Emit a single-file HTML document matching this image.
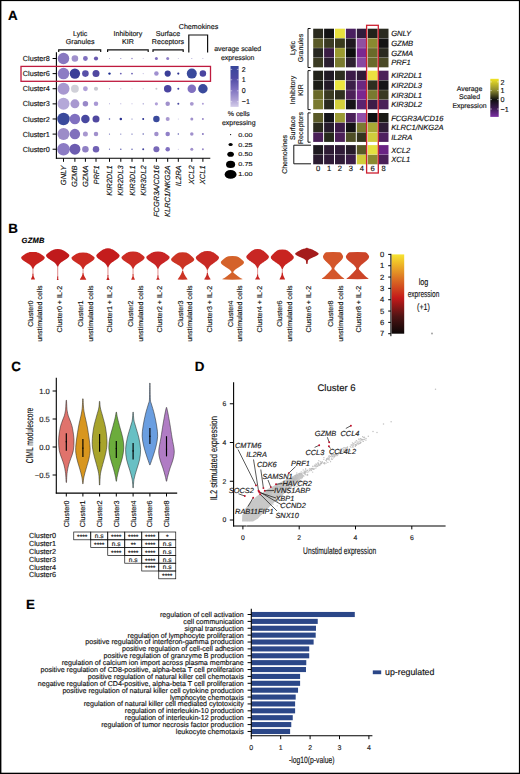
<!DOCTYPE html>
<html><head><meta charset="utf-8"><title>Figure</title>
<style>
html,body{margin:0;padding:0;background:#fff;}
body{width:520px;height:774px;overflow:hidden;}
svg{display:block;}
text{font-family:"Liberation Sans", sans-serif;text-rendering:geometricPrecision;}
</style></head>
<body>
<svg width="520" height="774" viewBox="0 0 520 774" font-family='"Liberation Sans", sans-serif'>
<rect x="0" y="0" width="520" height="774" fill="#fff"/>
<text x="8.00" y="19.80" font-size="13.4" text-anchor="start" fill="#000" stroke="#000" stroke-width="0.15" font-weight="bold">A</text>
<text x="8.30" y="233.10" font-size="13.4" text-anchor="start" fill="#000" stroke="#000" stroke-width="0.15" font-weight="bold">B</text>
<text x="11.30" y="370.80" font-size="13.4" text-anchor="start" fill="#000" stroke="#000" stroke-width="0.15" font-weight="bold">C</text>
<text x="194.80" y="370.80" font-size="13.4" text-anchor="start" fill="#000" stroke="#000" stroke-width="0.15" font-weight="bold">D</text>
<text x="26.00" y="609.20" font-size="13.4" text-anchor="start" fill="#000" stroke="#000" stroke-width="0.15" font-weight="bold">E</text>
<line x1="56.40" y1="52.30" x2="56.40" y2="158.80" stroke="#000" stroke-width="1.1"/>
<line x1="55.90" y1="158.30" x2="210.30" y2="158.30" stroke="#000" stroke-width="1.1"/>
<line x1="52.60" y1="58.50" x2="56.40" y2="58.50" stroke="#000" stroke-width="1.0"/>
<text x="49.80" y="61.05" font-size="7.25" text-anchor="end" fill="#111" stroke="#111" stroke-width="0.15">Cluster8</text>
<line x1="52.60" y1="73.62" x2="56.40" y2="73.62" stroke="#000" stroke-width="1.0"/>
<text x="49.80" y="76.17" font-size="7.25" text-anchor="end" fill="#111" stroke="#111" stroke-width="0.15">Cluster6</text>
<line x1="52.60" y1="88.74" x2="56.40" y2="88.74" stroke="#000" stroke-width="1.0"/>
<text x="49.80" y="91.29" font-size="7.25" text-anchor="end" fill="#111" stroke="#111" stroke-width="0.15">Cluster4</text>
<line x1="52.60" y1="103.86" x2="56.40" y2="103.86" stroke="#000" stroke-width="1.0"/>
<text x="49.80" y="106.41" font-size="7.25" text-anchor="end" fill="#111" stroke="#111" stroke-width="0.15">Cluster3</text>
<line x1="52.60" y1="118.98" x2="56.40" y2="118.98" stroke="#000" stroke-width="1.0"/>
<text x="49.80" y="121.53" font-size="7.25" text-anchor="end" fill="#111" stroke="#111" stroke-width="0.15">Cluster2</text>
<line x1="52.60" y1="134.10" x2="56.40" y2="134.10" stroke="#000" stroke-width="1.0"/>
<text x="49.80" y="136.65" font-size="7.25" text-anchor="end" fill="#111" stroke="#111" stroke-width="0.15">Cluster1</text>
<line x1="52.60" y1="149.22" x2="56.40" y2="149.22" stroke="#000" stroke-width="1.0"/>
<text x="49.80" y="151.77" font-size="7.25" text-anchor="end" fill="#111" stroke="#111" stroke-width="0.15">Cluster0</text>
<line x1="63.50" y1="158.30" x2="63.50" y2="161.80" stroke="#000" stroke-width="1.0"/>
<text x="66.10" y="165.40" font-size="7.5" text-anchor="end" fill="#111" stroke="#111" stroke-width="0.15" font-style="italic" transform="rotate(-90 66.10 165.40)">GNLY</text>
<line x1="74.90" y1="158.30" x2="74.90" y2="161.80" stroke="#000" stroke-width="1.0"/>
<text x="77.50" y="165.40" font-size="7.5" text-anchor="end" fill="#111" stroke="#111" stroke-width="0.15" font-style="italic" transform="rotate(-90 77.50 165.40)">GZMB</text>
<line x1="85.40" y1="158.30" x2="85.40" y2="161.80" stroke="#000" stroke-width="1.0"/>
<text x="88.00" y="165.40" font-size="7.5" text-anchor="end" fill="#111" stroke="#111" stroke-width="0.15" font-style="italic" transform="rotate(-90 88.00 165.40)">GZMA</text>
<line x1="96.00" y1="158.30" x2="96.00" y2="161.80" stroke="#000" stroke-width="1.0"/>
<text x="98.60" y="165.40" font-size="7.5" text-anchor="end" fill="#111" stroke="#111" stroke-width="0.15" font-style="italic" transform="rotate(-90 98.60 165.40)">PRF1</text>
<line x1="109.50" y1="158.30" x2="109.50" y2="161.80" stroke="#000" stroke-width="1.0"/>
<text x="112.10" y="165.40" font-size="7.5" text-anchor="end" fill="#111" stroke="#111" stroke-width="0.15" font-style="italic" transform="rotate(-90 112.10 165.40)">KIR2DL1</text>
<line x1="120.80" y1="158.30" x2="120.80" y2="161.80" stroke="#000" stroke-width="1.0"/>
<text x="123.40" y="165.40" font-size="7.5" text-anchor="end" fill="#111" stroke="#111" stroke-width="0.15" font-style="italic" transform="rotate(-90 123.40 165.40)">KIR2DL3</text>
<line x1="132.00" y1="158.30" x2="132.00" y2="161.80" stroke="#000" stroke-width="1.0"/>
<text x="134.60" y="165.40" font-size="7.5" text-anchor="end" fill="#111" stroke="#111" stroke-width="0.15" font-style="italic" transform="rotate(-90 134.60 165.40)">KIR3DL1</text>
<line x1="143.20" y1="158.30" x2="143.20" y2="161.80" stroke="#000" stroke-width="1.0"/>
<text x="145.80" y="165.40" font-size="7.5" text-anchor="end" fill="#111" stroke="#111" stroke-width="0.15" font-style="italic" transform="rotate(-90 145.80 165.40)">KIR3DL2</text>
<line x1="156.40" y1="158.30" x2="156.40" y2="161.80" stroke="#000" stroke-width="1.0"/>
<text x="159.00" y="165.40" font-size="7.5" text-anchor="end" fill="#111" stroke="#111" stroke-width="0.15" font-style="italic" transform="rotate(-90 159.00 165.40)">FCGR3A/CD16</text>
<line x1="167.70" y1="158.30" x2="167.70" y2="161.80" stroke="#000" stroke-width="1.0"/>
<text x="170.30" y="165.40" font-size="7.5" text-anchor="end" fill="#111" stroke="#111" stroke-width="0.15" font-style="italic" transform="rotate(-90 170.30 165.40)">KLRC1/NKG2A</text>
<line x1="178.30" y1="158.30" x2="178.30" y2="161.80" stroke="#000" stroke-width="1.0"/>
<text x="180.90" y="165.40" font-size="7.5" text-anchor="end" fill="#111" stroke="#111" stroke-width="0.15" font-style="italic" transform="rotate(-90 180.90 165.40)">IL2RA</text>
<line x1="191.80" y1="158.30" x2="191.80" y2="161.80" stroke="#000" stroke-width="1.0"/>
<text x="194.40" y="165.40" font-size="7.5" text-anchor="end" fill="#111" stroke="#111" stroke-width="0.15" font-style="italic" transform="rotate(-90 194.40 165.40)">XCL2</text>
<line x1="202.90" y1="158.30" x2="202.90" y2="161.80" stroke="#000" stroke-width="1.0"/>
<text x="205.50" y="165.40" font-size="7.5" text-anchor="end" fill="#111" stroke="#111" stroke-width="0.15" font-style="italic" transform="rotate(-90 205.50 165.40)">XCL1</text>
<circle cx="63.50" cy="58.50" r="5.75" fill="#8878c0"/>
<circle cx="74.90" cy="58.50" r="3.30" fill="#a090cc"/>
<circle cx="85.40" cy="58.50" r="2.40" fill="#8070c0"/>
<circle cx="96.00" cy="58.50" r="2.10" fill="#6a5ab0"/>
<circle cx="109.50" cy="58.50" r="0.50" fill="#b0a8d8"/>
<circle cx="120.80" cy="58.50" r="0.60" fill="#9088c8"/>
<circle cx="132.00" cy="58.50" r="0.65" fill="#8070c0"/>
<circle cx="143.20" cy="58.50" r="0.50" fill="#c0b8e0"/>
<circle cx="156.40" cy="58.50" r="1.50" fill="#8070c0"/>
<circle cx="167.70" cy="58.50" r="1.50" fill="#9080c8"/>
<circle cx="178.30" cy="58.50" r="0.50" fill="#c0b8e0"/>
<circle cx="191.80" cy="58.50" r="0.60" fill="#b0a8d8"/>
<circle cx="202.90" cy="58.50" r="0.50" fill="#b0a8d8"/>
<circle cx="63.50" cy="73.62" r="5.75" fill="#8c7cc4"/>
<circle cx="74.90" cy="73.62" r="5.20" fill="#3a3e98"/>
<circle cx="85.40" cy="73.62" r="3.30" fill="#5850a8"/>
<circle cx="96.00" cy="73.62" r="3.50" fill="#5048a0"/>
<circle cx="109.50" cy="73.62" r="1.20" fill="#1a2a90"/>
<circle cx="120.80" cy="73.62" r="0.90" fill="#6a60b4"/>
<circle cx="132.00" cy="73.62" r="0.90" fill="#6a60b4"/>
<circle cx="143.20" cy="73.62" r="0.60" fill="#c0b8e0"/>
<circle cx="156.40" cy="73.62" r="2.25" fill="#a090d0"/>
<circle cx="167.70" cy="73.62" r="3.10" fill="#3a3e98"/>
<circle cx="178.30" cy="73.62" r="1.10" fill="#2a3090"/>
<circle cx="191.80" cy="73.62" r="5.00" fill="#3a4a9c"/>
<circle cx="202.90" cy="73.62" r="3.25" fill="#4a44a0"/>
<circle cx="63.50" cy="88.74" r="6.00" fill="#a898d0"/>
<circle cx="74.90" cy="88.74" r="3.90" fill="#d0d0d8"/>
<circle cx="85.40" cy="88.74" r="2.40" fill="#b0a0d8"/>
<circle cx="96.00" cy="88.74" r="2.10" fill="#c8c8d0"/>
<circle cx="109.50" cy="88.74" r="0.60" fill="#9890c8"/>
<circle cx="120.80" cy="88.74" r="0.60" fill="#b0a8d8"/>
<circle cx="132.00" cy="88.74" r="0.50" fill="#d0d0d8"/>
<circle cx="143.20" cy="88.74" r="0.60" fill="#b0a8d8"/>
<circle cx="156.40" cy="88.74" r="1.00" fill="#c8c8d0"/>
<circle cx="167.70" cy="88.74" r="3.75" fill="#4a44a0"/>
<circle cx="178.30" cy="88.74" r="1.00" fill="#4040a0"/>
<circle cx="191.80" cy="88.74" r="4.25" fill="#8070c0"/>
<circle cx="202.90" cy="88.74" r="4.75" fill="#3a4a9c"/>
<circle cx="63.50" cy="103.86" r="6.00" fill="#b4a8d8"/>
<circle cx="74.90" cy="103.86" r="4.50" fill="#a898d0"/>
<circle cx="85.40" cy="103.86" r="2.75" fill="#9888c8"/>
<circle cx="96.00" cy="103.86" r="2.25" fill="#a898d4"/>
<circle cx="109.50" cy="103.86" r="0.50" fill="#a098d0"/>
<circle cx="120.80" cy="103.86" r="0.50" fill="#a098d0"/>
<circle cx="132.00" cy="103.86" r="0.50" fill="#b0a8d8"/>
<circle cx="143.20" cy="103.86" r="0.60" fill="#8078c0"/>
<circle cx="156.40" cy="103.86" r="1.60" fill="#b0a0d8"/>
<circle cx="167.70" cy="103.86" r="2.25" fill="#a090cc"/>
<circle cx="178.30" cy="103.86" r="1.00" fill="#4848a0"/>
<circle cx="191.80" cy="103.86" r="1.90" fill="#a898d0"/>
<circle cx="202.90" cy="103.86" r="1.00" fill="#b0a0d8"/>
<circle cx="63.50" cy="118.98" r="6.25" fill="#3a4a9c"/>
<circle cx="74.90" cy="118.98" r="5.25" fill="#8070c0"/>
<circle cx="85.40" cy="118.98" r="4.25" fill="#4848a0"/>
<circle cx="96.00" cy="118.98" r="3.50" fill="#5048a0"/>
<circle cx="109.50" cy="118.98" r="0.75" fill="#5050a8"/>
<circle cx="120.80" cy="118.98" r="1.25" fill="#2a3090"/>
<circle cx="132.00" cy="118.98" r="0.60" fill="#7070b8"/>
<circle cx="143.20" cy="118.98" r="1.00" fill="#2a3090"/>
<circle cx="156.40" cy="118.98" r="3.25" fill="#3a4a9c"/>
<circle cx="167.70" cy="118.98" r="2.00" fill="#a898d0"/>
<circle cx="178.30" cy="118.98" r="0.50" fill="#c0b8e0"/>
<circle cx="191.80" cy="118.98" r="1.50" fill="#a090cc"/>
<circle cx="202.90" cy="118.98" r="1.00" fill="#9888c8"/>
<circle cx="63.50" cy="134.10" r="6.00" fill="#9c8cc8"/>
<circle cx="74.90" cy="134.10" r="5.25" fill="#8070bc"/>
<circle cx="85.40" cy="134.10" r="2.50" fill="#a898d0"/>
<circle cx="96.00" cy="134.10" r="2.25" fill="#a090cc"/>
<circle cx="109.50" cy="134.10" r="0.60" fill="#7070b8"/>
<circle cx="120.80" cy="134.10" r="0.60" fill="#7070b8"/>
<circle cx="132.00" cy="134.10" r="0.65" fill="#6060b0"/>
<circle cx="143.20" cy="134.10" r="0.75" fill="#6060b0"/>
<circle cx="156.40" cy="134.10" r="2.25" fill="#a090cc"/>
<circle cx="167.70" cy="134.10" r="2.25" fill="#9080c8"/>
<circle cx="178.30" cy="134.10" r="0.75" fill="#6060b0"/>
<circle cx="191.80" cy="134.10" r="1.75" fill="#a090cc"/>
<circle cx="202.90" cy="134.10" r="1.00" fill="#8878c0"/>
<circle cx="63.50" cy="149.22" r="6.25" fill="#8c7cc4"/>
<circle cx="74.90" cy="149.22" r="5.50" fill="#6c5cb0"/>
<circle cx="85.40" cy="149.22" r="3.25" fill="#9080c4"/>
<circle cx="96.00" cy="149.22" r="3.25" fill="#7060b4"/>
<circle cx="109.50" cy="149.22" r="0.60" fill="#7070b8"/>
<circle cx="120.80" cy="149.22" r="0.75" fill="#6060b0"/>
<circle cx="132.00" cy="149.22" r="0.75" fill="#6060b0"/>
<circle cx="143.20" cy="149.22" r="1.00" fill="#4848a0"/>
<circle cx="156.40" cy="149.22" r="3.00" fill="#7868b8"/>
<circle cx="167.70" cy="149.22" r="2.25" fill="#8070c0"/>
<circle cx="178.30" cy="149.22" r="0.50" fill="#c0b8e0"/>
<circle cx="191.80" cy="149.22" r="1.50" fill="#a090cc"/>
<circle cx="202.90" cy="149.22" r="1.00" fill="#9888c8"/>
<rect x="21.00" y="66.40" width="189.50" height="14.90" fill="none" stroke="#be1a3e" stroke-width="1.3"/>
<path d="M58.70 52.10 V49.80 H100.70 V52.10" fill="none" stroke="#111" stroke-width="1.2"/>
<path d="M107.60 52.10 V49.80 H148.20 V52.10" fill="none" stroke="#111" stroke-width="1.2"/>
<path d="M153.00 52.10 V49.80 H183.20 V52.10" fill="none" stroke="#111" stroke-width="1.2"/>
<path d="M188.80 52.50 V35.00 H207.60 V52.50" fill="none" stroke="#111" stroke-width="1.2"/>
<text x="80.20" y="35.70" font-size="7.1" text-anchor="middle" fill="#111" stroke="#111" stroke-width="0.15">Lytic</text>
<text x="80.20" y="44.30" font-size="7.1" text-anchor="middle" fill="#111" stroke="#111" stroke-width="0.15">Granules</text>
<text x="127.90" y="35.70" font-size="7.1" text-anchor="middle" fill="#111" stroke="#111" stroke-width="0.15">Inhibitory</text>
<text x="127.90" y="44.30" font-size="7.1" text-anchor="middle" fill="#111" stroke="#111" stroke-width="0.15">KIR</text>
<text x="168.00" y="35.70" font-size="7.1" text-anchor="middle" fill="#111" stroke="#111" stroke-width="0.15">Surface</text>
<text x="168.00" y="44.30" font-size="7.1" text-anchor="middle" fill="#111" stroke="#111" stroke-width="0.15">Receptors</text>
<text x="198.50" y="29.30" font-size="7.1" text-anchor="middle" fill="#111" stroke="#111" stroke-width="0.15">Chemokines</text>
<text x="237.70" y="50.80" font-size="6.95" text-anchor="middle" fill="#111" stroke="#111" stroke-width="0.15">average scaled</text>
<text x="237.70" y="59.80" font-size="6.95" text-anchor="middle" fill="#111" stroke="#111" stroke-width="0.15">expression</text>
<defs><linearGradient id="gA" x1="0" y1="0" x2="0" y2="1"><stop offset="0" stop-color="#37469a"/><stop offset="0.28" stop-color="#4c48a2"/><stop offset="0.55" stop-color="#7a6ebe"/><stop offset="0.82" stop-color="#ab9fd4"/><stop offset="1" stop-color="#d4cdea"/></linearGradient></defs>
<rect x="230.50" y="66.00" width="8.10" height="40.90" fill="url(#gA)"/>
<line x1="230.50" y1="69.40" x2="232.20" y2="69.40" stroke="#fff" stroke-width="0.5"/>
<line x1="236.90" y1="69.40" x2="238.60" y2="69.40" stroke="#fff" stroke-width="0.5"/>
<text x="241.80" y="71.90" font-size="7.0" text-anchor="start" fill="#111" stroke="#111" stroke-width="0.15">2</text>
<line x1="230.50" y1="79.80" x2="232.20" y2="79.80" stroke="#fff" stroke-width="0.5"/>
<line x1="236.90" y1="79.80" x2="238.60" y2="79.80" stroke="#fff" stroke-width="0.5"/>
<text x="241.80" y="82.30" font-size="7.0" text-anchor="start" fill="#111" stroke="#111" stroke-width="0.15">1</text>
<line x1="230.50" y1="90.80" x2="232.20" y2="90.80" stroke="#fff" stroke-width="0.5"/>
<line x1="236.90" y1="90.80" x2="238.60" y2="90.80" stroke="#fff" stroke-width="0.5"/>
<text x="241.80" y="93.30" font-size="7.0" text-anchor="start" fill="#111" stroke="#111" stroke-width="0.15">0</text>
<line x1="230.50" y1="101.70" x2="232.20" y2="101.70" stroke="#fff" stroke-width="0.5"/>
<line x1="236.90" y1="101.70" x2="238.60" y2="101.70" stroke="#fff" stroke-width="0.5"/>
<text x="241.80" y="104.20" font-size="7.0" text-anchor="start" fill="#111" stroke="#111" stroke-width="0.15">−1</text>
<text x="238.80" y="115.80" font-size="6.95" text-anchor="middle" fill="#111" stroke="#111" stroke-width="0.15">% cells</text>
<text x="238.80" y="124.70" font-size="6.95" text-anchor="middle" fill="#111" stroke="#111" stroke-width="0.15">expressing</text>
<ellipse cx="230.6" cy="134.60" rx="0.65" ry="0.55" fill="#000"/>
<text x="0" y="0" font-size="7.3" fill="#111" stroke="#111" stroke-width="0.15" transform="translate(238.3 136.65) scale(1 0.78)">0.00</text>
<ellipse cx="230.6" cy="144.50" rx="2.10" ry="1.50" fill="#000"/>
<text x="0" y="0" font-size="7.3" fill="#111" stroke="#111" stroke-width="0.15" transform="translate(238.3 146.55) scale(1 0.78)">0.25</text>
<ellipse cx="230.6" cy="154.20" rx="3.30" ry="2.55" fill="#000"/>
<text x="0" y="0" font-size="7.3" fill="#111" stroke="#111" stroke-width="0.15" transform="translate(238.3 156.25) scale(1 0.78)">0.50</text>
<ellipse cx="230.6" cy="164.40" rx="4.55" ry="3.55" fill="#000"/>
<text x="0" y="0" font-size="7.3" fill="#111" stroke="#111" stroke-width="0.15" transform="translate(238.3 166.45) scale(1 0.78)">0.75</text>
<ellipse cx="230.6" cy="174.40" rx="5.95" ry="4.45" fill="#000"/>
<text x="0" y="0" font-size="7.3" fill="#111" stroke="#111" stroke-width="0.15" transform="translate(238.3 176.45) scale(1 0.78)">1.00</text>
<rect x="313.20" y="28.70" width="9.90" height="9.47" fill="#2a2a1e"/>
<rect x="324.10" y="28.70" width="9.90" height="9.47" fill="#141414"/>
<rect x="335.00" y="28.70" width="9.90" height="9.47" fill="#e8e040"/>
<rect x="345.90" y="28.70" width="9.90" height="9.47" fill="#4a2060"/>
<rect x="356.80" y="28.70" width="9.90" height="9.47" fill="#301c3c"/>
<rect x="367.70" y="28.70" width="9.90" height="9.47" fill="#22221a"/>
<rect x="378.60" y="28.70" width="9.90" height="9.47" fill="#2a2a20"/>
<text x="391.20" y="36.26" font-size="7.6" text-anchor="start" fill="#111" stroke="#111" stroke-width="0.15" font-style="italic">GNLY</text>
<rect x="313.20" y="38.42" width="9.90" height="9.47" fill="#5a5a28"/>
<rect x="324.10" y="38.42" width="9.90" height="9.47" fill="#3a3a22"/>
<rect x="335.00" y="38.42" width="9.90" height="9.47" fill="#3a3a1e"/>
<rect x="345.90" y="38.42" width="9.90" height="9.47" fill="#201820"/>
<rect x="356.80" y="38.42" width="9.90" height="9.47" fill="#9050a0"/>
<rect x="367.70" y="38.42" width="9.90" height="9.47" fill="#8a8a30"/>
<rect x="378.60" y="38.42" width="9.90" height="9.47" fill="#141414"/>
<text x="391.20" y="45.98" font-size="7.6" text-anchor="start" fill="#111" stroke="#111" stroke-width="0.15" font-style="italic">GZMB</text>
<rect x="313.20" y="48.14" width="9.90" height="9.47" fill="#262620"/>
<rect x="324.10" y="48.14" width="9.90" height="9.47" fill="#3a1c44"/>
<rect x="335.00" y="48.14" width="9.90" height="9.47" fill="#9a9a30"/>
<rect x="345.90" y="48.14" width="9.90" height="9.47" fill="#0e0e0e"/>
<rect x="356.80" y="48.14" width="9.90" height="9.47" fill="#7a2890"/>
<rect x="367.70" y="48.14" width="9.90" height="9.47" fill="#6a6a2a"/>
<rect x="378.60" y="48.14" width="9.90" height="9.47" fill="#2a2a20"/>
<text x="391.20" y="55.70" font-size="7.6" text-anchor="start" fill="#111" stroke="#111" stroke-width="0.15" font-style="italic">GZMA</text>
<rect x="313.20" y="57.86" width="9.90" height="9.47" fill="#3a3a22"/>
<rect x="324.10" y="57.86" width="9.90" height="9.47" fill="#2a1e30"/>
<rect x="335.00" y="57.86" width="9.90" height="9.47" fill="#7a7a30"/>
<rect x="345.90" y="57.86" width="9.90" height="9.47" fill="#2e2030"/>
<rect x="356.80" y="57.86" width="9.90" height="9.47" fill="#8848a0"/>
<rect x="367.70" y="57.86" width="9.90" height="9.47" fill="#6a6a2c"/>
<rect x="378.60" y="57.86" width="9.90" height="9.47" fill="#4a4a26"/>
<text x="391.20" y="65.42" font-size="7.6" text-anchor="start" fill="#111" stroke="#111" stroke-width="0.15" font-style="italic">PRF1</text>
<rect x="313.20" y="70.70" width="9.90" height="9.47" fill="#22221a"/>
<rect x="324.10" y="70.70" width="9.90" height="9.47" fill="#201a24"/>
<rect x="335.00" y="70.70" width="9.90" height="9.47" fill="#2e2e20"/>
<rect x="345.90" y="70.70" width="9.90" height="9.47" fill="#3c1c48"/>
<rect x="356.80" y="70.70" width="9.90" height="9.47" fill="#301c38"/>
<rect x="367.70" y="70.70" width="9.90" height="9.47" fill="#ece040"/>
<rect x="378.60" y="70.70" width="9.90" height="9.47" fill="#4a2058"/>
<text x="391.20" y="78.26" font-size="7.6" text-anchor="start" fill="#111" stroke="#111" stroke-width="0.15" font-style="italic">KIR2DL1</text>
<rect x="313.20" y="80.42" width="9.90" height="9.47" fill="#1e1e18"/>
<rect x="324.10" y="80.42" width="9.90" height="9.47" fill="#241a28"/>
<rect x="335.00" y="80.42" width="9.90" height="9.47" fill="#ece440"/>
<rect x="345.90" y="80.42" width="9.90" height="9.47" fill="#3c1e48"/>
<rect x="356.80" y="80.42" width="9.90" height="9.47" fill="#6a2880"/>
<rect x="367.70" y="80.42" width="9.90" height="9.47" fill="#2e2e20"/>
<rect x="378.60" y="80.42" width="9.90" height="9.47" fill="#141418"/>
<text x="391.20" y="87.98" font-size="7.6" text-anchor="start" fill="#111" stroke="#111" stroke-width="0.15" font-style="italic">KIR2DL3</text>
<rect x="313.20" y="90.14" width="9.90" height="9.47" fill="#6a6a2a"/>
<rect x="324.10" y="90.14" width="9.90" height="9.47" fill="#3a3a22"/>
<rect x="335.00" y="90.14" width="9.90" height="9.47" fill="#303020"/>
<rect x="345.90" y="90.14" width="9.90" height="9.47" fill="#4c2058"/>
<rect x="356.80" y="90.14" width="9.90" height="9.47" fill="#7a2890"/>
<rect x="367.70" y="90.14" width="9.90" height="9.47" fill="#7a7a30"/>
<rect x="378.60" y="90.14" width="9.90" height="9.47" fill="#3a3a22"/>
<text x="391.20" y="97.70" font-size="7.6" text-anchor="start" fill="#111" stroke="#111" stroke-width="0.15" font-style="italic">KIR3DL1</text>
<rect x="313.20" y="99.86" width="9.90" height="9.47" fill="#7a7a30"/>
<rect x="324.10" y="99.86" width="9.90" height="9.47" fill="#2a2a1e"/>
<rect x="335.00" y="99.86" width="9.90" height="9.47" fill="#d4d03c"/>
<rect x="345.90" y="99.86" width="9.90" height="9.47" fill="#161418"/>
<rect x="356.80" y="99.86" width="9.90" height="9.47" fill="#5a2470"/>
<rect x="367.70" y="99.86" width="9.90" height="9.47" fill="#3e1c48"/>
<rect x="378.60" y="99.86" width="9.90" height="9.47" fill="#4a2058"/>
<text x="391.20" y="107.42" font-size="7.6" text-anchor="start" fill="#111" stroke="#111" stroke-width="0.15" font-style="italic">KIR3DL2</text>
<rect x="313.20" y="113.00" width="9.90" height="9.47" fill="#5a5a28"/>
<rect x="324.10" y="113.00" width="9.90" height="9.47" fill="#141418"/>
<rect x="335.00" y="113.00" width="9.90" height="9.47" fill="#9a9a34"/>
<rect x="345.90" y="113.00" width="9.90" height="9.47" fill="#4a2058"/>
<rect x="356.80" y="113.00" width="9.90" height="9.47" fill="#9050a8"/>
<rect x="367.70" y="113.00" width="9.90" height="9.47" fill="#0e0e10"/>
<rect x="378.60" y="113.00" width="9.90" height="9.47" fill="#1a1a16"/>
<text x="391.20" y="120.56" font-size="7.6" text-anchor="start" fill="#111" stroke="#111" stroke-width="0.15" font-style="italic">FCGR3A/CD16</text>
<rect x="313.20" y="122.72" width="9.90" height="9.47" fill="#2a2a1e"/>
<rect x="324.10" y="122.72" width="9.90" height="9.47" fill="#261c2c"/>
<rect x="335.00" y="122.72" width="9.90" height="9.47" fill="#3c1c48"/>
<rect x="345.90" y="122.72" width="9.90" height="9.47" fill="#141214"/>
<rect x="356.80" y="122.72" width="9.90" height="9.47" fill="#7a7a30"/>
<rect x="367.70" y="122.72" width="9.90" height="9.47" fill="#a8a834"/>
<rect x="378.60" y="122.72" width="9.90" height="9.47" fill="#2e1c36"/>
<text x="391.20" y="130.28" font-size="7.6" text-anchor="start" fill="#111" stroke="#111" stroke-width="0.15" font-style="italic">KLRC1/NKG2A</text>
<rect x="313.20" y="132.44" width="9.90" height="9.47" fill="#4a2058"/>
<rect x="324.10" y="132.44" width="9.90" height="9.47" fill="#262a1c"/>
<rect x="335.00" y="132.44" width="9.90" height="9.47" fill="#4c2058"/>
<rect x="345.90" y="132.44" width="9.90" height="9.47" fill="#4e4e26"/>
<rect x="356.80" y="132.44" width="9.90" height="9.47" fill="#34341e"/>
<rect x="367.70" y="132.44" width="9.90" height="9.47" fill="#d0cc3c"/>
<rect x="378.60" y="132.44" width="9.90" height="9.47" fill="#4e2060"/>
<text x="391.20" y="140.00" font-size="7.6" text-anchor="start" fill="#111" stroke="#111" stroke-width="0.15" font-style="italic">IL2RA</text>
<rect x="313.20" y="145.10" width="9.90" height="9.47" fill="#1e1a20"/>
<rect x="324.10" y="145.10" width="9.90" height="9.47" fill="#2e1c34"/>
<rect x="335.00" y="145.10" width="9.90" height="9.47" fill="#301c38"/>
<rect x="345.90" y="145.10" width="9.90" height="9.47" fill="#261c2a"/>
<rect x="356.80" y="145.10" width="9.90" height="9.47" fill="#5a5a28"/>
<rect x="367.70" y="145.10" width="9.90" height="9.47" fill="#e4e040"/>
<rect x="378.60" y="145.10" width="9.90" height="9.47" fill="#6a2484"/>
<text x="391.20" y="152.66" font-size="7.6" text-anchor="start" fill="#111" stroke="#111" stroke-width="0.15" font-style="italic">XCL2</text>
<rect x="313.20" y="154.82" width="9.90" height="9.47" fill="#2a1c30"/>
<rect x="324.10" y="154.82" width="9.90" height="9.47" fill="#301c38"/>
<rect x="335.00" y="154.82" width="9.90" height="9.47" fill="#301c38"/>
<rect x="345.90" y="154.82" width="9.90" height="9.47" fill="#3c1e48"/>
<rect x="356.80" y="154.82" width="9.90" height="9.47" fill="#d0cc3c"/>
<rect x="367.70" y="154.82" width="9.90" height="9.47" fill="#8a8a30"/>
<rect x="378.60" y="154.82" width="9.90" height="9.47" fill="#4a2058"/>
<text x="391.20" y="162.38" font-size="7.6" text-anchor="start" fill="#111" stroke="#111" stroke-width="0.15" font-style="italic">XCL1</text>
<text x="318.15" y="171.40" font-size="7.6" text-anchor="middle" fill="#111" stroke="#111" stroke-width="0.15">0</text>
<text x="329.05" y="171.40" font-size="7.6" text-anchor="middle" fill="#111" stroke="#111" stroke-width="0.15">1</text>
<text x="339.95" y="171.40" font-size="7.6" text-anchor="middle" fill="#111" stroke="#111" stroke-width="0.15">2</text>
<text x="350.85" y="171.40" font-size="7.6" text-anchor="middle" fill="#111" stroke="#111" stroke-width="0.15">3</text>
<text x="361.75" y="171.40" font-size="7.6" text-anchor="middle" fill="#111" stroke="#111" stroke-width="0.15">4</text>
<text x="372.65" y="171.40" font-size="7.6" text-anchor="middle" fill="#111" stroke="#111" stroke-width="0.15">6</text>
<text x="383.55" y="171.40" font-size="7.6" text-anchor="middle" fill="#111" stroke="#111" stroke-width="0.15">8</text>
<rect x="366.60" y="25.30" width="11.70" height="147.70" fill="none" stroke="#cc2030" stroke-width="1.3"/>
<path d="M310.60 28.50 H308.00 V67.50 H310.60" fill="none" stroke="#151515" stroke-width="1.0"/>
<path d="M310.60 70.60 H308.00 V109.60 H310.60" fill="none" stroke="#151515" stroke-width="1.0"/>
<path d="M310.60 112.90 H308.00 V142.20 H310.60" fill="none" stroke="#151515" stroke-width="1.0"/>
<path d="M311.0 145.2 H293.8 V163.8 H311.0" fill="none" stroke="#151515" stroke-width="1.0"/>
<text x="294.60" y="48.00" font-size="7.0" text-anchor="middle" fill="#111" stroke="#111" stroke-width="0.15" transform="rotate(-90 294.60 48.00)">Lytic</text>
<text x="302.80" y="48.00" font-size="7.0" text-anchor="middle" fill="#111" stroke="#111" stroke-width="0.15" transform="rotate(-90 302.80 48.00)">Granules</text>
<text x="294.60" y="90.00" font-size="7.0" text-anchor="middle" fill="#111" stroke="#111" stroke-width="0.15" transform="rotate(-90 294.60 90.00)">Inhibitory</text>
<text x="302.80" y="90.00" font-size="7.0" text-anchor="middle" fill="#111" stroke="#111" stroke-width="0.15" transform="rotate(-90 302.80 90.00)">KIR</text>
<text x="294.60" y="128.00" font-size="7.0" text-anchor="middle" fill="#111" stroke="#111" stroke-width="0.15" transform="rotate(-90 294.60 128.00)">Surface</text>
<text x="302.80" y="128.00" font-size="7.0" text-anchor="middle" fill="#111" stroke="#111" stroke-width="0.15" transform="rotate(-90 302.80 128.00)">Receptors</text>
<text x="287.00" y="154.40" font-size="7.0" text-anchor="middle" fill="#111" stroke="#111" stroke-width="0.15" transform="rotate(-90 287.00 154.40)">Chemokines</text>
<text x="469.50" y="90.60" font-size="6.9" text-anchor="middle" fill="#111" stroke="#111" stroke-width="0.15">Average</text>
<text x="469.50" y="99.40" font-size="6.9" text-anchor="middle" fill="#111" stroke="#111" stroke-width="0.15">Scaled</text>
<text x="469.50" y="108.10" font-size="6.9" text-anchor="middle" fill="#111" stroke="#111" stroke-width="0.15">Expression</text>
<defs><linearGradient id="gH" x1="0" y1="0" x2="0" y2="1"><stop offset="0" stop-color="#f2e424"/><stop offset="0.3" stop-color="#8c8a30"/><stop offset="0.55" stop-color="#0e0e0e"/><stop offset="0.78" stop-color="#3c1a52"/><stop offset="1" stop-color="#7c30a4"/></linearGradient></defs>
<rect x="490.30" y="78.80" width="8.40" height="38.10" fill="url(#gH)"/>
<line x1="490.30" y1="81.90" x2="491.90" y2="81.90" stroke="#fff" stroke-width="0.5"/>
<line x1="497.10" y1="81.90" x2="498.70" y2="81.90" stroke="#fff" stroke-width="0.5"/>
<text x="500.60" y="84.50" font-size="7.2" text-anchor="start" fill="#111" stroke="#111" stroke-width="0.15">2</text>
<line x1="490.30" y1="90.60" x2="491.90" y2="90.60" stroke="#fff" stroke-width="0.5"/>
<line x1="497.10" y1="90.60" x2="498.70" y2="90.60" stroke="#fff" stroke-width="0.5"/>
<text x="500.60" y="93.20" font-size="7.2" text-anchor="start" fill="#111" stroke="#111" stroke-width="0.15">1</text>
<line x1="490.30" y1="99.60" x2="491.90" y2="99.60" stroke="#fff" stroke-width="0.5"/>
<line x1="497.10" y1="99.60" x2="498.70" y2="99.60" stroke="#fff" stroke-width="0.5"/>
<text x="500.60" y="102.20" font-size="7.2" text-anchor="start" fill="#111" stroke="#111" stroke-width="0.15">0</text>
<line x1="490.30" y1="109.00" x2="491.90" y2="109.00" stroke="#fff" stroke-width="0.5"/>
<line x1="497.10" y1="109.00" x2="498.70" y2="109.00" stroke="#fff" stroke-width="0.5"/>
<text x="500.60" y="111.60" font-size="7.2" text-anchor="start" fill="#111" stroke="#111" stroke-width="0.15">−1</text>
<text x="21.60" y="242.60" font-size="7.5" text-anchor="start" fill="#000" stroke="#000" stroke-width="0.15" font-style="italic" font-weight="bold" letter-spacing="0.25">GZMB</text>
<path d="M32.95 251.90 L36.29 252.09 L36.79 252.28 L37.36 252.47 L37.92 252.66 L38.45 252.84 L38.94 253.03 L39.37 253.22 L39.74 253.41 L40.07 253.60 L40.38 253.79 L40.66 253.98 L40.92 254.17 L41.19 254.35 L41.45 254.54 L41.72 254.73 L42.00 254.92 L42.28 255.11 L42.55 255.30 L42.81 255.49 L43.06 255.68 L43.30 255.86 L43.51 256.05 L43.72 256.24 L43.95 256.43 L44.17 256.62 L44.37 256.81 L44.54 257.00 L44.65 257.19 L44.70 257.37 L44.69 257.56 L44.67 257.75 L44.63 257.94 L44.59 258.13 L44.53 258.32 L44.47 258.51 L44.40 258.70 L44.29 258.88 L44.15 259.07 L43.98 259.26 L43.80 259.45 L43.60 259.64 L43.41 259.83 L43.20 260.02 L42.98 260.21 L42.74 260.39 L42.48 260.58 L42.22 260.77 L41.94 260.96 L41.65 261.15 L41.36 261.34 L41.07 261.53 L40.77 261.72 L40.47 261.90 L40.17 262.09 L39.88 262.28 L39.59 262.47 L39.31 262.66 L39.03 262.85 L38.74 263.04 L38.44 263.23 L38.14 263.41 L37.83 263.60 L37.53 263.79 L37.23 263.98 L36.94 264.17 L36.66 264.36 L36.40 264.55 L36.16 264.74 L35.94 264.92 L35.74 265.11 L35.56 265.30 L35.38 265.49 L35.21 265.68 L35.05 265.87 L34.89 266.06 L34.74 266.25 L34.60 266.43 L34.47 266.62 L34.34 266.81 L34.22 267.00 L34.11 267.19 L34.01 267.38 L33.92 267.57 L33.83 267.76 L33.75 267.94 L33.68 268.13 L33.61 268.32 L33.55 268.51 L33.50 268.70 L32.40 268.70 L32.35 268.51 L32.29 268.32 L32.22 268.13 L32.15 267.94 L32.07 267.76 L31.98 267.57 L31.89 267.38 L31.79 267.19 L31.68 267.00 L31.56 266.81 L31.43 266.62 L31.30 266.43 L31.16 266.25 L31.01 266.06 L30.85 265.87 L30.69 265.68 L30.52 265.49 L30.34 265.30 L30.16 265.11 L29.96 264.92 L29.74 264.74 L29.50 264.55 L29.24 264.36 L28.96 264.17 L28.67 263.98 L28.37 263.79 L28.07 263.60 L27.76 263.41 L27.46 263.23 L27.16 263.04 L26.87 262.85 L26.59 262.66 L26.31 262.47 L26.02 262.28 L25.73 262.09 L25.43 261.90 L25.13 261.72 L24.83 261.53 L24.54 261.34 L24.25 261.15 L23.96 260.96 L23.68 260.77 L23.42 260.58 L23.16 260.39 L22.92 260.21 L22.70 260.02 L22.49 259.83 L22.30 259.64 L22.10 259.45 L21.92 259.26 L21.75 259.07 L21.61 258.88 L21.50 258.70 L21.43 258.51 L21.37 258.32 L21.31 258.13 L21.27 257.94 L21.23 257.75 L21.21 257.56 L21.20 257.37 L21.25 257.19 L21.36 257.00 L21.53 256.81 L21.73 256.62 L21.95 256.43 L22.18 256.24 L22.39 256.05 L22.60 255.86 L22.84 255.68 L23.09 255.49 L23.35 255.30 L23.62 255.11 L23.90 254.92 L24.18 254.73 L24.45 254.54 L24.71 254.35 L24.98 254.17 L25.24 253.98 L25.52 253.79 L25.83 253.60 L26.16 253.41 L26.53 253.22 L26.96 253.03 L27.45 252.84 L27.98 252.66 L28.54 252.47 L29.11 252.28 L29.61 252.09 L32.95 251.90 Z" fill="#c8221e"/>
<rect x="32.45" y="268.50" width="1.00" height="6.00" fill="#c8221e" opacity="0.5"/>
<path d="M33.45 273.70 L33.45 273.85 L33.45 274.00 L33.46 274.15 L33.46 274.31 L33.47 274.46 L33.48 274.61 L33.49 274.76 L33.51 274.91 L33.52 275.06 L33.53 275.21 L33.55 275.36 L33.56 275.52 L33.58 275.67 L33.60 275.82 L33.63 275.97 L33.66 276.12 L33.71 276.27 L33.76 276.42 L33.82 276.57 L33.88 276.73 L33.94 276.88 L34.01 277.03 L34.07 277.18 L34.14 277.33 L34.20 277.48 L34.25 277.63 L34.31 277.78 L34.38 277.94 L34.44 278.09 L34.52 278.24 L34.59 278.39 L34.66 278.54 L34.73 278.69 L34.79 278.84 L34.85 278.99 L34.89 279.15 L34.93 279.30 L34.95 279.45 L32.95 279.60 L32.95 279.60 L30.95 279.45 L30.97 279.30 L31.01 279.15 L31.05 278.99 L31.11 278.84 L31.17 278.69 L31.24 278.54 L31.31 278.39 L31.38 278.24 L31.46 278.09 L31.52 277.94 L31.59 277.78 L31.65 277.63 L31.70 277.48 L31.76 277.33 L31.83 277.18 L31.89 277.03 L31.96 276.88 L32.02 276.73 L32.08 276.57 L32.14 276.42 L32.19 276.27 L32.24 276.12 L32.27 275.97 L32.30 275.82 L32.32 275.67 L32.34 275.52 L32.35 275.36 L32.37 275.21 L32.38 275.06 L32.39 274.91 L32.41 274.76 L32.42 274.61 L32.43 274.46 L32.44 274.31 L32.44 274.15 L32.45 274.00 L32.45 273.85 L32.45 273.70 Z" fill="#c8221e"/>
<path d="M57.70 249.00 L60.41 249.20 L60.85 249.40 L61.39 249.59 L61.93 249.79 L62.46 249.99 L62.96 250.19 L63.41 250.38 L63.81 250.58 L64.16 250.78 L64.48 250.98 L64.77 251.18 L65.05 251.37 L65.32 251.57 L65.58 251.77 L65.84 251.97 L66.11 252.16 L66.39 252.36 L66.67 252.56 L66.94 252.76 L67.21 252.96 L67.46 253.15 L67.71 253.35 L67.93 253.55 L68.14 253.75 L68.36 253.94 L68.58 254.14 L68.80 254.34 L69.00 254.54 L69.17 254.73 L69.29 254.93 L69.35 255.13 L69.35 255.33 L69.33 255.53 L69.29 255.72 L69.24 255.92 L69.18 256.12 L69.12 256.32 L69.05 256.51 L68.94 256.71 L68.79 256.91 L68.61 257.11 L68.42 257.31 L68.22 257.50 L68.02 257.70 L67.80 257.90 L67.57 258.10 L67.32 258.29 L67.05 258.49 L66.77 258.69 L66.48 258.89 L66.18 259.09 L65.88 259.28 L65.57 259.48 L65.27 259.68 L64.96 259.88 L64.66 260.07 L64.36 260.27 L64.07 260.47 L63.79 260.67 L63.49 260.87 L63.18 261.06 L62.87 261.26 L62.55 261.46 L62.24 261.66 L61.94 261.85 L61.64 262.05 L61.36 262.25 L61.09 262.45 L60.84 262.64 L60.62 262.84 L60.42 263.04 L60.24 263.24 L60.06 263.44 L59.89 263.63 L59.72 263.83 L59.56 264.03 L59.42 264.23 L59.27 264.42 L59.14 264.62 L59.02 264.82 L58.90 265.02 L58.79 265.22 L58.69 265.41 L58.60 265.61 L58.52 265.81 L58.44 266.01 L58.37 266.20 L58.30 266.40 L58.25 266.60 L57.15 266.60 L57.10 266.40 L57.03 266.20 L56.96 266.01 L56.88 265.81 L56.80 265.61 L56.71 265.41 L56.61 265.22 L56.50 265.02 L56.38 264.82 L56.26 264.62 L56.13 264.42 L55.98 264.23 L55.84 264.03 L55.68 263.83 L55.51 263.63 L55.34 263.44 L55.16 263.24 L54.98 263.04 L54.78 262.84 L54.56 262.64 L54.31 262.45 L54.04 262.25 L53.76 262.05 L53.46 261.85 L53.16 261.66 L52.85 261.46 L52.53 261.26 L52.22 261.06 L51.91 260.87 L51.61 260.67 L51.33 260.47 L51.04 260.27 L50.74 260.07 L50.44 259.88 L50.13 259.68 L49.83 259.48 L49.52 259.28 L49.22 259.09 L48.92 258.89 L48.63 258.69 L48.35 258.49 L48.08 258.29 L47.83 258.10 L47.60 257.90 L47.38 257.70 L47.18 257.50 L46.98 257.31 L46.79 257.11 L46.61 256.91 L46.46 256.71 L46.35 256.51 L46.28 256.32 L46.22 256.12 L46.16 255.92 L46.11 255.72 L46.07 255.53 L46.05 255.33 L46.05 255.13 L46.11 254.93 L46.23 254.73 L46.40 254.54 L46.60 254.34 L46.82 254.14 L47.04 253.94 L47.26 253.75 L47.47 253.55 L47.69 253.35 L47.94 253.15 L48.19 252.96 L48.46 252.76 L48.73 252.56 L49.01 252.36 L49.29 252.16 L49.56 251.97 L49.82 251.77 L50.08 251.57 L50.35 251.37 L50.63 251.18 L50.92 250.98 L51.24 250.78 L51.59 250.58 L51.99 250.38 L52.44 250.19 L52.94 249.99 L53.47 249.79 L54.01 249.59 L54.55 249.40 L54.99 249.20 L57.70 249.00 Z" fill="#c01a1c"/>
<rect x="57.20" y="266.40" width="1.00" height="11.00" fill="#c01a1c" opacity="0.5"/>
<path d="M58.20 276.60 L58.20 276.69 L58.20 276.77 L58.20 276.86 L58.20 276.95 L58.20 277.04 L58.20 277.12 L58.20 277.21 L58.20 277.30 L58.20 277.38 L58.20 277.47 L58.20 277.56 L58.20 277.65 L58.20 277.73 L58.20 277.82 L58.20 277.91 L58.20 277.99 L58.20 278.08 L58.21 278.17 L58.21 278.26 L58.22 278.34 L58.23 278.43 L58.24 278.52 L58.25 278.61 L58.26 278.69 L58.27 278.78 L58.28 278.87 L58.29 278.95 L58.31 279.04 L58.34 279.13 L58.37 279.22 L58.40 279.30 L58.44 279.39 L58.48 279.48 L58.51 279.56 L58.54 279.65 L58.57 279.74 L58.59 279.83 L58.60 279.91 L57.70 280.00 L57.70 280.00 L56.80 279.91 L56.81 279.83 L56.83 279.74 L56.86 279.65 L56.89 279.56 L56.92 279.48 L56.96 279.39 L57.00 279.30 L57.03 279.22 L57.06 279.13 L57.09 279.04 L57.11 278.95 L57.12 278.87 L57.13 278.78 L57.14 278.69 L57.15 278.61 L57.16 278.52 L57.17 278.43 L57.18 278.34 L57.19 278.26 L57.19 278.17 L57.20 278.08 L57.20 277.99 L57.20 277.91 L57.20 277.82 L57.20 277.73 L57.20 277.65 L57.20 277.56 L57.20 277.47 L57.20 277.38 L57.20 277.30 L57.20 277.21 L57.20 277.12 L57.20 277.04 L57.20 276.95 L57.20 276.86 L57.20 276.77 L57.20 276.69 L57.20 276.60 Z" fill="#c01a1c"/>
<path d="M83.05 252.50 L86.39 252.69 L86.88 252.87 L87.47 253.06 L88.05 253.25 L88.60 253.43 L89.10 253.62 L89.52 253.81 L89.89 253.99 L90.21 254.18 L90.51 254.37 L90.79 254.55 L91.06 254.74 L91.32 254.92 L91.60 255.11 L91.88 255.30 L92.16 255.48 L92.44 255.67 L92.71 255.86 L92.97 256.04 L93.21 256.23 L93.43 256.42 L93.65 256.60 L93.88 256.79 L94.10 256.98 L94.30 257.16 L94.46 257.35 L94.57 257.54 L94.60 257.72 L94.59 257.91 L94.56 258.10 L94.53 258.28 L94.48 258.47 L94.42 258.66 L94.36 258.84 L94.29 259.03 L94.19 259.21 L94.05 259.40 L93.89 259.59 L93.71 259.77 L93.52 259.96 L93.33 260.15 L93.14 260.33 L92.93 260.52 L92.70 260.71 L92.45 260.89 L92.20 261.08 L91.93 261.27 L91.66 261.45 L91.38 261.64 L91.10 261.83 L90.81 262.01 L90.52 262.20 L90.24 262.39 L89.96 262.57 L89.68 262.76 L89.41 262.94 L89.14 263.13 L88.86 263.32 L88.58 263.50 L88.29 263.69 L87.99 263.88 L87.70 264.06 L87.41 264.25 L87.13 264.44 L86.86 264.62 L86.60 264.81 L86.35 265.00 L86.13 265.18 L85.93 265.37 L85.74 265.56 L85.57 265.74 L85.40 265.93 L85.24 266.12 L85.09 266.30 L84.94 266.49 L84.80 266.68 L84.66 266.86 L84.54 267.05 L84.42 267.23 L84.30 267.42 L84.20 267.61 L84.10 267.79 L84.01 267.98 L83.93 268.17 L83.85 268.35 L83.78 268.54 L83.71 268.73 L83.65 268.91 L83.60 269.10 L82.50 269.10 L82.45 268.91 L82.39 268.73 L82.32 268.54 L82.25 268.35 L82.17 268.17 L82.09 267.98 L82.00 267.79 L81.90 267.61 L81.80 267.42 L81.68 267.23 L81.56 267.05 L81.44 266.86 L81.30 266.68 L81.16 266.49 L81.01 266.30 L80.86 266.12 L80.70 265.93 L80.53 265.74 L80.36 265.56 L80.17 265.37 L79.97 265.18 L79.75 265.00 L79.50 264.81 L79.24 264.62 L78.97 264.44 L78.69 264.25 L78.40 264.06 L78.11 263.88 L77.81 263.69 L77.52 263.50 L77.24 263.32 L76.96 263.13 L76.69 262.94 L76.42 262.76 L76.14 262.57 L75.86 262.39 L75.58 262.20 L75.29 262.01 L75.00 261.83 L74.72 261.64 L74.44 261.45 L74.17 261.27 L73.90 261.08 L73.65 260.89 L73.40 260.71 L73.17 260.52 L72.96 260.33 L72.77 260.15 L72.58 259.96 L72.39 259.77 L72.21 259.59 L72.05 259.40 L71.91 259.21 L71.81 259.03 L71.74 258.84 L71.68 258.66 L71.62 258.47 L71.57 258.28 L71.54 258.10 L71.51 257.91 L71.50 257.72 L71.53 257.54 L71.64 257.35 L71.80 257.16 L72.00 256.98 L72.22 256.79 L72.45 256.60 L72.67 256.42 L72.89 256.23 L73.13 256.04 L73.39 255.86 L73.66 255.67 L73.94 255.48 L74.22 255.30 L74.50 255.11 L74.78 254.92 L75.04 254.74 L75.31 254.55 L75.59 254.37 L75.89 254.18 L76.21 253.99 L76.58 253.81 L77.00 253.62 L77.50 253.43 L78.05 253.25 L78.63 253.06 L79.22 252.87 L79.71 252.69 L83.05 252.50 Z" fill="#cc2a22"/>
<rect x="82.55" y="268.90" width="1.00" height="5.10" fill="#cc2a22" opacity="0.5"/>
<path d="M83.55 273.20 L83.57 273.37 L83.59 273.54 L83.61 273.71 L83.64 273.88 L83.68 274.05 L83.71 274.22 L83.75 274.38 L83.80 274.55 L83.84 274.72 L83.89 274.89 L83.94 275.06 L83.99 275.23 L84.04 275.40 L84.09 275.57 L84.16 275.74 L84.23 275.91 L84.30 276.08 L84.39 276.25 L84.47 276.42 L84.56 276.58 L84.66 276.75 L84.75 276.92 L84.84 277.09 L84.94 277.26 L85.03 277.43 L85.11 277.60 L85.20 277.77 L85.30 277.94 L85.41 278.11 L85.52 278.28 L85.64 278.45 L85.75 278.62 L85.86 278.78 L85.95 278.95 L86.04 279.12 L86.11 279.29 L86.16 279.46 L86.19 279.63 L83.05 279.80 L83.05 279.80 L79.91 279.63 L79.94 279.46 L79.99 279.29 L80.06 279.12 L80.15 278.95 L80.24 278.78 L80.35 278.62 L80.46 278.45 L80.58 278.28 L80.69 278.11 L80.80 277.94 L80.90 277.77 L80.99 277.60 L81.07 277.43 L81.16 277.26 L81.26 277.09 L81.35 276.92 L81.44 276.75 L81.54 276.58 L81.63 276.42 L81.71 276.25 L81.80 276.08 L81.87 275.91 L81.94 275.74 L82.01 275.57 L82.06 275.40 L82.11 275.23 L82.16 275.06 L82.21 274.89 L82.26 274.72 L82.30 274.55 L82.35 274.38 L82.39 274.22 L82.42 274.05 L82.46 273.88 L82.49 273.71 L82.51 273.54 L82.53 273.37 L82.55 273.20 Z" fill="#cc2a22"/>
<path d="M107.95 248.30 L110.30 248.51 L110.74 248.72 L111.24 248.94 L111.75 249.15 L112.26 249.36 L112.75 249.57 L113.20 249.79 L113.61 250.00 L113.97 250.21 L114.29 250.42 L114.60 250.64 L114.88 250.85 L115.15 251.06 L115.42 251.27 L115.67 251.49 L115.93 251.70 L116.20 251.91 L116.47 252.12 L116.74 252.33 L117.01 252.55 L117.27 252.76 L117.53 252.97 L117.77 253.18 L118.00 253.40 L118.21 253.61 L118.42 253.82 L118.64 254.03 L118.86 254.25 L119.07 254.46 L119.26 254.67 L119.42 254.88 L119.53 255.10 L119.59 255.31 L119.60 255.52 L119.58 255.73 L119.54 255.94 L119.49 256.16 L119.43 256.37 L119.36 256.58 L119.28 256.79 L119.16 257.01 L119.00 257.22 L118.82 257.43 L118.62 257.64 L118.41 257.86 L118.20 258.07 L117.97 258.28 L117.72 258.49 L117.45 258.71 L117.17 258.92 L116.87 259.13 L116.57 259.34 L116.26 259.56 L115.95 259.77 L115.63 259.98 L115.31 260.19 L115.00 260.40 L114.69 260.62 L114.39 260.83 L114.09 261.04 L113.79 261.25 L113.47 261.47 L113.15 261.68 L112.82 261.89 L112.50 262.10 L112.18 262.32 L111.88 262.53 L111.59 262.74 L111.31 262.95 L111.06 263.17 L110.84 263.38 L110.64 263.59 L110.45 263.80 L110.26 264.01 L110.09 264.23 L109.92 264.44 L109.76 264.65 L109.61 264.86 L109.47 265.08 L109.34 265.29 L109.21 265.50 L109.09 265.71 L108.99 265.93 L108.89 266.14 L108.79 266.35 L108.71 266.56 L108.63 266.78 L108.56 266.99 L108.50 267.20 L107.40 267.20 L107.34 266.99 L107.27 266.78 L107.19 266.56 L107.11 266.35 L107.01 266.14 L106.91 265.93 L106.81 265.71 L106.69 265.50 L106.56 265.29 L106.43 265.08 L106.29 264.86 L106.14 264.65 L105.98 264.44 L105.81 264.23 L105.64 264.01 L105.45 263.80 L105.26 263.59 L105.06 263.38 L104.84 263.17 L104.59 262.95 L104.31 262.74 L104.02 262.53 L103.72 262.32 L103.40 262.10 L103.08 261.89 L102.75 261.68 L102.43 261.47 L102.11 261.25 L101.81 261.04 L101.51 260.83 L101.21 260.62 L100.90 260.40 L100.59 260.19 L100.27 259.98 L99.95 259.77 L99.64 259.56 L99.33 259.34 L99.03 259.13 L98.73 258.92 L98.45 258.71 L98.18 258.49 L97.93 258.28 L97.70 258.07 L97.49 257.86 L97.28 257.64 L97.08 257.43 L96.90 257.22 L96.74 257.01 L96.62 256.79 L96.54 256.58 L96.47 256.37 L96.41 256.16 L96.36 255.94 L96.32 255.73 L96.30 255.52 L96.31 255.31 L96.37 255.10 L96.48 254.88 L96.64 254.67 L96.83 254.46 L97.04 254.25 L97.26 254.03 L97.48 253.82 L97.69 253.61 L97.90 253.40 L98.13 253.18 L98.37 252.97 L98.63 252.76 L98.89 252.55 L99.16 252.33 L99.43 252.12 L99.70 251.91 L99.97 251.70 L100.23 251.49 L100.48 251.27 L100.75 251.06 L101.02 250.85 L101.30 250.64 L101.61 250.42 L101.93 250.21 L102.29 250.00 L102.70 249.79 L103.15 249.57 L103.64 249.36 L104.15 249.15 L104.66 248.94 L105.16 248.72 L105.60 248.51 L107.95 248.30 Z" fill="#c41c1c"/>
<rect x="107.45" y="267.00" width="1.00" height="9.00" fill="#c41c1c" opacity="0.5"/>
<path d="M108.45 275.20 L108.45 275.32 L108.45 275.45 L108.45 275.57 L108.45 275.69 L108.45 275.82 L108.45 275.94 L108.45 276.06 L108.45 276.18 L108.45 276.31 L108.45 276.43 L108.45 276.55 L108.45 276.68 L108.45 276.80 L108.45 276.92 L108.46 277.05 L108.47 277.17 L108.50 277.29 L108.53 277.42 L108.57 277.54 L108.62 277.66 L108.67 277.78 L108.72 277.91 L108.77 278.03 L108.82 278.15 L108.87 278.28 L108.92 278.40 L108.96 278.52 L109.01 278.65 L109.06 278.77 L109.12 278.89 L109.17 279.02 L109.23 279.14 L109.28 279.26 L109.33 279.38 L109.37 279.51 L109.41 279.63 L109.43 279.75 L109.45 279.88 L107.95 280.00 L107.95 280.00 L106.45 279.88 L106.47 279.75 L106.49 279.63 L106.53 279.51 L106.57 279.38 L106.62 279.26 L106.67 279.14 L106.73 279.02 L106.78 278.89 L106.84 278.77 L106.89 278.65 L106.94 278.52 L106.98 278.40 L107.03 278.28 L107.08 278.15 L107.13 278.03 L107.18 277.91 L107.23 277.78 L107.28 277.66 L107.33 277.54 L107.37 277.42 L107.40 277.29 L107.43 277.17 L107.44 277.05 L107.45 276.92 L107.45 276.80 L107.45 276.68 L107.45 276.55 L107.45 276.43 L107.45 276.31 L107.45 276.18 L107.45 276.06 L107.45 275.94 L107.45 275.82 L107.45 275.69 L107.45 275.57 L107.45 275.45 L107.45 275.32 L107.45 275.20 Z" fill="#c41c1c"/>
<path d="M133.05 251.50 L136.41 251.69 L136.90 251.89 L137.45 252.08 L137.97 252.27 L138.47 252.47 L138.92 252.66 L139.33 252.85 L139.68 253.05 L140.00 253.24 L140.30 253.43 L140.57 253.63 L140.83 253.82 L141.08 254.01 L141.32 254.21 L141.58 254.40 L141.84 254.59 L142.10 254.79 L142.36 254.98 L142.62 255.17 L142.86 255.37 L143.09 255.56 L143.31 255.75 L143.50 255.94 L143.71 256.14 L143.93 256.33 L144.13 256.52 L144.32 256.72 L144.46 256.91 L144.56 257.10 L144.60 257.30 L144.59 257.49 L144.57 257.68 L144.53 257.88 L144.48 258.07 L144.42 258.26 L144.36 258.46 L144.28 258.65 L144.17 258.84 L144.02 259.04 L143.85 259.23 L143.66 259.42 L143.47 259.62 L143.27 259.81 L143.06 260.00 L142.83 260.20 L142.59 260.39 L142.33 260.58 L142.06 260.78 L141.78 260.97 L141.50 261.16 L141.20 261.36 L140.91 261.55 L140.61 261.74 L140.31 261.94 L140.02 262.13 L139.73 262.32 L139.45 262.52 L139.17 262.71 L138.89 262.90 L138.59 263.10 L138.29 263.29 L137.99 263.48 L137.68 263.68 L137.39 263.87 L137.09 264.06 L136.81 264.26 L136.55 264.45 L136.30 264.64 L136.07 264.83 L135.87 265.03 L135.68 265.22 L135.50 265.41 L135.33 265.61 L135.17 265.80 L135.01 265.99 L134.86 266.19 L134.72 266.38 L134.59 266.57 L134.46 266.77 L134.34 266.96 L134.23 267.15 L134.13 267.35 L134.03 267.54 L133.94 267.73 L133.86 267.93 L133.78 268.12 L133.72 268.31 L133.65 268.51 L133.60 268.70 L132.50 268.70 L132.45 268.51 L132.38 268.31 L132.32 268.12 L132.24 267.93 L132.16 267.73 L132.07 267.54 L131.97 267.35 L131.87 267.15 L131.76 266.96 L131.64 266.77 L131.51 266.57 L131.38 266.38 L131.24 266.19 L131.09 265.99 L130.93 265.80 L130.77 265.61 L130.60 265.41 L130.42 265.22 L130.23 265.03 L130.03 264.83 L129.80 264.64 L129.55 264.45 L129.29 264.26 L129.01 264.06 L128.71 263.87 L128.42 263.68 L128.11 263.48 L127.81 263.29 L127.51 263.10 L127.21 262.90 L126.93 262.71 L126.65 262.52 L126.37 262.32 L126.08 262.13 L125.79 261.94 L125.49 261.74 L125.19 261.55 L124.90 261.36 L124.60 261.16 L124.32 260.97 L124.04 260.78 L123.77 260.58 L123.51 260.39 L123.27 260.20 L123.04 260.00 L122.83 259.81 L122.63 259.62 L122.44 259.42 L122.25 259.23 L122.08 259.04 L121.93 258.84 L121.82 258.65 L121.74 258.46 L121.68 258.26 L121.62 258.07 L121.57 257.88 L121.53 257.68 L121.51 257.49 L121.50 257.30 L121.54 257.10 L121.64 256.91 L121.78 256.72 L121.97 256.52 L122.17 256.33 L122.39 256.14 L122.60 255.94 L122.79 255.75 L123.01 255.56 L123.24 255.37 L123.48 255.17 L123.74 254.98 L124.00 254.79 L124.26 254.59 L124.52 254.40 L124.78 254.21 L125.02 254.01 L125.27 253.82 L125.53 253.63 L125.80 253.43 L126.10 253.24 L126.42 253.05 L126.77 252.85 L127.18 252.66 L127.63 252.47 L128.13 252.27 L128.65 252.08 L129.20 251.89 L129.69 251.69 L133.05 251.50 Z" fill="#cc2c24"/>
<rect x="132.55" y="268.50" width="1.00" height="6.50" fill="#cc2c24" opacity="0.5"/>
<path d="M133.55 274.20 L133.55 274.34 L133.55 274.49 L133.55 274.63 L133.56 274.77 L133.56 274.92 L133.57 275.06 L133.57 275.21 L133.58 275.35 L133.59 275.49 L133.59 275.64 L133.60 275.78 L133.61 275.92 L133.62 276.07 L133.63 276.21 L133.65 276.35 L133.68 276.50 L133.72 276.64 L133.76 276.78 L133.82 276.93 L133.87 277.07 L133.93 277.22 L133.99 277.36 L134.05 277.50 L134.11 277.65 L134.17 277.79 L134.22 277.93 L134.27 278.08 L134.33 278.22 L134.39 278.36 L134.46 278.51 L134.52 278.65 L134.59 278.79 L134.65 278.94 L134.71 279.08 L134.76 279.23 L134.80 279.37 L134.83 279.51 L134.85 279.66 L133.05 279.80 L133.05 279.80 L131.25 279.66 L131.27 279.51 L131.30 279.37 L131.34 279.23 L131.39 279.08 L131.45 278.94 L131.51 278.79 L131.58 278.65 L131.64 278.51 L131.71 278.36 L131.77 278.22 L131.83 278.08 L131.88 277.93 L131.93 277.79 L131.99 277.65 L132.05 277.50 L132.11 277.36 L132.17 277.22 L132.23 277.07 L132.28 276.93 L132.34 276.78 L132.38 276.64 L132.42 276.50 L132.45 276.35 L132.47 276.21 L132.48 276.07 L132.49 275.92 L132.50 275.78 L132.51 275.64 L132.51 275.49 L132.52 275.35 L132.53 275.21 L132.53 275.06 L132.54 274.92 L132.54 274.77 L132.55 274.63 L132.55 274.49 L132.55 274.34 L132.55 274.20 Z" fill="#cc2c24"/>
<path d="M157.95 251.50 L161.21 251.69 L161.71 251.89 L162.29 252.08 L162.87 252.27 L163.41 252.47 L163.91 252.66 L164.34 252.85 L164.71 253.05 L165.04 253.24 L165.34 253.43 L165.63 253.63 L165.90 253.82 L166.17 254.01 L166.44 254.21 L166.72 254.40 L167.00 254.59 L167.29 254.79 L167.56 254.98 L167.83 255.17 L168.08 255.37 L168.30 255.56 L168.52 255.75 L168.75 255.94 L168.98 256.14 L169.19 256.33 L169.38 256.52 L169.52 256.72 L169.59 256.91 L169.60 257.10 L169.58 257.30 L169.55 257.49 L169.51 257.68 L169.45 257.88 L169.40 258.07 L169.33 258.26 L169.25 258.46 L169.12 258.65 L168.97 258.84 L168.80 259.04 L168.61 259.23 L168.42 259.42 L168.22 259.62 L168.02 259.81 L167.79 260.00 L167.55 260.20 L167.30 260.39 L167.03 260.58 L166.76 260.78 L166.48 260.97 L166.19 261.16 L165.90 261.36 L165.61 261.55 L165.32 261.74 L165.03 261.94 L164.75 262.13 L164.47 262.32 L164.20 262.52 L163.92 262.71 L163.63 262.90 L163.34 263.10 L163.04 263.29 L162.74 263.48 L162.45 263.68 L162.16 263.87 L161.88 264.06 L161.61 264.26 L161.36 264.45 L161.12 264.64 L160.91 264.83 L160.72 265.03 L160.54 265.22 L160.36 265.41 L160.20 265.61 L160.04 265.80 L159.89 265.99 L159.74 266.19 L159.61 266.38 L159.48 266.57 L159.35 266.77 L159.24 266.96 L159.13 267.15 L159.02 267.35 L158.93 267.54 L158.84 267.73 L158.76 267.93 L158.69 268.12 L158.62 268.31 L158.55 268.51 L158.50 268.70 L157.40 268.70 L157.35 268.51 L157.28 268.31 L157.21 268.12 L157.14 267.93 L157.06 267.73 L156.97 267.54 L156.88 267.35 L156.77 267.15 L156.66 266.96 L156.55 266.77 L156.42 266.57 L156.29 266.38 L156.16 266.19 L156.01 265.99 L155.86 265.80 L155.70 265.61 L155.54 265.41 L155.36 265.22 L155.18 265.03 L154.99 264.83 L154.78 264.64 L154.54 264.45 L154.29 264.26 L154.02 264.06 L153.74 263.87 L153.45 263.68 L153.16 263.48 L152.86 263.29 L152.56 263.10 L152.27 262.90 L151.98 262.71 L151.70 262.52 L151.43 262.32 L151.15 262.13 L150.87 261.94 L150.58 261.74 L150.29 261.55 L150.00 261.36 L149.71 261.16 L149.42 260.97 L149.14 260.78 L148.87 260.58 L148.60 260.39 L148.35 260.20 L148.11 260.00 L147.88 259.81 L147.68 259.62 L147.48 259.42 L147.29 259.23 L147.10 259.04 L146.93 258.84 L146.78 258.65 L146.65 258.46 L146.57 258.26 L146.50 258.07 L146.45 257.88 L146.39 257.68 L146.35 257.49 L146.32 257.30 L146.30 257.10 L146.31 256.91 L146.38 256.72 L146.52 256.52 L146.71 256.33 L146.92 256.14 L147.15 255.94 L147.38 255.75 L147.60 255.56 L147.82 255.37 L148.07 255.17 L148.34 254.98 L148.61 254.79 L148.90 254.59 L149.18 254.40 L149.46 254.21 L149.73 254.01 L150.00 253.82 L150.27 253.63 L150.56 253.43 L150.86 253.24 L151.19 253.05 L151.56 252.85 L151.99 252.66 L152.49 252.47 L153.03 252.27 L153.61 252.08 L154.19 251.89 L154.69 251.69 L157.95 251.50 Z" fill="#c82424"/>
<rect x="157.45" y="268.50" width="1.00" height="7.90" fill="#c82424" opacity="0.5"/>
<path d="M158.45 275.60 L158.45 275.71 L158.45 275.82 L158.45 275.92 L158.45 276.03 L158.46 276.14 L158.46 276.25 L158.46 276.35 L158.46 276.46 L158.47 276.57 L158.47 276.68 L158.48 276.78 L158.48 276.89 L158.49 277.00 L158.49 277.11 L158.50 277.22 L158.52 277.32 L158.55 277.43 L158.59 277.54 L158.64 277.65 L158.69 277.75 L158.75 277.86 L158.81 277.97 L158.87 278.08 L158.93 278.18 L158.99 278.29 L159.04 278.40 L159.09 278.51 L159.14 278.62 L159.20 278.72 L159.27 278.83 L159.33 278.94 L159.40 279.05 L159.46 279.15 L159.51 279.26 L159.56 279.37 L159.60 279.48 L159.63 279.58 L159.65 279.69 L157.95 279.80 L157.95 279.80 L156.25 279.69 L156.27 279.58 L156.30 279.48 L156.34 279.37 L156.39 279.26 L156.44 279.15 L156.50 279.05 L156.57 278.94 L156.63 278.83 L156.70 278.72 L156.76 278.62 L156.81 278.51 L156.86 278.40 L156.91 278.29 L156.97 278.18 L157.03 278.08 L157.09 277.97 L157.15 277.86 L157.21 277.75 L157.26 277.65 L157.31 277.54 L157.35 277.43 L157.38 277.32 L157.40 277.22 L157.41 277.11 L157.41 277.00 L157.42 276.89 L157.42 276.78 L157.43 276.68 L157.43 276.57 L157.44 276.46 L157.44 276.35 L157.44 276.25 L157.44 276.14 L157.45 276.03 L157.45 275.92 L157.45 275.82 L157.45 275.71 L157.45 275.60 Z" fill="#c82424"/>
<path d="M182.65 252.20 L185.83 252.39 L186.27 252.59 L186.74 252.78 L187.17 252.98 L187.58 253.17 L187.96 253.37 L188.31 253.56 L188.64 253.76 L188.95 253.95 L189.23 254.14 L189.49 254.34 L189.74 254.53 L189.97 254.73 L190.19 254.92 L190.41 255.12 L190.62 255.31 L190.83 255.50 L191.05 255.70 L191.26 255.89 L191.49 256.09 L191.71 256.28 L191.93 256.48 L192.14 256.67 L192.35 256.87 L192.55 257.06 L192.74 257.25 L192.91 257.45 L193.08 257.64 L193.25 257.84 L193.43 258.03 L193.61 258.23 L193.78 258.42 L193.93 258.61 L194.05 258.81 L194.14 259.00 L194.19 259.20 L194.20 259.39 L194.18 259.59 L194.14 259.78 L194.08 259.98 L194.02 260.17 L193.94 260.36 L193.84 260.56 L193.69 260.75 L193.51 260.95 L193.30 261.14 L193.08 261.34 L192.85 261.53 L192.61 261.72 L192.35 261.92 L192.06 262.11 L191.76 262.31 L191.44 262.50 L191.12 262.70 L190.78 262.89 L190.45 263.09 L190.11 263.28 L189.77 263.47 L189.44 263.67 L189.11 263.86 L188.80 264.06 L188.47 264.25 L188.14 264.45 L187.79 264.64 L187.44 264.83 L187.10 265.03 L186.77 265.22 L186.44 265.42 L186.14 265.61 L185.86 265.81 L185.60 266.00 L185.38 266.20 L185.18 266.39 L184.98 266.58 L184.78 266.78 L184.60 266.97 L184.43 267.17 L184.27 267.36 L184.12 267.56 L183.98 267.75 L183.85 267.94 L183.73 268.14 L183.63 268.33 L183.54 268.53 L183.45 268.72 L183.38 268.92 L183.31 269.11 L183.25 269.31 L183.20 269.50 L182.10 269.50 L182.05 269.31 L181.99 269.11 L181.92 268.92 L181.85 268.72 L181.76 268.53 L181.67 268.33 L181.57 268.14 L181.45 267.94 L181.32 267.75 L181.18 267.56 L181.03 267.36 L180.87 267.17 L180.70 266.97 L180.52 266.78 L180.32 266.58 L180.12 266.39 L179.92 266.20 L179.70 266.00 L179.44 265.81 L179.16 265.61 L178.86 265.42 L178.53 265.22 L178.20 265.03 L177.86 264.83 L177.51 264.64 L177.16 264.45 L176.83 264.25 L176.50 264.06 L176.19 263.86 L175.86 263.67 L175.53 263.47 L175.19 263.28 L174.85 263.09 L174.52 262.89 L174.18 262.70 L173.86 262.50 L173.54 262.31 L173.24 262.11 L172.95 261.92 L172.69 261.72 L172.45 261.53 L172.22 261.34 L172.00 261.14 L171.79 260.95 L171.61 260.75 L171.46 260.56 L171.36 260.36 L171.28 260.17 L171.22 259.98 L171.16 259.78 L171.12 259.59 L171.10 259.39 L171.11 259.20 L171.16 259.00 L171.25 258.81 L171.37 258.61 L171.52 258.42 L171.69 258.23 L171.87 258.03 L172.05 257.84 L172.22 257.64 L172.39 257.45 L172.56 257.25 L172.75 257.06 L172.95 256.87 L173.16 256.67 L173.37 256.48 L173.59 256.28 L173.81 256.09 L174.04 255.89 L174.25 255.70 L174.47 255.50 L174.68 255.31 L174.89 255.12 L175.11 254.92 L175.33 254.73 L175.56 254.53 L175.81 254.34 L176.07 254.14 L176.35 253.95 L176.66 253.76 L176.99 253.56 L177.34 253.37 L177.72 253.17 L178.13 252.98 L178.56 252.78 L179.03 252.59 L179.47 252.39 L182.65 252.20 Z" fill="#cc3424"/>
<rect x="182.15" y="269.30" width="1.00" height="2.60" fill="#cc3424" opacity="0.5"/>
<path d="M183.15 271.10 L183.21 271.32 L183.28 271.54 L183.35 271.77 L183.42 271.99 L183.50 272.21 L183.58 272.43 L183.66 272.65 L183.75 272.87 L183.84 273.10 L183.93 273.32 L184.03 273.54 L184.12 273.76 L184.22 273.98 L184.33 274.21 L184.44 274.43 L184.56 274.65 L184.68 274.87 L184.81 275.09 L184.94 275.31 L185.08 275.54 L185.21 275.76 L185.35 275.98 L185.49 276.20 L185.62 276.42 L185.76 276.64 L185.89 276.87 L186.03 277.09 L186.18 277.31 L186.35 277.53 L186.52 277.75 L186.69 277.98 L186.86 278.20 L187.02 278.42 L187.17 278.64 L187.30 278.86 L187.41 279.08 L187.49 279.31 L187.54 279.53 L182.65 279.75 L182.65 279.75 L177.76 279.53 L177.81 279.31 L177.89 279.08 L178.00 278.86 L178.13 278.64 L178.28 278.42 L178.44 278.20 L178.61 277.98 L178.78 277.75 L178.95 277.53 L179.12 277.31 L179.27 277.09 L179.41 276.87 L179.54 276.64 L179.68 276.42 L179.81 276.20 L179.95 275.98 L180.09 275.76 L180.22 275.54 L180.36 275.31 L180.49 275.09 L180.62 274.87 L180.74 274.65 L180.86 274.43 L180.97 274.21 L181.08 273.98 L181.18 273.76 L181.27 273.54 L181.37 273.32 L181.46 273.10 L181.55 272.87 L181.64 272.65 L181.72 272.43 L181.80 272.21 L181.88 271.99 L181.95 271.77 L182.02 271.54 L182.09 271.32 L182.15 271.10 Z" fill="#cc3424"/>
<path d="M207.40 251.10 L210.56 251.31 L211.08 251.52 L211.64 251.73 L212.18 251.94 L212.69 252.15 L213.16 252.36 L213.58 252.57 L213.94 252.78 L214.28 252.99 L214.58 253.20 L214.86 253.41 L215.14 253.62 L215.40 253.83 L215.66 254.04 L215.93 254.25 L216.21 254.46 L216.49 254.67 L216.76 254.88 L217.03 255.09 L217.28 255.30 L217.52 255.51 L217.74 255.72 L217.95 255.93 L218.17 256.14 L218.40 256.35 L218.60 256.56 L218.78 256.77 L218.92 256.98 L218.99 257.19 L219.00 257.40 L218.98 257.61 L218.95 257.82 L218.91 258.03 L218.86 258.24 L218.80 258.45 L218.73 258.66 L218.64 258.87 L218.52 259.08 L218.36 259.29 L218.19 259.50 L218.00 259.71 L217.81 259.92 L217.61 260.13 L217.40 260.34 L217.17 260.56 L216.93 260.77 L216.67 260.98 L216.41 261.19 L216.13 261.40 L215.85 261.61 L215.56 261.82 L215.27 262.03 L214.97 262.24 L214.68 262.45 L214.39 262.66 L214.11 262.87 L213.83 263.08 L213.56 263.29 L213.27 263.50 L212.98 263.71 L212.69 263.92 L212.39 264.13 L212.09 264.34 L211.79 264.55 L211.50 264.76 L211.23 264.97 L210.96 265.18 L210.71 265.39 L210.48 265.60 L210.27 265.81 L210.09 266.02 L209.91 266.23 L209.74 266.44 L209.58 266.65 L209.43 266.86 L209.28 267.07 L209.14 267.28 L209.00 267.49 L208.88 267.70 L208.75 267.91 L208.64 268.12 L208.53 268.33 L208.43 268.54 L208.33 268.75 L208.24 268.96 L208.16 269.17 L208.08 269.38 L208.01 269.59 L207.95 269.80 L206.85 269.80 L206.79 269.59 L206.72 269.38 L206.64 269.17 L206.56 268.96 L206.47 268.75 L206.37 268.54 L206.27 268.33 L206.16 268.12 L206.05 267.91 L205.92 267.70 L205.80 267.49 L205.66 267.28 L205.52 267.07 L205.37 266.86 L205.22 266.65 L205.06 266.44 L204.89 266.23 L204.71 266.02 L204.53 265.81 L204.32 265.60 L204.09 265.39 L203.84 265.18 L203.57 264.97 L203.30 264.76 L203.01 264.55 L202.71 264.34 L202.41 264.13 L202.11 263.92 L201.82 263.71 L201.53 263.50 L201.24 263.29 L200.97 263.08 L200.69 262.87 L200.41 262.66 L200.12 262.45 L199.83 262.24 L199.53 262.03 L199.24 261.82 L198.95 261.61 L198.67 261.40 L198.39 261.19 L198.13 260.98 L197.87 260.77 L197.63 260.56 L197.40 260.34 L197.19 260.13 L196.99 259.92 L196.80 259.71 L196.61 259.50 L196.44 259.29 L196.28 259.08 L196.16 258.87 L196.07 258.66 L196.00 258.45 L195.94 258.24 L195.89 258.03 L195.85 257.82 L195.82 257.61 L195.80 257.40 L195.81 257.19 L195.88 256.98 L196.02 256.77 L196.20 256.56 L196.40 256.35 L196.63 256.14 L196.85 255.93 L197.06 255.72 L197.28 255.51 L197.52 255.30 L197.77 255.09 L198.04 254.88 L198.31 254.67 L198.59 254.46 L198.87 254.25 L199.14 254.04 L199.40 253.83 L199.66 253.62 L199.94 253.41 L200.22 253.20 L200.52 252.99 L200.86 252.78 L201.22 252.57 L201.64 252.36 L202.11 252.15 L202.62 251.94 L203.16 251.73 L203.72 251.52 L204.24 251.31 L207.40 251.10 Z" fill="#c82a24"/>
<rect x="206.90" y="269.60" width="1.00" height="4.30" fill="#c82a24" opacity="0.5"/>
<path d="M207.90 273.10 L207.92 273.27 L207.94 273.44 L207.97 273.60 L208.00 273.77 L208.03 273.94 L208.07 274.11 L208.11 274.28 L208.16 274.44 L208.20 274.61 L208.25 274.78 L208.30 274.95 L208.35 275.12 L208.40 275.28 L208.46 275.45 L208.52 275.62 L208.60 275.79 L208.67 275.96 L208.76 276.12 L208.85 276.29 L208.94 276.46 L209.03 276.63 L209.13 276.79 L209.22 276.96 L209.32 277.13 L209.41 277.30 L209.50 277.47 L209.59 277.63 L209.69 277.80 L209.80 277.97 L209.91 278.14 L210.03 278.31 L210.14 278.47 L210.25 278.64 L210.35 278.81 L210.44 278.98 L210.51 279.15 L210.56 279.31 L210.59 279.48 L207.40 279.65 L207.40 279.65 L204.21 279.48 L204.24 279.31 L204.29 279.15 L204.36 278.98 L204.45 278.81 L204.55 278.64 L204.66 278.47 L204.77 278.31 L204.89 278.14 L205.00 277.97 L205.11 277.80 L205.21 277.63 L205.30 277.47 L205.39 277.30 L205.48 277.13 L205.58 276.96 L205.67 276.79 L205.77 276.63 L205.86 276.46 L205.95 276.29 L206.04 276.12 L206.13 275.96 L206.20 275.79 L206.28 275.62 L206.34 275.45 L206.40 275.28 L206.45 275.12 L206.50 274.95 L206.55 274.78 L206.60 274.61 L206.64 274.44 L206.69 274.28 L206.73 274.11 L206.77 273.94 L206.80 273.77 L206.83 273.60 L206.86 273.44 L206.88 273.27 L206.90 273.10 Z" fill="#c82a24"/>
<path d="M232.40 256.10 L236.35 256.27 L236.82 256.44 L237.29 256.61 L237.72 256.78 L238.10 256.95 L238.46 257.12 L238.78 257.29 L239.08 257.46 L239.35 257.63 L239.61 257.80 L239.85 257.97 L240.07 258.14 L240.28 258.31 L240.48 258.48 L240.68 258.65 L240.87 258.82 L241.06 258.99 L241.26 259.16 L241.46 259.33 L241.67 259.50 L241.87 259.67 L242.07 259.84 L242.26 260.01 L242.45 260.17 L242.62 260.34 L242.79 260.51 L242.94 260.68 L243.10 260.85 L243.27 261.02 L243.43 261.19 L243.58 261.36 L243.72 261.53 L243.83 261.70 L243.91 261.87 L243.95 262.04 L243.95 262.21 L243.93 262.38 L243.90 262.55 L243.87 262.72 L243.82 262.89 L243.77 263.06 L243.71 263.23 L243.65 263.40 L243.55 263.57 L243.43 263.74 L243.29 263.91 L243.13 264.08 L242.95 264.25 L242.78 264.42 L242.60 264.59 L242.42 264.76 L242.22 264.93 L242.00 265.10 L241.77 265.27 L241.54 265.44 L241.29 265.61 L241.04 265.78 L240.78 265.95 L240.52 266.12 L240.26 266.29 L239.99 266.46 L239.72 266.63 L239.46 266.80 L239.20 266.97 L238.94 267.14 L238.69 267.31 L238.44 267.48 L238.19 267.65 L237.92 267.82 L237.65 267.98 L237.38 268.15 L237.11 268.32 L236.84 268.49 L236.57 268.66 L236.32 268.83 L236.07 269.00 L235.83 269.17 L235.60 269.34 L235.40 269.51 L235.21 269.68 L235.03 269.85 L234.86 270.02 L234.69 270.19 L234.51 270.36 L234.34 270.53 L234.17 270.70 L234.01 270.87 L233.86 271.04 L233.72 271.21 L233.60 271.38 L233.49 271.55 L233.41 271.72 L233.35 271.89 L233.31 272.06 L233.30 272.23 L233.34 272.40 L233.42 272.57 L233.55 272.74 L233.71 272.91 L233.90 273.08 L234.11 273.25 L234.33 273.42 L234.56 273.59 L234.78 273.76 L235.00 273.93 L235.20 274.10 L235.39 274.27 L235.60 274.44 L235.81 274.61 L236.03 274.78 L236.25 274.95 L236.48 275.12 L236.71 275.29 L236.94 275.46 L237.17 275.63 L237.39 275.79 L237.62 275.96 L237.84 276.13 L238.07 276.30 L238.29 276.47 L238.51 276.64 L238.73 276.81 L238.96 276.98 L239.18 277.15 L239.41 277.32 L239.65 277.49 L239.89 277.66 L240.14 277.83 L240.42 278.00 L240.75 278.17 L241.10 278.34 L241.47 278.51 L241.81 278.68 L242.13 278.85 L242.38 279.02 L242.56 279.19 L242.65 279.36 L239.81 279.53 L232.40 279.70 L232.40 279.70 L224.99 279.53 L222.15 279.36 L222.24 279.19 L222.42 279.02 L222.67 278.85 L222.99 278.68 L223.33 278.51 L223.70 278.34 L224.05 278.17 L224.38 278.00 L224.66 277.83 L224.91 277.66 L225.15 277.49 L225.39 277.32 L225.62 277.15 L225.84 276.98 L226.07 276.81 L226.29 276.64 L226.51 276.47 L226.73 276.30 L226.96 276.13 L227.18 275.96 L227.41 275.79 L227.63 275.63 L227.86 275.46 L228.09 275.29 L228.32 275.12 L228.55 274.95 L228.77 274.78 L228.99 274.61 L229.20 274.44 L229.41 274.27 L229.60 274.10 L229.80 273.93 L230.02 273.76 L230.24 273.59 L230.47 273.42 L230.69 273.25 L230.90 273.08 L231.09 272.91 L231.25 272.74 L231.38 272.57 L231.46 272.40 L231.50 272.23 L231.49 272.06 L231.45 271.89 L231.39 271.72 L231.31 271.55 L231.20 271.38 L231.08 271.21 L230.94 271.04 L230.79 270.87 L230.63 270.70 L230.46 270.53 L230.29 270.36 L230.11 270.19 L229.94 270.02 L229.77 269.85 L229.59 269.68 L229.40 269.51 L229.20 269.34 L228.97 269.17 L228.73 269.00 L228.48 268.83 L228.23 268.66 L227.96 268.49 L227.69 268.32 L227.42 268.15 L227.15 267.98 L226.88 267.82 L226.61 267.65 L226.36 267.48 L226.11 267.31 L225.86 267.14 L225.60 266.97 L225.34 266.80 L225.08 266.63 L224.81 266.46 L224.54 266.29 L224.28 266.12 L224.02 265.95 L223.76 265.78 L223.51 265.61 L223.26 265.44 L223.03 265.27 L222.80 265.10 L222.58 264.93 L222.38 264.76 L222.20 264.59 L222.02 264.42 L221.85 264.25 L221.67 264.08 L221.51 263.91 L221.37 263.74 L221.25 263.57 L221.15 263.40 L221.09 263.23 L221.03 263.06 L220.98 262.89 L220.93 262.72 L220.90 262.55 L220.87 262.38 L220.85 262.21 L220.85 262.04 L220.89 261.87 L220.97 261.70 L221.08 261.53 L221.22 261.36 L221.37 261.19 L221.53 261.02 L221.70 260.85 L221.86 260.68 L222.01 260.51 L222.18 260.34 L222.35 260.17 L222.54 260.01 L222.73 259.84 L222.93 259.67 L223.13 259.50 L223.34 259.33 L223.54 259.16 L223.74 258.99 L223.93 258.82 L224.12 258.65 L224.32 258.48 L224.52 258.31 L224.73 258.14 L224.95 257.97 L225.19 257.80 L225.45 257.63 L225.72 257.46 L226.02 257.29 L226.34 257.12 L226.70 256.95 L227.08 256.78 L227.51 256.61 L227.98 256.44 L228.45 256.27 L232.40 256.10 Z" fill="#d4622a"/>
<path d="M257.60 249.10 L260.44 249.31 L260.90 249.53 L261.37 249.74 L261.82 249.96 L262.24 250.17 L262.64 250.39 L263.01 250.60 L263.35 250.82 L263.67 251.03 L263.96 251.25 L264.23 251.46 L264.49 251.68 L264.73 251.89 L264.96 252.10 L265.19 252.32 L265.41 252.53 L265.64 252.75 L265.87 252.96 L266.10 253.18 L266.34 253.39 L266.57 253.61 L266.80 253.82 L267.02 254.04 L267.23 254.25 L267.43 254.47 L267.62 254.68 L267.80 254.89 L267.99 255.11 L268.18 255.32 L268.36 255.54 L268.54 255.75 L268.68 255.97 L268.80 256.18 L268.88 256.40 L268.90 256.61 L268.89 256.83 L268.86 257.04 L268.82 257.26 L268.76 257.47 L268.70 257.68 L268.62 257.90 L268.52 258.11 L268.37 258.33 L268.19 258.54 L267.99 258.76 L267.78 258.97 L267.58 259.19 L267.35 259.40 L267.10 259.62 L266.84 259.83 L266.56 260.04 L266.27 260.26 L265.96 260.47 L265.65 260.69 L265.34 260.90 L265.02 261.12 L264.71 261.33 L264.40 261.55 L264.09 261.76 L263.79 261.98 L263.50 262.19 L263.19 262.41 L262.87 262.62 L262.55 262.83 L262.22 263.05 L261.91 263.26 L261.59 263.48 L261.30 263.69 L261.01 263.91 L260.75 264.12 L260.52 264.34 L260.31 264.55 L260.11 264.77 L259.93 264.98 L259.75 265.20 L259.58 265.41 L259.42 265.62 L259.27 265.84 L259.13 266.05 L259.00 266.27 L258.87 266.48 L258.75 266.70 L258.64 266.91 L258.54 267.13 L258.45 267.34 L258.36 267.56 L258.28 267.77 L258.21 267.99 L258.15 268.20 L257.05 268.20 L256.99 267.99 L256.92 267.77 L256.84 267.56 L256.75 267.34 L256.66 267.13 L256.56 266.91 L256.45 266.70 L256.33 266.48 L256.20 266.27 L256.07 266.05 L255.93 265.84 L255.78 265.62 L255.62 265.41 L255.45 265.20 L255.27 264.98 L255.09 264.77 L254.89 264.55 L254.68 264.34 L254.45 264.12 L254.19 263.91 L253.90 263.69 L253.61 263.48 L253.29 263.26 L252.98 263.05 L252.65 262.83 L252.33 262.62 L252.01 262.41 L251.70 262.19 L251.41 261.98 L251.11 261.76 L250.80 261.55 L250.49 261.33 L250.18 261.12 L249.86 260.90 L249.55 260.69 L249.24 260.47 L248.93 260.26 L248.64 260.04 L248.36 259.83 L248.10 259.62 L247.85 259.40 L247.62 259.19 L247.42 258.97 L247.21 258.76 L247.01 258.54 L246.83 258.33 L246.68 258.11 L246.58 257.90 L246.50 257.68 L246.44 257.47 L246.38 257.26 L246.34 257.04 L246.31 256.83 L246.30 256.61 L246.32 256.40 L246.40 256.18 L246.52 255.97 L246.66 255.75 L246.84 255.54 L247.02 255.32 L247.21 255.11 L247.40 254.89 L247.58 254.68 L247.77 254.47 L247.97 254.25 L248.18 254.04 L248.40 253.82 L248.63 253.61 L248.86 253.39 L249.10 253.18 L249.33 252.96 L249.56 252.75 L249.79 252.53 L250.01 252.32 L250.24 252.10 L250.47 251.89 L250.71 251.68 L250.97 251.46 L251.24 251.25 L251.53 251.03 L251.85 250.82 L252.19 250.60 L252.56 250.39 L252.96 250.17 L253.38 249.96 L253.83 249.74 L254.30 249.53 L254.76 249.31 L257.60 249.10 Z" fill="#c82624"/>
<rect x="257.10" y="268.00" width="1.00" height="7.40" fill="#c82624" opacity="0.5"/>
<path d="M258.10 274.60 L258.10 274.73 L258.11 274.86 L258.12 274.98 L258.13 275.11 L258.15 275.24 L258.17 275.37 L258.19 275.50 L258.22 275.63 L258.25 275.75 L258.28 275.88 L258.31 276.01 L258.34 276.14 L258.37 276.27 L258.40 276.39 L258.44 276.52 L258.49 276.65 L258.55 276.78 L258.61 276.91 L258.68 277.04 L258.76 277.16 L258.83 277.29 L258.91 277.42 L258.99 277.55 L259.07 277.68 L259.15 277.81 L259.22 277.93 L259.29 278.06 L259.37 278.19 L259.46 278.32 L259.55 278.45 L259.64 278.57 L259.73 278.70 L259.82 278.83 L259.90 278.96 L259.97 279.09 L260.03 279.22 L260.07 279.34 L260.10 279.47 L257.60 279.60 L257.60 279.60 L255.10 279.47 L255.13 279.34 L255.17 279.22 L255.23 279.09 L255.30 278.96 L255.38 278.83 L255.47 278.70 L255.56 278.57 L255.65 278.45 L255.74 278.32 L255.83 278.19 L255.91 278.06 L255.98 277.93 L256.05 277.81 L256.13 277.68 L256.21 277.55 L256.29 277.42 L256.37 277.29 L256.44 277.16 L256.52 277.04 L256.59 276.91 L256.65 276.78 L256.71 276.65 L256.76 276.52 L256.80 276.39 L256.83 276.27 L256.86 276.14 L256.89 276.01 L256.92 275.88 L256.95 275.75 L256.98 275.63 L257.01 275.50 L257.03 275.37 L257.05 275.24 L257.07 275.11 L257.08 274.98 L257.09 274.86 L257.10 274.73 L257.10 274.60 Z" fill="#c82624"/>
<path d="M282.30 249.50 L285.63 249.72 L286.13 249.94 L286.61 250.16 L287.05 250.37 L287.45 250.59 L287.81 250.81 L288.15 251.03 L288.47 251.25 L288.77 251.47 L289.05 251.69 L289.31 251.90 L289.56 252.12 L289.79 252.34 L290.02 252.56 L290.24 252.78 L290.45 253.00 L290.67 253.22 L290.90 253.43 L291.13 253.65 L291.35 253.87 L291.58 254.09 L291.80 254.31 L292.01 254.53 L292.22 254.74 L292.41 254.96 L292.59 255.18 L292.76 255.40 L292.94 255.62 L293.13 255.84 L293.31 256.06 L293.47 256.27 L293.61 256.49 L293.72 256.71 L293.78 256.93 L293.80 257.15 L293.78 257.37 L293.75 257.59 L293.71 257.80 L293.65 258.02 L293.58 258.24 L293.51 258.46 L293.39 258.68 L293.24 258.90 L293.05 259.12 L292.85 259.33 L292.64 259.55 L292.43 259.77 L292.20 259.99 L291.94 260.21 L291.67 260.43 L291.39 260.65 L291.09 260.86 L290.78 261.08 L290.47 261.30 L290.15 261.52 L289.83 261.74 L289.51 261.96 L289.20 262.18 L288.89 262.39 L288.58 262.61 L288.28 262.83 L287.97 263.05 L287.65 263.27 L287.32 263.49 L286.99 263.71 L286.67 263.92 L286.36 264.14 L286.05 264.36 L285.77 264.58 L285.50 264.80 L285.26 265.02 L285.05 265.23 L284.85 265.45 L284.66 265.67 L284.48 265.89 L284.31 266.11 L284.15 266.33 L284.00 266.55 L283.85 266.76 L283.71 266.98 L283.59 267.20 L283.47 267.42 L283.35 267.64 L283.25 267.86 L283.15 268.08 L283.07 268.29 L282.99 268.51 L282.91 268.73 L282.85 268.95 L281.75 268.95 L281.69 268.73 L281.61 268.51 L281.53 268.29 L281.45 268.08 L281.35 267.86 L281.25 267.64 L281.13 267.42 L281.01 267.20 L280.89 266.98 L280.75 266.76 L280.60 266.55 L280.45 266.33 L280.29 266.11 L280.12 265.89 L279.94 265.67 L279.75 265.45 L279.55 265.23 L279.34 265.02 L279.10 264.80 L278.83 264.58 L278.55 264.36 L278.24 264.14 L277.93 263.92 L277.61 263.71 L277.28 263.49 L276.95 263.27 L276.63 263.05 L276.32 262.83 L276.02 262.61 L275.71 262.39 L275.40 262.18 L275.09 261.96 L274.77 261.74 L274.45 261.52 L274.13 261.30 L273.82 261.08 L273.51 260.86 L273.21 260.65 L272.93 260.43 L272.66 260.21 L272.40 259.99 L272.17 259.77 L271.96 259.55 L271.75 259.33 L271.55 259.12 L271.36 258.90 L271.21 258.68 L271.09 258.46 L271.02 258.24 L270.95 258.02 L270.89 257.80 L270.85 257.59 L270.82 257.37 L270.80 257.15 L270.82 256.93 L270.88 256.71 L270.99 256.49 L271.13 256.27 L271.29 256.06 L271.47 255.84 L271.66 255.62 L271.84 255.40 L272.01 255.18 L272.19 254.96 L272.38 254.74 L272.59 254.53 L272.80 254.31 L273.02 254.09 L273.25 253.87 L273.47 253.65 L273.70 253.43 L273.93 253.22 L274.15 253.00 L274.36 252.78 L274.58 252.56 L274.81 252.34 L275.04 252.12 L275.29 251.90 L275.55 251.69 L275.83 251.47 L276.13 251.25 L276.45 251.03 L276.79 250.81 L277.15 250.59 L277.55 250.37 L277.99 250.16 L278.47 249.94 L278.97 249.72 L282.30 249.50 Z" fill="#c82420"/>
<rect x="281.80" y="268.75" width="1.00" height="4.85" fill="#c82420" opacity="0.5"/>
<path d="M282.80 272.80 L282.81 272.97 L282.82 273.15 L282.84 273.32 L282.86 273.50 L282.88 273.67 L282.91 273.85 L282.94 274.02 L282.98 274.19 L283.01 274.37 L283.05 274.54 L283.09 274.72 L283.13 274.89 L283.17 275.07 L283.21 275.24 L283.26 275.42 L283.32 275.59 L283.39 275.76 L283.46 275.94 L283.54 276.11 L283.62 276.29 L283.70 276.46 L283.78 276.64 L283.87 276.81 L283.95 276.98 L284.03 277.16 L284.10 277.33 L284.18 277.51 L284.27 277.68 L284.36 277.86 L284.46 278.03 L284.56 278.21 L284.66 278.38 L284.75 278.55 L284.84 278.73 L284.91 278.90 L284.97 279.08 L285.02 279.25 L285.04 279.43 L282.30 279.60 L282.30 279.60 L279.56 279.43 L279.58 279.25 L279.63 279.08 L279.69 278.90 L279.76 278.73 L279.85 278.55 L279.94 278.38 L280.04 278.21 L280.14 278.03 L280.24 277.86 L280.33 277.68 L280.42 277.51 L280.50 277.33 L280.57 277.16 L280.65 276.98 L280.73 276.81 L280.82 276.64 L280.90 276.46 L280.98 276.29 L281.06 276.11 L281.14 275.94 L281.21 275.76 L281.28 275.59 L281.34 275.42 L281.39 275.24 L281.43 275.07 L281.47 274.89 L281.51 274.72 L281.55 274.54 L281.59 274.37 L281.62 274.19 L281.66 274.02 L281.69 273.85 L281.72 273.67 L281.74 273.50 L281.76 273.32 L281.78 273.15 L281.79 272.97 L281.80 272.80 Z" fill="#c82420"/>
<path d="M306.90 247.70 L307.44 247.86 L307.52 248.02 L307.79 248.18 L308.27 248.34 L308.87 248.50 L309.55 248.66 L310.24 248.82 L310.87 248.98 L311.39 249.14 L311.79 249.30 L312.15 249.46 L312.49 249.61 L312.80 249.77 L313.10 249.93 L313.39 250.09 L313.67 250.25 L313.95 250.41 L314.24 250.57 L314.53 250.73 L314.83 250.89 L315.13 251.05 L315.42 251.21 L315.71 251.37 L316.00 251.53 L316.27 251.69 L316.53 251.85 L316.77 252.01 L316.99 252.17 L317.23 252.33 L317.47 252.49 L317.71 252.65 L317.94 252.81 L318.15 252.97 L318.33 253.12 L318.48 253.28 L318.57 253.44 L318.60 253.60 L318.59 253.76 L318.55 253.92 L318.50 254.08 L318.43 254.24 L318.36 254.40 L318.26 254.56 L318.12 254.72 L317.92 254.88 L317.70 255.04 L317.47 255.20 L317.24 255.36 L316.98 255.52 L316.70 255.68 L316.40 255.84 L316.07 256.00 L315.74 256.16 L315.39 256.32 L315.04 256.48 L314.68 256.63 L314.33 256.79 L313.97 256.95 L313.63 257.11 L313.29 257.27 L312.95 257.43 L312.60 257.59 L312.24 257.75 L311.88 257.91 L311.51 258.07 L311.15 258.23 L310.81 258.39 L310.48 258.55 L310.18 258.71 L309.91 258.87 L309.67 259.03 L309.45 259.19 L309.22 259.35 L309.00 259.51 L308.78 259.67 L308.58 259.83 L308.40 259.99 L308.24 260.14 L308.10 260.30 L307.99 260.46 L307.92 260.62 L307.88 260.78 L307.85 260.94 L307.82 261.10 L307.80 261.26 L307.78 261.42 L307.76 261.58 L307.75 261.74 L307.75 261.90 L306.05 261.90 L306.05 261.74 L306.04 261.58 L306.02 261.42 L306.00 261.26 L305.98 261.10 L305.95 260.94 L305.92 260.78 L305.88 260.62 L305.81 260.46 L305.70 260.30 L305.56 260.14 L305.40 259.99 L305.22 259.83 L305.02 259.67 L304.80 259.51 L304.58 259.35 L304.35 259.19 L304.13 259.03 L303.89 258.87 L303.62 258.71 L303.32 258.55 L302.99 258.39 L302.65 258.23 L302.29 258.07 L301.92 257.91 L301.56 257.75 L301.20 257.59 L300.85 257.43 L300.51 257.27 L300.17 257.11 L299.83 256.95 L299.47 256.79 L299.12 256.63 L298.76 256.48 L298.41 256.32 L298.06 256.16 L297.73 256.00 L297.40 255.84 L297.10 255.68 L296.82 255.52 L296.56 255.36 L296.33 255.20 L296.10 255.04 L295.88 254.88 L295.68 254.72 L295.54 254.56 L295.44 254.40 L295.37 254.24 L295.30 254.08 L295.25 253.92 L295.21 253.76 L295.20 253.60 L295.23 253.44 L295.32 253.28 L295.47 253.12 L295.65 252.97 L295.86 252.81 L296.09 252.65 L296.33 252.49 L296.57 252.33 L296.81 252.17 L297.03 252.01 L297.27 251.85 L297.53 251.69 L297.80 251.53 L298.09 251.37 L298.38 251.21 L298.67 251.05 L298.97 250.89 L299.27 250.73 L299.56 250.57 L299.85 250.41 L300.13 250.25 L300.41 250.09 L300.70 249.93 L301.00 249.77 L301.31 249.61 L301.65 249.46 L302.01 249.30 L302.41 249.14 L302.93 248.98 L303.56 248.82 L304.25 248.66 L304.93 248.50 L305.53 248.34 L306.01 248.18 L306.28 248.02 L306.36 247.86 L306.90 247.70 Z" fill="#a41c1c"/>
<rect x="306.10" y="261.70" width="1.60" height="2.10" fill="#a41c1c"/>
<path d="M333.05 252.10 L339.92 252.30 L340.51 252.49 L340.83 252.69 L341.05 252.88 L341.22 253.08 L341.39 253.27 L341.55 253.47 L341.68 253.67 L341.80 253.86 L341.92 254.06 L342.04 254.25 L342.16 254.45 L342.29 254.64 L342.41 254.84 L342.53 255.04 L342.63 255.23 L342.73 255.43 L342.83 255.62 L342.93 255.82 L343.02 256.01 L343.08 256.21 L343.10 256.41 L343.09 256.60 L343.08 256.80 L343.06 256.99 L343.03 257.19 L342.99 257.38 L342.95 257.58 L342.90 257.77 L342.86 257.97 L342.79 258.17 L342.69 258.36 L342.58 258.56 L342.46 258.75 L342.33 258.95 L342.19 259.14 L342.06 259.34 L341.92 259.54 L341.77 259.73 L341.61 259.93 L341.44 260.12 L341.26 260.32 L341.07 260.51 L340.88 260.71 L340.68 260.91 L340.48 261.10 L340.28 261.30 L340.07 261.49 L339.86 261.69 L339.66 261.88 L339.45 262.08 L339.25 262.28 L339.05 262.47 L338.85 262.67 L338.66 262.86 L338.46 263.06 L338.26 263.25 L338.05 263.45 L337.84 263.65 L337.63 263.84 L337.42 264.04 L337.21 264.23 L337.00 264.43 L336.80 264.62 L336.61 264.82 L336.43 265.02 L336.25 265.21 L336.09 265.41 L335.94 265.60 L335.80 265.80 L335.67 265.99 L335.54 266.19 L335.40 266.38 L335.26 266.58 L335.13 266.78 L335.00 266.97 L334.88 267.17 L334.77 267.36 L334.66 267.56 L334.57 267.75 L334.49 267.95 L334.43 268.15 L334.39 268.34 L334.36 268.54 L334.35 268.73 L334.38 268.93 L334.44 269.12 L334.53 269.32 L334.65 269.52 L334.80 269.71 L334.96 269.91 L335.14 270.10 L335.32 270.30 L335.52 270.49 L335.72 270.69 L335.91 270.89 L336.10 271.08 L336.28 271.28 L336.45 271.47 L336.62 271.67 L336.80 271.86 L336.98 272.06 L337.17 272.26 L337.36 272.45 L337.56 272.65 L337.75 272.84 L337.95 273.04 L338.15 273.23 L338.35 273.43 L338.55 273.63 L338.75 273.82 L338.94 274.02 L339.14 274.21 L339.33 274.41 L339.53 274.60 L339.72 274.80 L339.91 274.99 L340.11 275.19 L340.30 275.39 L340.50 275.58 L340.70 275.78 L340.90 275.97 L341.10 276.17 L341.31 276.36 L341.52 276.56 L341.73 276.76 L341.98 276.95 L342.26 277.15 L342.55 277.34 L342.85 277.54 L343.14 277.73 L343.42 277.93 L343.68 278.13 L343.91 278.32 L344.09 278.52 L344.22 278.71 L344.29 278.91 L342.16 279.10 L333.05 279.30 L333.05 279.30 L323.94 279.10 L321.81 278.91 L321.88 278.71 L322.01 278.52 L322.19 278.32 L322.42 278.13 L322.68 277.93 L322.96 277.73 L323.25 277.54 L323.55 277.34 L323.84 277.15 L324.12 276.95 L324.37 276.76 L324.58 276.56 L324.79 276.36 L325.00 276.17 L325.20 275.97 L325.40 275.78 L325.60 275.58 L325.80 275.39 L325.99 275.19 L326.19 274.99 L326.38 274.80 L326.57 274.60 L326.77 274.41 L326.96 274.21 L327.16 274.02 L327.35 273.82 L327.55 273.63 L327.75 273.43 L327.95 273.23 L328.15 273.04 L328.35 272.84 L328.54 272.65 L328.74 272.45 L328.93 272.26 L329.12 272.06 L329.30 271.86 L329.48 271.67 L329.65 271.47 L329.82 271.28 L330.00 271.08 L330.19 270.89 L330.38 270.69 L330.58 270.49 L330.78 270.30 L330.96 270.10 L331.14 269.91 L331.30 269.71 L331.45 269.52 L331.57 269.32 L331.66 269.12 L331.72 268.93 L331.75 268.73 L331.74 268.54 L331.71 268.34 L331.67 268.15 L331.61 267.95 L331.53 267.75 L331.44 267.56 L331.33 267.36 L331.22 267.17 L331.10 266.97 L330.97 266.78 L330.84 266.58 L330.70 266.38 L330.56 266.19 L330.43 265.99 L330.30 265.80 L330.16 265.60 L330.01 265.41 L329.85 265.21 L329.67 265.02 L329.49 264.82 L329.30 264.62 L329.10 264.43 L328.89 264.23 L328.68 264.04 L328.47 263.84 L328.26 263.65 L328.05 263.45 L327.84 263.25 L327.64 263.06 L327.44 262.86 L327.25 262.67 L327.05 262.47 L326.85 262.28 L326.65 262.08 L326.44 261.88 L326.24 261.69 L326.03 261.49 L325.82 261.30 L325.62 261.10 L325.42 260.91 L325.22 260.71 L325.03 260.51 L324.84 260.32 L324.66 260.12 L324.49 259.93 L324.33 259.73 L324.18 259.54 L324.04 259.34 L323.91 259.14 L323.77 258.95 L323.64 258.75 L323.52 258.56 L323.41 258.36 L323.31 258.17 L323.24 257.97 L323.20 257.77 L323.15 257.58 L323.11 257.38 L323.07 257.19 L323.04 256.99 L323.02 256.80 L323.01 256.60 L323.00 256.41 L323.02 256.21 L323.08 256.01 L323.17 255.82 L323.27 255.62 L323.37 255.43 L323.47 255.23 L323.57 255.04 L323.69 254.84 L323.81 254.64 L323.94 254.45 L324.06 254.25 L324.18 254.06 L324.30 253.86 L324.42 253.67 L324.55 253.47 L324.71 253.27 L324.88 253.08 L325.05 252.88 L325.27 252.69 L325.59 252.49 L326.18 252.30 L333.05 252.10 Z" fill="#d4562a"/>
<path d="M357.50 252.10 L365.36 252.30 L366.04 252.49 L366.43 252.69 L366.69 252.88 L366.89 253.08 L367.09 253.27 L367.27 253.47 L367.42 253.67 L367.57 253.86 L367.71 254.06 L367.85 254.25 L368.00 254.45 L368.14 254.64 L368.29 254.84 L368.43 255.04 L368.55 255.23 L368.66 255.43 L368.78 255.62 L368.90 255.82 L369.00 256.01 L369.07 256.21 L369.10 256.41 L369.09 256.60 L369.08 256.80 L369.05 256.99 L369.01 257.19 L368.97 257.38 L368.92 257.58 L368.87 257.77 L368.81 257.97 L368.73 258.17 L368.62 258.36 L368.49 258.56 L368.35 258.75 L368.19 258.95 L368.03 259.14 L367.87 259.34 L367.71 259.54 L367.53 259.73 L367.34 259.93 L367.14 260.12 L366.93 260.32 L366.71 260.51 L366.49 260.71 L366.25 260.91 L366.02 261.10 L365.78 261.30 L365.54 261.49 L365.29 261.69 L365.05 261.88 L364.81 262.08 L364.57 262.28 L364.33 262.47 L364.10 262.67 L363.87 262.86 L363.64 263.06 L363.40 263.25 L363.16 263.45 L362.91 263.65 L362.66 263.84 L362.41 264.04 L362.17 264.23 L361.92 264.43 L361.69 264.62 L361.46 264.82 L361.24 265.02 L361.04 265.21 L360.85 265.41 L360.67 265.60 L360.51 265.80 L360.36 265.99 L360.20 266.19 L360.03 266.38 L359.88 266.58 L359.72 266.78 L359.57 266.97 L359.43 267.17 L359.29 267.36 L359.17 267.56 L359.06 267.75 L358.97 267.95 L358.90 268.15 L358.84 268.34 L358.81 268.54 L358.80 268.73 L358.83 268.93 L358.89 269.12 L358.98 269.32 L359.09 269.52 L359.23 269.71 L359.39 269.91 L359.57 270.10 L359.75 270.30 L359.94 270.49 L360.13 270.69 L360.32 270.89 L360.50 271.08 L360.68 271.28 L360.84 271.47 L361.01 271.67 L361.19 271.86 L361.37 272.06 L361.55 272.26 L361.74 272.45 L361.93 272.65 L362.12 272.84 L362.31 273.04 L362.51 273.23 L362.70 273.43 L362.89 273.63 L363.09 273.82 L363.28 274.02 L363.47 274.21 L363.66 274.41 L363.85 274.60 L364.03 274.80 L364.22 274.99 L364.41 275.19 L364.61 275.39 L364.80 275.58 L364.99 275.78 L365.19 275.97 L365.38 276.17 L365.58 276.36 L365.79 276.56 L366.00 276.76 L366.24 276.95 L366.51 277.15 L366.79 277.34 L367.08 277.54 L367.37 277.73 L367.64 277.93 L367.90 278.13 L368.12 278.32 L368.30 278.52 L368.42 278.71 L368.49 278.91 L366.40 279.10 L357.50 279.30 L357.50 279.30 L348.60 279.10 L346.51 278.91 L346.58 278.71 L346.70 278.52 L346.88 278.32 L347.10 278.13 L347.36 277.93 L347.63 277.73 L347.92 277.54 L348.21 277.34 L348.49 277.15 L348.76 276.95 L349.00 276.76 L349.21 276.56 L349.42 276.36 L349.62 276.17 L349.81 275.97 L350.01 275.78 L350.20 275.58 L350.39 275.39 L350.59 275.19 L350.78 274.99 L350.97 274.80 L351.15 274.60 L351.34 274.41 L351.53 274.21 L351.72 274.02 L351.91 273.82 L352.11 273.63 L352.30 273.43 L352.49 273.23 L352.69 273.04 L352.88 272.84 L353.07 272.65 L353.26 272.45 L353.45 272.26 L353.63 272.06 L353.81 271.86 L353.99 271.67 L354.16 271.47 L354.32 271.28 L354.50 271.08 L354.68 270.89 L354.87 270.69 L355.06 270.49 L355.25 270.30 L355.43 270.10 L355.61 269.91 L355.77 269.71 L355.91 269.52 L356.02 269.32 L356.11 269.12 L356.17 268.93 L356.20 268.73 L356.19 268.54 L356.16 268.34 L356.10 268.15 L356.03 267.95 L355.94 267.75 L355.83 267.56 L355.71 267.36 L355.57 267.17 L355.43 266.97 L355.28 266.78 L355.12 266.58 L354.97 266.38 L354.80 266.19 L354.64 265.99 L354.49 265.80 L354.33 265.60 L354.15 265.41 L353.96 265.21 L353.76 265.02 L353.54 264.82 L353.31 264.62 L353.08 264.43 L352.83 264.23 L352.59 264.04 L352.34 263.84 L352.09 263.65 L351.84 263.45 L351.60 263.25 L351.36 263.06 L351.13 262.86 L350.90 262.67 L350.67 262.47 L350.43 262.28 L350.19 262.08 L349.95 261.88 L349.71 261.69 L349.46 261.49 L349.22 261.30 L348.98 261.10 L348.75 260.91 L348.51 260.71 L348.29 260.51 L348.07 260.32 L347.86 260.12 L347.66 259.93 L347.47 259.73 L347.29 259.54 L347.13 259.34 L346.97 259.14 L346.81 258.95 L346.65 258.75 L346.51 258.56 L346.38 258.36 L346.27 258.17 L346.19 257.97 L346.13 257.77 L346.08 257.58 L346.03 257.38 L345.99 257.19 L345.95 256.99 L345.92 256.80 L345.91 256.60 L345.90 256.41 L345.93 256.21 L346.00 256.01 L346.10 255.82 L346.22 255.62 L346.34 255.43 L346.45 255.23 L346.57 255.04 L346.71 254.84 L346.86 254.64 L347.00 254.45 L347.15 254.25 L347.29 254.06 L347.43 253.86 L347.58 253.67 L347.73 253.47 L347.91 253.27 L348.11 253.08 L348.31 252.88 L348.57 252.69 L348.96 252.49 L349.64 252.30 L357.50 252.10 Z" fill="#cc4428"/>
<text x="33.15" y="313.65" font-size="7.1" text-anchor="middle" fill="#111" stroke="#111" stroke-width="0.15" transform="rotate(-90 33.15 313.65)">Cluster0</text>
<text x="42.45" y="313.65" font-size="7.1" text-anchor="middle" fill="#111" stroke="#111" stroke-width="0.15" transform="rotate(-90 42.45 313.65)">unstimulated cells</text>
<text x="61.70" y="285.80" font-size="7.1" text-anchor="end" fill="#111" stroke="#111" stroke-width="0.15" transform="rotate(-90 61.70 285.80)">Cluster0 + IL-2</text>
<text x="83.25" y="313.65" font-size="7.1" text-anchor="middle" fill="#111" stroke="#111" stroke-width="0.15" transform="rotate(-90 83.25 313.65)">Cluster1</text>
<text x="92.55" y="313.65" font-size="7.1" text-anchor="middle" fill="#111" stroke="#111" stroke-width="0.15" transform="rotate(-90 92.55 313.65)">unstimulated cells</text>
<text x="111.95" y="285.80" font-size="7.1" text-anchor="end" fill="#111" stroke="#111" stroke-width="0.15" transform="rotate(-90 111.95 285.80)">Cluster1 + IL-2</text>
<text x="133.25" y="313.65" font-size="7.1" text-anchor="middle" fill="#111" stroke="#111" stroke-width="0.15" transform="rotate(-90 133.25 313.65)">Cluster2</text>
<text x="142.55" y="313.65" font-size="7.1" text-anchor="middle" fill="#111" stroke="#111" stroke-width="0.15" transform="rotate(-90 142.55 313.65)">unstimulated cells</text>
<text x="161.95" y="285.80" font-size="7.1" text-anchor="end" fill="#111" stroke="#111" stroke-width="0.15" transform="rotate(-90 161.95 285.80)">Cluster2 + IL-2</text>
<text x="182.85" y="313.65" font-size="7.1" text-anchor="middle" fill="#111" stroke="#111" stroke-width="0.15" transform="rotate(-90 182.85 313.65)">Cluster3</text>
<text x="192.15" y="313.65" font-size="7.1" text-anchor="middle" fill="#111" stroke="#111" stroke-width="0.15" transform="rotate(-90 192.15 313.65)">unstimulated cells</text>
<text x="211.55" y="285.80" font-size="7.1" text-anchor="end" fill="#111" stroke="#111" stroke-width="0.15" transform="rotate(-90 211.55 285.80)">Cluster3 + IL-2</text>
<text x="232.60" y="313.65" font-size="7.1" text-anchor="middle" fill="#111" stroke="#111" stroke-width="0.15" transform="rotate(-90 232.60 313.65)">Cluster4</text>
<text x="241.90" y="313.65" font-size="7.1" text-anchor="middle" fill="#111" stroke="#111" stroke-width="0.15" transform="rotate(-90 241.90 313.65)">unstimulated cells</text>
<text x="261.60" y="285.80" font-size="7.1" text-anchor="end" fill="#111" stroke="#111" stroke-width="0.15" transform="rotate(-90 261.60 285.80)">Cluster4 + IL-2</text>
<text x="282.50" y="313.65" font-size="7.1" text-anchor="middle" fill="#111" stroke="#111" stroke-width="0.15" transform="rotate(-90 282.50 313.65)">Cluster6</text>
<text x="291.80" y="313.65" font-size="7.1" text-anchor="middle" fill="#111" stroke="#111" stroke-width="0.15" transform="rotate(-90 291.80 313.65)">unstimulated cells</text>
<text x="310.90" y="285.80" font-size="7.1" text-anchor="end" fill="#111" stroke="#111" stroke-width="0.15" transform="rotate(-90 310.90 285.80)">Cluster6 + IL-2</text>
<text x="333.25" y="313.65" font-size="7.1" text-anchor="middle" fill="#111" stroke="#111" stroke-width="0.15" transform="rotate(-90 333.25 313.65)">Cluster8</text>
<text x="342.55" y="313.65" font-size="7.1" text-anchor="middle" fill="#111" stroke="#111" stroke-width="0.15" transform="rotate(-90 342.55 313.65)">unstimulated cells</text>
<text x="361.50" y="285.80" font-size="7.1" text-anchor="end" fill="#111" stroke="#111" stroke-width="0.15" transform="rotate(-90 361.50 285.80)">Cluster8 + IL-2</text>
<defs><linearGradient id="gB" x1="0" y1="0" x2="0" y2="1"><stop offset="0" stop-color="#f6e432"/><stop offset="0.1" stop-color="#f0c028"/><stop offset="0.3" stop-color="#dc7424"/><stop offset="0.55" stop-color="#c41a1a"/><stop offset="0.78" stop-color="#501414"/><stop offset="1" stop-color="#0c0606"/></linearGradient></defs>
<rect x="391.50" y="254.40" width="12.70" height="79.30" fill="url(#gB)"/>
<line x1="390.90" y1="253.80" x2="390.90" y2="336.20" stroke="#000" stroke-width="1.0"/>
<line x1="388.20" y1="254.40" x2="390.90" y2="254.40" stroke="#000" stroke-width="1.0"/>
<text x="382.20" y="257.10" font-size="7.6" text-anchor="middle" fill="#111" stroke="#111" stroke-width="0.15">0</text>
<line x1="388.20" y1="265.73" x2="390.90" y2="265.73" stroke="#000" stroke-width="1.0"/>
<text x="382.20" y="268.43" font-size="7.6" text-anchor="middle" fill="#111" stroke="#111" stroke-width="0.15">1</text>
<line x1="388.20" y1="277.06" x2="390.90" y2="277.06" stroke="#000" stroke-width="1.0"/>
<text x="382.20" y="279.76" font-size="7.6" text-anchor="middle" fill="#111" stroke="#111" stroke-width="0.15">2</text>
<line x1="388.20" y1="288.39" x2="390.90" y2="288.39" stroke="#000" stroke-width="1.0"/>
<text x="382.20" y="291.09" font-size="7.6" text-anchor="middle" fill="#111" stroke="#111" stroke-width="0.15">3</text>
<line x1="388.20" y1="299.72" x2="390.90" y2="299.72" stroke="#000" stroke-width="1.0"/>
<text x="382.20" y="302.42" font-size="7.6" text-anchor="middle" fill="#111" stroke="#111" stroke-width="0.15">4</text>
<line x1="388.20" y1="311.05" x2="390.90" y2="311.05" stroke="#000" stroke-width="1.0"/>
<text x="382.20" y="313.75" font-size="7.6" text-anchor="middle" fill="#111" stroke="#111" stroke-width="0.15">5</text>
<line x1="388.20" y1="322.38" x2="390.90" y2="322.38" stroke="#000" stroke-width="1.0"/>
<text x="382.20" y="325.08" font-size="7.6" text-anchor="middle" fill="#111" stroke="#111" stroke-width="0.15">6</text>
<line x1="388.20" y1="333.71" x2="390.90" y2="333.71" stroke="#000" stroke-width="1.0"/>
<text x="382.20" y="336.41" font-size="7.6" text-anchor="middle" fill="#111" stroke="#111" stroke-width="0.15">7</text>
<text x="0" y="0" font-size="9.2" text-anchor="middle" fill="#111" stroke="#111" stroke-width="0.15" transform="translate(423.50 284.90) scale(0.7820 1)">log</text>
<text x="0" y="0" font-size="9.2" text-anchor="middle" fill="#111" stroke="#111" stroke-width="0.15" transform="translate(423.50 297.40) scale(0.7126 1)">expression</text>
<text x="0" y="0" font-size="9.2" text-anchor="middle" fill="#111" stroke="#111" stroke-width="0.15" transform="translate(423.50 309.80) scale(0.7703 1)">(+1)</text>
<circle cx="432" cy="333.5" r="0.9" fill="#9a9a9a"/>
<line x1="56.30" y1="377.70" x2="56.30" y2="493.60" stroke="#000" stroke-width="1.1"/>
<line x1="55.80" y1="493.10" x2="177.20" y2="493.10" stroke="#000" stroke-width="1.1"/>
<line x1="52.60" y1="391.00" x2="56.30" y2="391.00" stroke="#000" stroke-width="1.0"/>
<text x="49.80" y="393.70" font-size="7.6" text-anchor="end" fill="#222" stroke="#222" stroke-width="0.15">1.0</text>
<line x1="52.60" y1="419.00" x2="56.30" y2="419.00" stroke="#000" stroke-width="1.0"/>
<text x="49.80" y="421.70" font-size="7.6" text-anchor="end" fill="#222" stroke="#222" stroke-width="0.15">0.5</text>
<line x1="52.60" y1="447.00" x2="56.30" y2="447.00" stroke="#000" stroke-width="1.0"/>
<text x="49.80" y="449.70" font-size="7.6" text-anchor="end" fill="#222" stroke="#222" stroke-width="0.15">0.0</text>
<line x1="52.60" y1="475.00" x2="56.30" y2="475.00" stroke="#000" stroke-width="1.0"/>
<text x="49.80" y="477.70" font-size="7.6" text-anchor="end" fill="#222" stroke="#222" stroke-width="0.15">−0.5</text>
<text x="0" y="0" font-size="10.0" text-anchor="middle" fill="#111" stroke="#111" stroke-width="0.15" transform="translate(33.10 435.50) rotate(-90) scale(0.6655 1)">CIML modulescore</text>
<path d="M66.50 400.30 C66.57 401.58 66.77 406.17 66.90 408.00 C67.03 409.83 67.07 410.00 67.30 411.30 C67.53 412.60 67.72 413.97 68.30 415.80 C68.88 417.63 70.08 420.13 70.80 422.30 C71.52 424.47 72.07 425.85 72.60 428.80 C73.13 431.75 73.88 436.35 74.00 440.00 C74.12 443.65 73.83 447.62 73.30 450.70 C72.77 453.78 71.58 456.13 70.80 458.50 C70.02 460.87 69.18 462.75 68.60 464.90 C68.02 467.05 67.60 469.55 67.30 471.40 C67.00 473.25 66.93 474.17 66.80 476.00 C66.67 477.83 66.55 481.33 66.50 482.40 L66.10 482.40 C66.05 481.33 65.93 477.83 65.80 476.00 C65.67 474.17 65.60 473.25 65.30 471.40 C65.00 469.55 64.58 467.05 64.00 464.90 C63.42 462.75 62.58 460.87 61.80 458.50 C61.02 456.13 59.83 453.78 59.30 450.70 C58.77 447.62 58.48 443.65 58.60 440.00 C58.72 436.35 59.47 431.75 60.00 428.80 C60.53 425.85 61.08 424.47 61.80 422.30 C62.52 420.13 63.72 417.63 64.30 415.80 C64.88 413.97 65.07 412.60 65.30 411.30 C65.53 410.00 65.57 409.83 65.70 408.00 C65.83 406.17 66.03 401.58 66.10 400.30 Z" fill="#e0736c" stroke="#2a2a2a" stroke-width="0.55"/>
<line x1="66.30" y1="433.30" x2="66.30" y2="450.70" stroke="#000" stroke-width="1.15"/>
<circle cx="66.30" cy="441.70" r="0.70" fill="#000"/>
<line x1="66.30" y1="493.10" x2="66.30" y2="496.50" stroke="#000" stroke-width="1.0"/>
<text x="68.80" y="500.40" font-size="7.2" text-anchor="end" fill="#111" stroke="#111" stroke-width="0.15" transform="rotate(-90 68.80 500.40)">Cluster0</text>
<path d="M83.10 398.80 C83.17 400.17 83.27 404.47 83.50 407.00 C83.73 409.53 83.83 410.50 84.50 414.00 C85.17 417.50 86.57 422.42 87.50 428.00 C88.43 433.58 89.83 442.50 90.10 447.50 C90.37 452.50 89.73 454.58 89.10 458.00 C88.47 461.42 87.17 464.83 86.30 468.00 C85.43 471.17 84.43 474.38 83.90 477.00 C83.37 479.62 83.23 482.58 83.10 483.70 L82.70 483.70 C82.57 482.58 82.43 479.62 81.90 477.00 C81.37 474.38 80.37 471.17 79.50 468.00 C78.63 464.83 77.33 461.42 76.70 458.00 C76.07 454.58 75.43 452.50 75.70 447.50 C75.97 442.50 77.37 433.58 78.30 428.00 C79.23 422.42 80.63 417.50 81.30 414.00 C81.97 410.50 82.07 409.53 82.30 407.00 C82.53 404.47 82.63 400.17 82.70 398.80 Z" fill="#d8961e" stroke="#2a2a2a" stroke-width="0.55"/>
<line x1="82.90" y1="439.10" x2="82.90" y2="456.90" stroke="#000" stroke-width="1.15"/>
<circle cx="82.90" cy="448.10" r="0.70" fill="#000"/>
<line x1="82.90" y1="493.10" x2="82.90" y2="496.50" stroke="#000" stroke-width="1.0"/>
<text x="85.40" y="500.40" font-size="7.2" text-anchor="end" fill="#111" stroke="#111" stroke-width="0.15" transform="rotate(-90 85.40 500.40)">Cluster1</text>
<path d="M99.80 401.40 C99.90 402.50 99.93 405.57 100.40 408.00 C100.87 410.43 101.73 412.67 102.60 416.00 C103.47 419.33 104.87 423.72 105.60 428.00 C106.33 432.28 106.93 437.70 107.00 441.70 C107.07 445.70 106.60 448.62 106.00 452.00 C105.40 455.38 104.27 458.67 103.40 462.00 C102.53 465.33 101.35 469.33 100.80 472.00 C100.25 474.67 100.27 475.83 100.10 478.00 C99.93 480.17 99.85 483.83 99.80 485.00 L99.40 485.00 C99.35 483.83 99.27 480.17 99.10 478.00 C98.93 475.83 98.95 474.67 98.40 472.00 C97.85 469.33 96.67 465.33 95.80 462.00 C94.93 458.67 93.80 455.38 93.20 452.00 C92.60 448.62 92.13 445.70 92.20 441.70 C92.27 437.70 92.87 432.28 93.60 428.00 C94.33 423.72 95.73 419.33 96.60 416.00 C97.47 412.67 98.33 410.43 98.80 408.00 C99.27 405.57 99.30 402.50 99.40 401.40 Z" fill="#a8a42c" stroke="#2a2a2a" stroke-width="0.55"/>
<line x1="99.60" y1="433.90" x2="99.60" y2="451.80" stroke="#000" stroke-width="1.15"/>
<circle cx="99.60" cy="442.70" r="0.70" fill="#000"/>
<line x1="99.60" y1="493.10" x2="99.60" y2="496.50" stroke="#000" stroke-width="1.0"/>
<text x="102.10" y="500.40" font-size="7.2" text-anchor="end" fill="#111" stroke="#111" stroke-width="0.15" transform="rotate(-90 102.10 500.40)">Cluster2</text>
<path d="M116.50 412.20 C116.67 413.17 116.90 415.37 117.50 418.00 C118.10 420.63 119.22 424.67 120.10 428.00 C120.98 431.33 122.18 434.70 122.80 438.00 C123.42 441.30 123.88 444.47 123.80 447.80 C123.72 451.13 123.05 454.63 122.30 458.00 C121.55 461.37 120.13 465.00 119.30 468.00 C118.47 471.00 117.77 473.80 117.30 476.00 C116.83 478.20 116.63 480.33 116.50 481.20 L116.10 481.20 C115.97 480.33 115.77 478.20 115.30 476.00 C114.83 473.80 114.13 471.00 113.30 468.00 C112.47 465.00 111.05 461.37 110.30 458.00 C109.55 454.63 108.88 451.13 108.80 447.80 C108.72 444.47 109.18 441.30 109.80 438.00 C110.42 434.70 111.62 431.33 112.50 428.00 C113.38 424.67 114.50 420.63 115.10 418.00 C115.70 415.37 115.93 413.17 116.10 412.20 Z" fill="#6cac3c" stroke="#2a2a2a" stroke-width="0.55"/>
<line x1="116.30" y1="440.90" x2="116.30" y2="457.90" stroke="#000" stroke-width="1.15"/>
<circle cx="116.30" cy="448.60" r="0.70" fill="#000"/>
<line x1="116.30" y1="493.10" x2="116.30" y2="496.50" stroke="#000" stroke-width="1.0"/>
<text x="118.80" y="500.40" font-size="7.2" text-anchor="end" fill="#111" stroke="#111" stroke-width="0.15" transform="rotate(-90 118.80 500.40)">Cluster3</text>
<path d="M133.30 412.20 C133.40 413.50 133.53 417.70 133.90 420.00 C134.27 422.30 134.67 423.00 135.50 426.00 C136.33 429.00 138.05 434.10 138.90 438.00 C139.75 441.90 140.50 445.73 140.60 449.40 C140.70 453.07 140.18 456.57 139.50 460.00 C138.82 463.43 137.37 467.00 136.50 470.00 C135.63 473.00 134.78 475.83 134.30 478.00 C133.82 480.17 133.77 481.37 133.60 483.00 C133.43 484.63 133.35 487.00 133.30 487.80 L132.90 487.80 C132.85 487.00 132.77 484.63 132.60 483.00 C132.43 481.37 132.38 480.17 131.90 478.00 C131.42 475.83 130.57 473.00 129.70 470.00 C128.83 467.00 127.38 463.43 126.70 460.00 C126.02 456.57 125.50 453.07 125.60 449.40 C125.70 445.73 126.45 441.90 127.30 438.00 C128.15 434.10 129.87 429.00 130.70 426.00 C131.53 423.00 131.93 422.30 132.30 420.00 C132.67 417.70 132.80 413.50 132.90 412.20 Z" fill="#68c0c4" stroke="#2a2a2a" stroke-width="0.55"/>
<line x1="133.10" y1="442.90" x2="133.10" y2="459.50" stroke="#000" stroke-width="1.15"/>
<circle cx="133.10" cy="450.90" r="0.70" fill="#000"/>
<line x1="133.10" y1="493.10" x2="133.10" y2="496.50" stroke="#000" stroke-width="1.0"/>
<text x="135.60" y="500.40" font-size="7.2" text-anchor="end" fill="#111" stroke="#111" stroke-width="0.15" transform="rotate(-90 135.60 500.40)">Cluster4</text>
<path d="M150.05 383.10 C150.08 385.25 150.18 393.02 150.25 396.00 C150.32 398.98 150.31 399.67 150.50 401.00 C150.69 402.33 150.77 401.83 151.40 404.00 C152.03 406.17 153.42 410.33 154.30 414.00 C155.18 417.67 156.14 422.30 156.70 426.00 C157.26 429.70 157.75 432.87 157.65 436.20 C157.55 439.53 156.79 442.87 156.10 446.00 C155.41 449.13 154.33 452.33 153.50 455.00 C152.67 457.67 151.67 460.35 151.10 462.00 C150.53 463.65 150.27 464.42 150.10 464.90 L149.70 464.90 C149.53 464.42 149.27 463.65 148.70 462.00 C148.13 460.35 147.13 457.67 146.30 455.00 C145.47 452.33 144.39 449.13 143.70 446.00 C143.01 442.87 142.25 439.53 142.15 436.20 C142.05 432.87 142.54 429.70 143.10 426.00 C143.66 422.30 144.62 417.67 145.50 414.00 C146.38 410.33 147.77 406.17 148.40 404.00 C149.03 401.83 149.11 402.33 149.30 401.00 C149.49 399.67 149.48 398.98 149.55 396.00 C149.62 393.02 149.72 385.25 149.75 383.10 Z" fill="#6a9ee0" stroke="#2a2a2a" stroke-width="0.55"/>
<line x1="149.90" y1="428.00" x2="149.90" y2="444.00" stroke="#000" stroke-width="1.15"/>
<circle cx="149.90" cy="436.20" r="0.70" fill="#000"/>
<line x1="149.90" y1="493.10" x2="149.90" y2="496.50" stroke="#000" stroke-width="1.0"/>
<text x="152.40" y="500.40" font-size="7.2" text-anchor="end" fill="#111" stroke="#111" stroke-width="0.15" transform="rotate(-90 152.40 500.40)">Cluster6</text>
<path d="M166.70 407.50 C166.93 408.58 167.57 411.25 168.10 414.00 C168.63 416.75 169.23 420.00 169.90 424.00 C170.57 428.00 171.38 433.52 172.10 438.00 C172.82 442.48 174.12 447.23 174.25 450.90 C174.38 454.57 173.59 457.15 172.90 460.00 C172.21 462.85 170.95 465.33 170.10 468.00 C169.25 470.67 168.37 473.80 167.80 476.00 C167.23 478.20 166.88 480.33 166.70 481.20 L166.30 481.20 C166.12 480.33 165.77 478.20 165.20 476.00 C164.63 473.80 163.75 470.67 162.90 468.00 C162.05 465.33 160.79 462.85 160.10 460.00 C159.41 457.15 158.62 454.57 158.75 450.90 C158.88 447.23 160.18 442.48 160.90 438.00 C161.62 433.52 162.43 428.00 163.10 424.00 C163.77 420.00 164.37 416.75 164.90 414.00 C165.43 411.25 166.07 408.58 166.30 407.50 Z" fill="#b07cc4" stroke="#2a2a2a" stroke-width="0.55"/>
<line x1="166.50" y1="436.20" x2="166.50" y2="456.40" stroke="#000" stroke-width="1.15"/>
<circle cx="166.50" cy="449.10" r="0.70" fill="#000"/>
<line x1="166.50" y1="493.10" x2="166.50" y2="496.50" stroke="#000" stroke-width="1.0"/>
<text x="169.00" y="500.40" font-size="7.2" text-anchor="end" fill="#111" stroke="#111" stroke-width="0.15" transform="rotate(-90 169.00 500.40)">Cluster8</text>
<text x="29.00" y="538.40" font-size="7.25" text-anchor="start" fill="#111" stroke="#111" stroke-width="0.15">Cluster0</text>
<rect x="73.75" y="532.00" width="17.00" height="7.80" fill="none" stroke="#111" stroke-width="0.7"/>
<text x="82.25" y="539.20" font-size="6.6" text-anchor="middle" fill="#111" stroke="#111" stroke-width="0.15">****</text>
<rect x="90.75" y="532.00" width="17.00" height="7.80" fill="none" stroke="#111" stroke-width="0.7"/>
<text x="99.25" y="538.20" font-size="6.6" text-anchor="middle" fill="#111" stroke="#111" stroke-width="0.15">n.s</text>
<rect x="107.75" y="532.00" width="17.00" height="7.80" fill="none" stroke="#111" stroke-width="0.7"/>
<text x="116.25" y="539.20" font-size="6.6" text-anchor="middle" fill="#111" stroke="#111" stroke-width="0.15">****</text>
<rect x="124.75" y="532.00" width="17.00" height="7.80" fill="none" stroke="#111" stroke-width="0.7"/>
<text x="133.25" y="539.20" font-size="6.6" text-anchor="middle" fill="#111" stroke="#111" stroke-width="0.15">****</text>
<rect x="141.75" y="532.00" width="17.00" height="7.80" fill="none" stroke="#111" stroke-width="0.7"/>
<text x="150.25" y="539.20" font-size="6.6" text-anchor="middle" fill="#111" stroke="#111" stroke-width="0.15">****</text>
<rect x="158.75" y="532.00" width="17.00" height="7.80" fill="none" stroke="#111" stroke-width="0.7"/>
<text x="167.25" y="539.20" font-size="6.6" text-anchor="middle" fill="#111" stroke="#111" stroke-width="0.15">*</text>
<text x="29.00" y="546.20" font-size="7.25" text-anchor="start" fill="#111" stroke="#111" stroke-width="0.15">Cluster1</text>
<rect x="90.75" y="539.80" width="17.00" height="7.80" fill="none" stroke="#111" stroke-width="0.7"/>
<text x="99.25" y="547.00" font-size="6.6" text-anchor="middle" fill="#111" stroke="#111" stroke-width="0.15">****</text>
<rect x="107.75" y="539.80" width="17.00" height="7.80" fill="none" stroke="#111" stroke-width="0.7"/>
<text x="116.25" y="546.00" font-size="6.6" text-anchor="middle" fill="#111" stroke="#111" stroke-width="0.15">n.s</text>
<rect x="124.75" y="539.80" width="17.00" height="7.80" fill="none" stroke="#111" stroke-width="0.7"/>
<text x="133.25" y="547.00" font-size="6.6" text-anchor="middle" fill="#111" stroke="#111" stroke-width="0.15">**</text>
<rect x="141.75" y="539.80" width="17.00" height="7.80" fill="none" stroke="#111" stroke-width="0.7"/>
<text x="150.25" y="547.00" font-size="6.6" text-anchor="middle" fill="#111" stroke="#111" stroke-width="0.15">****</text>
<rect x="158.75" y="539.80" width="17.00" height="7.80" fill="none" stroke="#111" stroke-width="0.7"/>
<text x="167.25" y="546.00" font-size="6.6" text-anchor="middle" fill="#111" stroke="#111" stroke-width="0.15">n.s</text>
<text x="29.00" y="554.00" font-size="7.25" text-anchor="start" fill="#111" stroke="#111" stroke-width="0.15">Cluster2</text>
<rect x="107.75" y="547.60" width="17.00" height="7.80" fill="none" stroke="#111" stroke-width="0.7"/>
<text x="116.25" y="554.80" font-size="6.6" text-anchor="middle" fill="#111" stroke="#111" stroke-width="0.15">****</text>
<rect x="124.75" y="547.60" width="17.00" height="7.80" fill="none" stroke="#111" stroke-width="0.7"/>
<text x="133.25" y="554.80" font-size="6.6" text-anchor="middle" fill="#111" stroke="#111" stroke-width="0.15">****</text>
<rect x="141.75" y="547.60" width="17.00" height="7.80" fill="none" stroke="#111" stroke-width="0.7"/>
<text x="150.25" y="554.80" font-size="6.6" text-anchor="middle" fill="#111" stroke="#111" stroke-width="0.15">****</text>
<rect x="158.75" y="547.60" width="17.00" height="7.80" fill="none" stroke="#111" stroke-width="0.7"/>
<text x="167.25" y="553.80" font-size="6.6" text-anchor="middle" fill="#111" stroke="#111" stroke-width="0.15">n.s</text>
<text x="29.00" y="561.80" font-size="7.25" text-anchor="start" fill="#111" stroke="#111" stroke-width="0.15">Cluster3</text>
<rect x="124.75" y="555.40" width="17.00" height="7.80" fill="none" stroke="#111" stroke-width="0.7"/>
<text x="133.25" y="561.60" font-size="6.6" text-anchor="middle" fill="#111" stroke="#111" stroke-width="0.15">n.s</text>
<rect x="141.75" y="555.40" width="17.00" height="7.80" fill="none" stroke="#111" stroke-width="0.7"/>
<text x="150.25" y="562.60" font-size="6.6" text-anchor="middle" fill="#111" stroke="#111" stroke-width="0.15">****</text>
<rect x="158.75" y="555.40" width="17.00" height="7.80" fill="none" stroke="#111" stroke-width="0.7"/>
<text x="167.25" y="561.60" font-size="6.6" text-anchor="middle" fill="#111" stroke="#111" stroke-width="0.15">n.s</text>
<text x="29.00" y="569.60" font-size="7.25" text-anchor="start" fill="#111" stroke="#111" stroke-width="0.15">Cluster4</text>
<rect x="141.75" y="563.20" width="17.00" height="7.80" fill="none" stroke="#111" stroke-width="0.7"/>
<text x="150.25" y="570.40" font-size="6.6" text-anchor="middle" fill="#111" stroke="#111" stroke-width="0.15">****</text>
<rect x="158.75" y="563.20" width="17.00" height="7.80" fill="none" stroke="#111" stroke-width="0.7"/>
<text x="167.25" y="569.40" font-size="6.6" text-anchor="middle" fill="#111" stroke="#111" stroke-width="0.15">n.s</text>
<text x="29.00" y="577.40" font-size="7.25" text-anchor="start" fill="#111" stroke="#111" stroke-width="0.15">Cluster6</text>
<rect x="158.75" y="571.00" width="17.00" height="7.80" fill="none" stroke="#111" stroke-width="0.7"/>
<text x="167.25" y="578.20" font-size="6.6" text-anchor="middle" fill="#111" stroke="#111" stroke-width="0.15">****</text>
<line x1="233.60" y1="382.20" x2="233.60" y2="526.50" stroke="#000" stroke-width="1.1"/>
<line x1="233.10" y1="526.00" x2="445.60" y2="526.00" stroke="#000" stroke-width="1.1"/>
<line x1="229.80" y1="520.00" x2="233.60" y2="520.00" stroke="#000" stroke-width="1.0"/>
<text x="226.40" y="522.40" font-size="6.8" text-anchor="end" fill="#222" stroke="#222" stroke-width="0.15">0</text>
<line x1="242.90" y1="526.00" x2="242.90" y2="529.40" stroke="#000" stroke-width="1.0"/>
<text x="242.90" y="539.60" font-size="6.8" text-anchor="middle" fill="#222" stroke="#222" stroke-width="0.15">0</text>
<line x1="229.80" y1="481.26" x2="233.60" y2="481.26" stroke="#000" stroke-width="1.0"/>
<text x="226.40" y="483.66" font-size="6.8" text-anchor="end" fill="#222" stroke="#222" stroke-width="0.15">2</text>
<line x1="299.20" y1="526.00" x2="299.20" y2="529.40" stroke="#000" stroke-width="1.0"/>
<text x="299.20" y="539.60" font-size="6.8" text-anchor="middle" fill="#222" stroke="#222" stroke-width="0.15">2</text>
<line x1="229.80" y1="442.52" x2="233.60" y2="442.52" stroke="#000" stroke-width="1.0"/>
<text x="226.40" y="444.92" font-size="6.8" text-anchor="end" fill="#222" stroke="#222" stroke-width="0.15">4</text>
<line x1="355.50" y1="526.00" x2="355.50" y2="529.40" stroke="#000" stroke-width="1.0"/>
<text x="355.50" y="539.60" font-size="6.8" text-anchor="middle" fill="#222" stroke="#222" stroke-width="0.15">4</text>
<line x1="229.80" y1="403.78" x2="233.60" y2="403.78" stroke="#000" stroke-width="1.0"/>
<text x="226.40" y="406.18" font-size="6.8" text-anchor="end" fill="#222" stroke="#222" stroke-width="0.15">6</text>
<line x1="411.80" y1="526.00" x2="411.80" y2="529.40" stroke="#000" stroke-width="1.0"/>
<text x="411.80" y="539.60" font-size="6.8" text-anchor="middle" fill="#222" stroke="#222" stroke-width="0.15">6</text>
<text x="336.50" y="391.00" font-size="9.5" text-anchor="middle" fill="#111" stroke="#111" stroke-width="0.15">Cluster 6</text>
<text x="0" y="0" font-size="9.8" text-anchor="middle" fill="#111" stroke="#111" stroke-width="0.15" transform="translate(339.60 554.00) scale(0.6803 1)">Unstimulated expression</text>
<text x="0" y="0" font-size="9.8" text-anchor="middle" fill="#111" stroke="#111" stroke-width="0.15" transform="translate(217.00 458.20) rotate(-90) scale(0.7560 1)">IL2 stimulated expression</text>
<path d="M242 521.6 L242.3 515 L245 509 L250 502.5 L257 496 L266 490 L277 484 L289 478 L300 472.5 L304 475.5 L298 481.5 L290 488.5 L282 495.5 L274 502.5 L267 509 L262 514 L258 518.5 L253 521.6 Z" fill="#c8c8c8"/>
<circle cx="321.3" cy="462.8" r="0.62" fill="#bcbcbc"/>
<circle cx="358.9" cy="438.9" r="0.62" fill="#bcbcbc"/>
<circle cx="334.6" cy="455.8" r="0.62" fill="#bcbcbc"/>
<circle cx="304.5" cy="472.4" r="0.62" fill="#bcbcbc"/>
<circle cx="359.0" cy="439.6" r="0.62" fill="#bcbcbc"/>
<circle cx="272.6" cy="488.0" r="0.62" fill="#bcbcbc"/>
<circle cx="304.8" cy="472.4" r="0.62" fill="#bcbcbc"/>
<circle cx="316.0" cy="468.0" r="0.62" fill="#bcbcbc"/>
<circle cx="266.4" cy="494.4" r="0.62" fill="#bcbcbc"/>
<circle cx="355.7" cy="444.7" r="0.62" fill="#bcbcbc"/>
<circle cx="337.6" cy="455.2" r="0.62" fill="#bcbcbc"/>
<circle cx="274.5" cy="491.9" r="0.62" fill="#bcbcbc"/>
<circle cx="320.7" cy="463.4" r="0.62" fill="#bcbcbc"/>
<circle cx="350.2" cy="446.6" r="0.62" fill="#bcbcbc"/>
<circle cx="280.2" cy="487.3" r="0.62" fill="#bcbcbc"/>
<circle cx="350.3" cy="450.8" r="0.62" fill="#bcbcbc"/>
<circle cx="287.2" cy="484.2" r="0.62" fill="#bcbcbc"/>
<circle cx="327.5" cy="459.0" r="0.62" fill="#bcbcbc"/>
<circle cx="279.8" cy="488.8" r="0.62" fill="#bcbcbc"/>
<circle cx="361.8" cy="439.1" r="0.62" fill="#bcbcbc"/>
<circle cx="352.9" cy="444.6" r="0.62" fill="#bcbcbc"/>
<circle cx="276.6" cy="489.8" r="0.62" fill="#bcbcbc"/>
<circle cx="275.0" cy="490.5" r="0.62" fill="#bcbcbc"/>
<circle cx="319.1" cy="464.7" r="0.62" fill="#bcbcbc"/>
<circle cx="266.1" cy="493.7" r="0.62" fill="#bcbcbc"/>
<circle cx="289.1" cy="480.0" r="0.62" fill="#bcbcbc"/>
<circle cx="343.9" cy="448.8" r="0.62" fill="#bcbcbc"/>
<circle cx="306.1" cy="471.8" r="0.62" fill="#bcbcbc"/>
<circle cx="330.6" cy="461.7" r="0.62" fill="#bcbcbc"/>
<circle cx="266.9" cy="495.4" r="0.62" fill="#bcbcbc"/>
<circle cx="335.8" cy="454.9" r="0.62" fill="#bcbcbc"/>
<circle cx="340.2" cy="452.0" r="0.62" fill="#bcbcbc"/>
<circle cx="294.5" cy="478.0" r="0.62" fill="#bcbcbc"/>
<circle cx="268.2" cy="493.1" r="0.62" fill="#bcbcbc"/>
<circle cx="277.8" cy="488.7" r="0.62" fill="#bcbcbc"/>
<circle cx="336.5" cy="454.1" r="0.62" fill="#bcbcbc"/>
<circle cx="357.3" cy="443.9" r="0.62" fill="#bcbcbc"/>
<circle cx="293.4" cy="478.3" r="0.62" fill="#bcbcbc"/>
<circle cx="310.7" cy="469.2" r="0.62" fill="#bcbcbc"/>
<circle cx="335.6" cy="454.1" r="0.62" fill="#bcbcbc"/>
<circle cx="341.3" cy="451.9" r="0.62" fill="#bcbcbc"/>
<circle cx="359.3" cy="441.1" r="0.62" fill="#bcbcbc"/>
<circle cx="271.0" cy="490.4" r="0.62" fill="#bcbcbc"/>
<circle cx="355.9" cy="445.2" r="0.62" fill="#bcbcbc"/>
<circle cx="292.0" cy="481.4" r="0.62" fill="#bcbcbc"/>
<circle cx="289.4" cy="480.2" r="0.62" fill="#bcbcbc"/>
<circle cx="289.8" cy="481.2" r="0.62" fill="#bcbcbc"/>
<circle cx="275.2" cy="489.7" r="0.62" fill="#bcbcbc"/>
<circle cx="328.8" cy="459.7" r="0.62" fill="#bcbcbc"/>
<circle cx="268.3" cy="493.1" r="0.62" fill="#bcbcbc"/>
<circle cx="364.3" cy="437.0" r="0.62" fill="#bcbcbc"/>
<circle cx="282.6" cy="484.7" r="0.62" fill="#bcbcbc"/>
<circle cx="318.1" cy="465.6" r="0.62" fill="#bcbcbc"/>
<circle cx="300.0" cy="473.6" r="0.62" fill="#bcbcbc"/>
<circle cx="268.7" cy="493.2" r="0.62" fill="#bcbcbc"/>
<circle cx="307.4" cy="470.7" r="0.62" fill="#bcbcbc"/>
<circle cx="346.2" cy="450.5" r="0.62" fill="#bcbcbc"/>
<circle cx="359.8" cy="443.0" r="0.62" fill="#bcbcbc"/>
<circle cx="322.2" cy="462.7" r="0.62" fill="#bcbcbc"/>
<circle cx="301.3" cy="473.6" r="0.62" fill="#bcbcbc"/>
<circle cx="275.3" cy="489.9" r="0.62" fill="#bcbcbc"/>
<circle cx="303.2" cy="472.2" r="0.62" fill="#bcbcbc"/>
<circle cx="365.9" cy="440.2" r="0.62" fill="#bcbcbc"/>
<circle cx="303.2" cy="469.9" r="0.62" fill="#bcbcbc"/>
<circle cx="306.8" cy="471.0" r="0.62" fill="#bcbcbc"/>
<circle cx="287.4" cy="480.5" r="0.62" fill="#bcbcbc"/>
<circle cx="298.2" cy="477.0" r="0.62" fill="#bcbcbc"/>
<circle cx="364.6" cy="439.6" r="0.62" fill="#bcbcbc"/>
<circle cx="361.0" cy="439.2" r="0.62" fill="#bcbcbc"/>
<circle cx="291.8" cy="478.4" r="0.62" fill="#bcbcbc"/>
<circle cx="270.9" cy="491.3" r="0.62" fill="#bcbcbc"/>
<circle cx="349.7" cy="449.5" r="0.62" fill="#bcbcbc"/>
<circle cx="294.0" cy="479.1" r="0.62" fill="#bcbcbc"/>
<circle cx="329.4" cy="455.8" r="0.62" fill="#bcbcbc"/>
<circle cx="325.9" cy="460.4" r="0.62" fill="#bcbcbc"/>
<circle cx="330.5" cy="456.3" r="0.62" fill="#bcbcbc"/>
<circle cx="286.4" cy="480.1" r="0.62" fill="#bcbcbc"/>
<circle cx="329.0" cy="458.9" r="0.62" fill="#bcbcbc"/>
<circle cx="287.6" cy="484.2" r="0.62" fill="#bcbcbc"/>
<circle cx="316.7" cy="464.9" r="0.62" fill="#bcbcbc"/>
<circle cx="266.4" cy="493.1" r="0.62" fill="#bcbcbc"/>
<circle cx="326.8" cy="459.5" r="0.62" fill="#bcbcbc"/>
<circle cx="304.2" cy="473.6" r="0.62" fill="#bcbcbc"/>
<circle cx="341.4" cy="449.5" r="0.62" fill="#bcbcbc"/>
<circle cx="292.7" cy="477.7" r="0.62" fill="#bcbcbc"/>
<circle cx="345.0" cy="447.5" r="0.62" fill="#bcbcbc"/>
<circle cx="292.9" cy="480.8" r="0.62" fill="#bcbcbc"/>
<circle cx="328.7" cy="456.2" r="0.62" fill="#bcbcbc"/>
<circle cx="363.0" cy="441.1" r="0.62" fill="#bcbcbc"/>
<circle cx="311.2" cy="468.3" r="0.62" fill="#bcbcbc"/>
<circle cx="276.6" cy="490.3" r="0.62" fill="#bcbcbc"/>
<circle cx="305.7" cy="468.8" r="0.62" fill="#bcbcbc"/>
<circle cx="329.0" cy="458.1" r="0.62" fill="#bcbcbc"/>
<circle cx="277.1" cy="485.7" r="0.62" fill="#bcbcbc"/>
<circle cx="339.3" cy="450.7" r="0.62" fill="#bcbcbc"/>
<circle cx="299.9" cy="474.0" r="0.62" fill="#bcbcbc"/>
<circle cx="321.4" cy="463.3" r="0.62" fill="#bcbcbc"/>
<circle cx="332.4" cy="454.5" r="0.62" fill="#bcbcbc"/>
<circle cx="267.1" cy="494.7" r="0.62" fill="#bcbcbc"/>
<circle cx="324.4" cy="462.7" r="0.62" fill="#bcbcbc"/>
<circle cx="281.0" cy="485.0" r="0.62" fill="#bcbcbc"/>
<circle cx="267.9" cy="491.3" r="0.62" fill="#bcbcbc"/>
<circle cx="305.1" cy="472.3" r="0.62" fill="#bcbcbc"/>
<circle cx="274.1" cy="490.3" r="0.62" fill="#bcbcbc"/>
<circle cx="289.8" cy="481.3" r="0.62" fill="#bcbcbc"/>
<circle cx="267.5" cy="494.4" r="0.62" fill="#bcbcbc"/>
<circle cx="304.4" cy="471.0" r="0.62" fill="#bcbcbc"/>
<circle cx="317.7" cy="466.5" r="0.62" fill="#bcbcbc"/>
<circle cx="282.6" cy="485.0" r="0.62" fill="#bcbcbc"/>
<circle cx="298.3" cy="476.0" r="0.62" fill="#bcbcbc"/>
<circle cx="286.2" cy="482.3" r="0.62" fill="#bcbcbc"/>
<circle cx="345.4" cy="449.7" r="0.62" fill="#bcbcbc"/>
<circle cx="295.2" cy="479.9" r="0.62" fill="#bcbcbc"/>
<circle cx="271.3" cy="491.9" r="0.62" fill="#bcbcbc"/>
<circle cx="312.9" cy="466.7" r="0.62" fill="#bcbcbc"/>
<circle cx="360.8" cy="442.3" r="0.62" fill="#bcbcbc"/>
<circle cx="343.9" cy="447.7" r="0.62" fill="#bcbcbc"/>
<circle cx="323.5" cy="463.1" r="0.62" fill="#bcbcbc"/>
<circle cx="294.8" cy="479.4" r="0.62" fill="#bcbcbc"/>
<circle cx="314.9" cy="468.3" r="0.62" fill="#bcbcbc"/>
<circle cx="360.7" cy="442.7" r="0.62" fill="#bcbcbc"/>
<circle cx="293.0" cy="478.6" r="0.62" fill="#bcbcbc"/>
<circle cx="352.9" cy="445.8" r="0.62" fill="#bcbcbc"/>
<circle cx="315.1" cy="466.5" r="0.62" fill="#bcbcbc"/>
<circle cx="320.5" cy="464.8" r="0.62" fill="#bcbcbc"/>
<circle cx="352.6" cy="446.9" r="0.62" fill="#bcbcbc"/>
<circle cx="295.4" cy="476.7" r="0.62" fill="#bcbcbc"/>
<circle cx="287.4" cy="482.7" r="0.62" fill="#bcbcbc"/>
<circle cx="362.6" cy="436.7" r="0.62" fill="#bcbcbc"/>
<circle cx="355.3" cy="446.4" r="0.62" fill="#bcbcbc"/>
<circle cx="318.3" cy="464.4" r="0.62" fill="#bcbcbc"/>
<circle cx="307.7" cy="475.1" r="0.62" fill="#bcbcbc"/>
<circle cx="299.4" cy="473.6" r="0.62" fill="#bcbcbc"/>
<circle cx="307.2" cy="475.1" r="0.62" fill="#bcbcbc"/>
<circle cx="287.0" cy="481.7" r="0.62" fill="#bcbcbc"/>
<circle cx="321.2" cy="463.2" r="0.62" fill="#bcbcbc"/>
<circle cx="302.2" cy="473.1" r="0.62" fill="#bcbcbc"/>
<circle cx="344.8" cy="452.2" r="0.62" fill="#bcbcbc"/>
<circle cx="266.4" cy="492.9" r="0.62" fill="#bcbcbc"/>
<circle cx="358.0" cy="441.9" r="0.62" fill="#bcbcbc"/>
<circle cx="339.5" cy="452.7" r="0.62" fill="#bcbcbc"/>
<circle cx="275.7" cy="490.1" r="0.62" fill="#bcbcbc"/>
<circle cx="364.6" cy="437.8" r="0.62" fill="#bcbcbc"/>
<circle cx="305.4" cy="474.1" r="0.62" fill="#bcbcbc"/>
<circle cx="323.8" cy="459.5" r="0.62" fill="#bcbcbc"/>
<circle cx="272.9" cy="488.9" r="0.62" fill="#bcbcbc"/>
<circle cx="337.0" cy="453.5" r="0.62" fill="#bcbcbc"/>
<circle cx="291.6" cy="481.7" r="0.62" fill="#bcbcbc"/>
<circle cx="287.9" cy="480.3" r="0.62" fill="#bcbcbc"/>
<circle cx="294.0" cy="478.2" r="0.62" fill="#bcbcbc"/>
<circle cx="335.2" cy="454.7" r="0.62" fill="#bcbcbc"/>
<circle cx="283.9" cy="484.0" r="0.62" fill="#bcbcbc"/>
<circle cx="303.4" cy="476.0" r="0.62" fill="#bcbcbc"/>
<circle cx="312.9" cy="466.1" r="0.62" fill="#bcbcbc"/>
<circle cx="266.5" cy="494.4" r="0.62" fill="#bcbcbc"/>
<circle cx="316.1" cy="464.3" r="0.62" fill="#bcbcbc"/>
<circle cx="331.0" cy="456.3" r="0.62" fill="#bcbcbc"/>
<circle cx="355.1" cy="442.5" r="0.62" fill="#bcbcbc"/>
<circle cx="296.4" cy="474.8" r="0.62" fill="#bcbcbc"/>
<circle cx="279.1" cy="488.9" r="0.62" fill="#bcbcbc"/>
<circle cx="287.9" cy="482.3" r="0.62" fill="#bcbcbc"/>
<circle cx="346.0" cy="448.5" r="0.62" fill="#bcbcbc"/>
<circle cx="329.4" cy="457.2" r="0.62" fill="#bcbcbc"/>
<circle cx="339.4" cy="453.2" r="0.62" fill="#bcbcbc"/>
<circle cx="355.0" cy="445.0" r="0.62" fill="#bcbcbc"/>
<circle cx="313.3" cy="468.9" r="0.62" fill="#bcbcbc"/>
<circle cx="307.8" cy="470.2" r="0.62" fill="#bcbcbc"/>
<circle cx="317.3" cy="466.1" r="0.62" fill="#bcbcbc"/>
<circle cx="343.1" cy="451.7" r="0.62" fill="#bcbcbc"/>
<circle cx="344.0" cy="450.6" r="0.62" fill="#bcbcbc"/>
<circle cx="340.7" cy="451.8" r="0.62" fill="#bcbcbc"/>
<circle cx="332.6" cy="456.3" r="0.62" fill="#bcbcbc"/>
<circle cx="363.3" cy="441.5" r="0.62" fill="#bcbcbc"/>
<circle cx="268.3" cy="493.1" r="0.62" fill="#bcbcbc"/>
<circle cx="346.7" cy="449.0" r="0.62" fill="#bcbcbc"/>
<circle cx="360.1" cy="443.2" r="0.62" fill="#bcbcbc"/>
<circle cx="331.5" cy="458.1" r="0.62" fill="#bcbcbc"/>
<circle cx="355.9" cy="444.3" r="0.62" fill="#bcbcbc"/>
<circle cx="275.3" cy="487.9" r="0.62" fill="#bcbcbc"/>
<circle cx="276.2" cy="487.6" r="0.62" fill="#bcbcbc"/>
<circle cx="321.3" cy="463.7" r="0.62" fill="#bcbcbc"/>
<circle cx="295.8" cy="477.7" r="0.62" fill="#bcbcbc"/>
<circle cx="269.7" cy="494.2" r="0.62" fill="#bcbcbc"/>
<circle cx="334.9" cy="456.0" r="0.62" fill="#bcbcbc"/>
<circle cx="351.0" cy="447.2" r="0.62" fill="#bcbcbc"/>
<circle cx="289.6" cy="482.3" r="0.62" fill="#bcbcbc"/>
<circle cx="318.8" cy="460.7" r="0.62" fill="#bcbcbc"/>
<circle cx="295.3" cy="478.0" r="0.62" fill="#bcbcbc"/>
<circle cx="268.7" cy="492.6" r="0.62" fill="#bcbcbc"/>
<circle cx="322.3" cy="461.6" r="0.62" fill="#bcbcbc"/>
<circle cx="308.7" cy="471.8" r="0.62" fill="#bcbcbc"/>
<circle cx="321.1" cy="462.0" r="0.62" fill="#bcbcbc"/>
<circle cx="284.9" cy="482.6" r="0.62" fill="#bcbcbc"/>
<circle cx="335.9" cy="454.3" r="0.62" fill="#bcbcbc"/>
<circle cx="309.8" cy="470.3" r="0.62" fill="#bcbcbc"/>
<circle cx="295.0" cy="478.8" r="0.62" fill="#bcbcbc"/>
<circle cx="334.3" cy="456.7" r="0.62" fill="#bcbcbc"/>
<circle cx="324.9" cy="463.1" r="0.62" fill="#bcbcbc"/>
<circle cx="270.6" cy="491.5" r="0.62" fill="#bcbcbc"/>
<circle cx="273.4" cy="489.6" r="0.62" fill="#bcbcbc"/>
<circle cx="318.1" cy="465.0" r="0.62" fill="#bcbcbc"/>
<circle cx="306.0" cy="474.8" r="0.62" fill="#bcbcbc"/>
<circle cx="290.4" cy="480.7" r="0.62" fill="#bcbcbc"/>
<circle cx="332.9" cy="456.0" r="0.62" fill="#bcbcbc"/>
<circle cx="268.6" cy="495.2" r="0.62" fill="#bcbcbc"/>
<circle cx="327.9" cy="462.4" r="0.62" fill="#bcbcbc"/>
<circle cx="281.3" cy="488.8" r="0.62" fill="#bcbcbc"/>
<circle cx="326.1" cy="463.1" r="0.62" fill="#bcbcbc"/>
<circle cx="344.1" cy="451.4" r="0.62" fill="#bcbcbc"/>
<circle cx="293.3" cy="480.5" r="0.62" fill="#bcbcbc"/>
<circle cx="282.4" cy="484.0" r="0.62" fill="#bcbcbc"/>
<circle cx="292.8" cy="481.0" r="0.62" fill="#bcbcbc"/>
<circle cx="296.4" cy="479.1" r="0.62" fill="#bcbcbc"/>
<circle cx="324.1" cy="463.6" r="0.62" fill="#bcbcbc"/>
<circle cx="342.2" cy="448.4" r="0.62" fill="#bcbcbc"/>
<circle cx="309.9" cy="470.7" r="0.62" fill="#bcbcbc"/>
<circle cx="318.0" cy="462.6" r="0.62" fill="#bcbcbc"/>
<circle cx="297.4" cy="475.5" r="0.62" fill="#bcbcbc"/>
<circle cx="271.4" cy="492.3" r="0.62" fill="#bcbcbc"/>
<circle cx="267.8" cy="493.6" r="0.62" fill="#bcbcbc"/>
<circle cx="352.4" cy="442.8" r="0.62" fill="#bcbcbc"/>
<circle cx="266.0" cy="494.7" r="0.62" fill="#bcbcbc"/>
<circle cx="304.9" cy="473.9" r="0.62" fill="#bcbcbc"/>
<circle cx="300.7" cy="473.3" r="0.62" fill="#bcbcbc"/>
<circle cx="304.5" cy="473.3" r="0.62" fill="#bcbcbc"/>
<circle cx="276.0" cy="489.2" r="0.62" fill="#bcbcbc"/>
<circle cx="295.3" cy="475.4" r="0.62" fill="#bcbcbc"/>
<circle cx="275.5" cy="491.1" r="0.62" fill="#bcbcbc"/>
<circle cx="284.0" cy="484.0" r="0.62" fill="#bcbcbc"/>
<circle cx="287.0" cy="483.4" r="0.62" fill="#bcbcbc"/>
<circle cx="282.4" cy="484.7" r="0.62" fill="#bcbcbc"/>
<circle cx="356.7" cy="443.0" r="0.62" fill="#bcbcbc"/>
<circle cx="294.8" cy="480.3" r="0.62" fill="#bcbcbc"/>
<circle cx="327.0" cy="458.8" r="0.62" fill="#bcbcbc"/>
<circle cx="305.1" cy="472.9" r="0.62" fill="#bcbcbc"/>
<circle cx="326.5" cy="459.8" r="0.62" fill="#bcbcbc"/>
<circle cx="287.4" cy="481.1" r="0.62" fill="#bcbcbc"/>
<circle cx="276.4" cy="486.3" r="0.62" fill="#bcbcbc"/>
<circle cx="279.5" cy="487.9" r="0.62" fill="#bcbcbc"/>
<circle cx="270.1" cy="492.2" r="0.62" fill="#bcbcbc"/>
<circle cx="297.9" cy="477.7" r="0.62" fill="#bcbcbc"/>
<circle cx="289.3" cy="480.9" r="0.62" fill="#bcbcbc"/>
<circle cx="304.7" cy="471.9" r="0.62" fill="#bcbcbc"/>
<circle cx="332.1" cy="459.3" r="0.62" fill="#bcbcbc"/>
<circle cx="276.4" cy="488.6" r="0.62" fill="#bcbcbc"/>
<circle cx="358.6" cy="444.1" r="0.62" fill="#bcbcbc"/>
<circle cx="323.9" cy="457.7" r="0.62" fill="#bcbcbc"/>
<circle cx="266.2" cy="496.1" r="0.62" fill="#bcbcbc"/>
<circle cx="269.0" cy="493.0" r="0.62" fill="#bcbcbc"/>
<circle cx="268.1" cy="491.7" r="0.62" fill="#bcbcbc"/>
<circle cx="313.2" cy="469.5" r="0.62" fill="#bcbcbc"/>
<circle cx="292.9" cy="479.0" r="0.62" fill="#bcbcbc"/>
<circle cx="271.2" cy="494.4" r="0.62" fill="#bcbcbc"/>
<circle cx="307.1" cy="472.5" r="0.62" fill="#bcbcbc"/>
<circle cx="358.0" cy="443.2" r="0.62" fill="#bcbcbc"/>
<circle cx="268.4" cy="493.4" r="0.62" fill="#bcbcbc"/>
<circle cx="297.5" cy="477.6" r="0.62" fill="#bcbcbc"/>
<circle cx="298.6" cy="476.4" r="0.62" fill="#bcbcbc"/>
<circle cx="288.8" cy="481.9" r="0.62" fill="#bcbcbc"/>
<circle cx="362.5" cy="439.7" r="0.62" fill="#bcbcbc"/>
<circle cx="277.7" cy="486.2" r="0.62" fill="#bcbcbc"/>
<circle cx="311.4" cy="468.6" r="0.62" fill="#bcbcbc"/>
<circle cx="270.5" cy="491.5" r="0.62" fill="#bcbcbc"/>
<circle cx="312.5" cy="468.7" r="0.62" fill="#bcbcbc"/>
<circle cx="356.3" cy="440.6" r="0.62" fill="#bcbcbc"/>
<circle cx="280.6" cy="484.3" r="0.62" fill="#bcbcbc"/>
<circle cx="266.6" cy="492.3" r="0.62" fill="#bcbcbc"/>
<circle cx="315.7" cy="465.7" r="0.62" fill="#bcbcbc"/>
<circle cx="295.5" cy="475.9" r="0.62" fill="#bcbcbc"/>
<circle cx="355.2" cy="441.9" r="0.62" fill="#bcbcbc"/>
<circle cx="288.9" cy="478.6" r="0.62" fill="#bcbcbc"/>
<circle cx="281.4" cy="486.6" r="0.62" fill="#bcbcbc"/>
<circle cx="272.7" cy="490.3" r="0.62" fill="#bcbcbc"/>
<circle cx="338.4" cy="453.9" r="0.62" fill="#bcbcbc"/>
<circle cx="344.0" cy="449.8" r="0.62" fill="#bcbcbc"/>
<circle cx="270.4" cy="492.7" r="0.62" fill="#bcbcbc"/>
<circle cx="283.2" cy="486.0" r="0.62" fill="#bcbcbc"/>
<circle cx="316.3" cy="466.7" r="0.62" fill="#bcbcbc"/>
<circle cx="283.3" cy="486.8" r="0.62" fill="#bcbcbc"/>
<circle cx="268.2" cy="494.0" r="0.62" fill="#bcbcbc"/>
<circle cx="279.4" cy="486.5" r="0.62" fill="#bcbcbc"/>
<circle cx="271.5" cy="492.7" r="0.62" fill="#bcbcbc"/>
<circle cx="299.9" cy="474.2" r="0.62" fill="#bcbcbc"/>
<circle cx="314.0" cy="469.5" r="0.62" fill="#bcbcbc"/>
<circle cx="353.2" cy="443.4" r="0.62" fill="#bcbcbc"/>
<circle cx="316.0" cy="463.8" r="0.62" fill="#bcbcbc"/>
<circle cx="302.1" cy="474.8" r="0.62" fill="#bcbcbc"/>
<circle cx="360.4" cy="438.7" r="0.62" fill="#bcbcbc"/>
<circle cx="333.2" cy="455.8" r="0.62" fill="#bcbcbc"/>
<circle cx="343.1" cy="449.5" r="0.62" fill="#bcbcbc"/>
<circle cx="296.1" cy="477.7" r="0.62" fill="#bcbcbc"/>
<circle cx="276.9" cy="488.7" r="0.62" fill="#bcbcbc"/>
<circle cx="284.8" cy="483.2" r="0.62" fill="#bcbcbc"/>
<circle cx="269.2" cy="491.5" r="0.62" fill="#bcbcbc"/>
<circle cx="337.4" cy="453.5" r="0.62" fill="#bcbcbc"/>
<circle cx="268.4" cy="492.9" r="0.62" fill="#bcbcbc"/>
<circle cx="273.8" cy="488.0" r="0.62" fill="#bcbcbc"/>
<circle cx="359.7" cy="443.6" r="0.62" fill="#bcbcbc"/>
<circle cx="320.1" cy="463.9" r="0.62" fill="#bcbcbc"/>
<circle cx="294.1" cy="480.1" r="0.62" fill="#bcbcbc"/>
<circle cx="291.0" cy="482.2" r="0.62" fill="#bcbcbc"/>
<circle cx="344.9" cy="449.8" r="0.62" fill="#bcbcbc"/>
<circle cx="333.1" cy="457.9" r="0.62" fill="#bcbcbc"/>
<circle cx="277.0" cy="489.2" r="0.62" fill="#bcbcbc"/>
<circle cx="331.1" cy="454.0" r="0.62" fill="#bcbcbc"/>
<circle cx="341.0" cy="453.0" r="0.62" fill="#bcbcbc"/>
<circle cx="272.9" cy="489.1" r="0.62" fill="#bcbcbc"/>
<circle cx="304.0" cy="476.0" r="0.62" fill="#bcbcbc"/>
<circle cx="301.2" cy="471.9" r="0.62" fill="#bcbcbc"/>
<circle cx="358.1" cy="443.0" r="0.62" fill="#bcbcbc"/>
<circle cx="311.5" cy="470.6" r="0.62" fill="#bcbcbc"/>
<circle cx="271.9" cy="490.7" r="0.62" fill="#bcbcbc"/>
<circle cx="343.3" cy="450.0" r="0.62" fill="#bcbcbc"/>
<circle cx="363.3" cy="439.4" r="0.62" fill="#bcbcbc"/>
<circle cx="267.4" cy="492.0" r="0.62" fill="#bcbcbc"/>
<circle cx="351.4" cy="445.0" r="0.62" fill="#bcbcbc"/>
<circle cx="297.1" cy="477.0" r="0.62" fill="#bcbcbc"/>
<circle cx="279.5" cy="488.0" r="0.62" fill="#bcbcbc"/>
<circle cx="314.7" cy="465.1" r="0.62" fill="#bcbcbc"/>
<circle cx="282.9" cy="486.8" r="0.62" fill="#bcbcbc"/>
<circle cx="293.1" cy="479.1" r="0.62" fill="#bcbcbc"/>
<circle cx="346.4" cy="453.1" r="0.62" fill="#bcbcbc"/>
<circle cx="347.6" cy="446.9" r="0.62" fill="#bcbcbc"/>
<circle cx="274.8" cy="488.3" r="0.62" fill="#bcbcbc"/>
<circle cx="345.4" cy="448.9" r="0.62" fill="#bcbcbc"/>
<circle cx="276.9" cy="488.3" r="0.62" fill="#bcbcbc"/>
<circle cx="271.5" cy="490.6" r="0.62" fill="#bcbcbc"/>
<circle cx="279.3" cy="483.6" r="0.62" fill="#bcbcbc"/>
<circle cx="341.3" cy="450.6" r="0.62" fill="#bcbcbc"/>
<circle cx="349.2" cy="449.2" r="0.62" fill="#bcbcbc"/>
<circle cx="321.4" cy="463.4" r="0.62" fill="#bcbcbc"/>
<circle cx="266.3" cy="492.8" r="0.62" fill="#bcbcbc"/>
<circle cx="309.3" cy="469.0" r="0.62" fill="#bcbcbc"/>
<circle cx="296.7" cy="476.4" r="0.62" fill="#bcbcbc"/>
<circle cx="289.8" cy="482.2" r="0.62" fill="#bcbcbc"/>
<circle cx="296.1" cy="477.5" r="0.62" fill="#bcbcbc"/>
<circle cx="305.5" cy="471.5" r="0.62" fill="#bcbcbc"/>
<circle cx="363.8" cy="437.4" r="0.62" fill="#bcbcbc"/>
<circle cx="343.5" cy="452.5" r="0.62" fill="#bcbcbc"/>
<circle cx="326.6" cy="458.9" r="0.62" fill="#bcbcbc"/>
<circle cx="311.9" cy="468.8" r="0.62" fill="#bcbcbc"/>
<circle cx="318.1" cy="463.4" r="0.62" fill="#bcbcbc"/>
<circle cx="327.7" cy="458.1" r="0.62" fill="#bcbcbc"/>
<circle cx="270.1" cy="491.9" r="0.62" fill="#bcbcbc"/>
<circle cx="270.7" cy="490.4" r="0.62" fill="#bcbcbc"/>
<circle cx="336.9" cy="455.7" r="0.62" fill="#bcbcbc"/>
<circle cx="331.7" cy="455.8" r="0.62" fill="#bcbcbc"/>
<circle cx="285.9" cy="486.5" r="0.62" fill="#bcbcbc"/>
<circle cx="331.9" cy="459.3" r="0.62" fill="#bcbcbc"/>
<circle cx="326.6" cy="461.1" r="0.62" fill="#bcbcbc"/>
<circle cx="360.6" cy="442.5" r="0.62" fill="#bcbcbc"/>
<circle cx="346.2" cy="447.4" r="0.62" fill="#bcbcbc"/>
<circle cx="334.5" cy="454.7" r="0.62" fill="#bcbcbc"/>
<circle cx="309.8" cy="468.8" r="0.62" fill="#bcbcbc"/>
<circle cx="353.2" cy="445.2" r="0.62" fill="#bcbcbc"/>
<circle cx="312.7" cy="472.1" r="0.62" fill="#bcbcbc"/>
<circle cx="297.2" cy="478.2" r="0.62" fill="#bcbcbc"/>
<circle cx="277.6" cy="487.9" r="0.62" fill="#bcbcbc"/>
<circle cx="324.7" cy="463.8" r="0.62" fill="#bcbcbc"/>
<circle cx="320.3" cy="461.6" r="0.62" fill="#bcbcbc"/>
<circle cx="296.5" cy="478.9" r="0.62" fill="#bcbcbc"/>
<circle cx="313.7" cy="468.8" r="0.62" fill="#bcbcbc"/>
<circle cx="331.8" cy="454.8" r="0.62" fill="#bcbcbc"/>
<circle cx="280.4" cy="488.5" r="0.62" fill="#bcbcbc"/>
<circle cx="288.7" cy="481.3" r="0.62" fill="#bcbcbc"/>
<circle cx="353.3" cy="447.0" r="0.62" fill="#bcbcbc"/>
<circle cx="276.7" cy="486.5" r="0.62" fill="#bcbcbc"/>
<circle cx="281.5" cy="483.7" r="0.62" fill="#bcbcbc"/>
<circle cx="269.1" cy="489.9" r="0.62" fill="#bcbcbc"/>
<circle cx="351.1" cy="444.9" r="0.62" fill="#bcbcbc"/>
<circle cx="333.2" cy="454.8" r="0.62" fill="#bcbcbc"/>
<circle cx="311.1" cy="469.6" r="0.62" fill="#bcbcbc"/>
<circle cx="354.2" cy="443.9" r="0.62" fill="#bcbcbc"/>
<circle cx="319.4" cy="465.3" r="0.62" fill="#bcbcbc"/>
<circle cx="361.8" cy="440.1" r="0.62" fill="#bcbcbc"/>
<circle cx="272.7" cy="490.9" r="0.62" fill="#bcbcbc"/>
<circle cx="314.7" cy="465.9" r="0.62" fill="#bcbcbc"/>
<circle cx="278.6" cy="486.7" r="0.62" fill="#bcbcbc"/>
<circle cx="318.2" cy="463.3" r="0.62" fill="#bcbcbc"/>
<circle cx="333.4" cy="454.3" r="0.62" fill="#bcbcbc"/>
<circle cx="269.1" cy="489.7" r="0.62" fill="#bcbcbc"/>
<circle cx="360.7" cy="440.9" r="0.62" fill="#bcbcbc"/>
<circle cx="289.9" cy="482.1" r="0.62" fill="#bcbcbc"/>
<circle cx="356.9" cy="441.0" r="0.62" fill="#bcbcbc"/>
<circle cx="281.8" cy="484.4" r="0.62" fill="#bcbcbc"/>
<circle cx="305.6" cy="469.1" r="0.62" fill="#bcbcbc"/>
<circle cx="271.7" cy="491.5" r="0.62" fill="#bcbcbc"/>
<circle cx="271.1" cy="492.3" r="0.62" fill="#bcbcbc"/>
<circle cx="275.5" cy="488.5" r="0.62" fill="#bcbcbc"/>
<circle cx="336.7" cy="453.7" r="0.62" fill="#bcbcbc"/>
<circle cx="334.2" cy="456.8" r="0.62" fill="#bcbcbc"/>
<circle cx="331.5" cy="454.6" r="0.62" fill="#bcbcbc"/>
<circle cx="356.6" cy="445.0" r="0.62" fill="#bcbcbc"/>
<circle cx="361.7" cy="439.5" r="0.62" fill="#bcbcbc"/>
<circle cx="271.9" cy="491.5" r="0.62" fill="#bcbcbc"/>
<circle cx="279.9" cy="486.8" r="0.62" fill="#bcbcbc"/>
<circle cx="295.3" cy="475.5" r="0.62" fill="#bcbcbc"/>
<circle cx="335.0" cy="455.8" r="0.62" fill="#bcbcbc"/>
<circle cx="270.5" cy="490.3" r="0.62" fill="#bcbcbc"/>
<circle cx="295.4" cy="478.8" r="0.62" fill="#bcbcbc"/>
<circle cx="272.9" cy="489.3" r="0.62" fill="#bcbcbc"/>
<circle cx="328.2" cy="458.2" r="0.62" fill="#bcbcbc"/>
<circle cx="307.6" cy="474.4" r="0.62" fill="#bcbcbc"/>
<circle cx="269.7" cy="491.4" r="0.62" fill="#bcbcbc"/>
<circle cx="336.9" cy="453.9" r="0.62" fill="#bcbcbc"/>
<circle cx="272.8" cy="489.2" r="0.62" fill="#bcbcbc"/>
<circle cx="305.9" cy="470.2" r="0.62" fill="#bcbcbc"/>
<circle cx="355.9" cy="445.3" r="0.62" fill="#bcbcbc"/>
<circle cx="296.0" cy="476.9" r="0.62" fill="#bcbcbc"/>
<circle cx="329.7" cy="460.0" r="0.62" fill="#bcbcbc"/>
<circle cx="340.4" cy="451.0" r="0.62" fill="#bcbcbc"/>
<circle cx="291.7" cy="479.2" r="0.62" fill="#bcbcbc"/>
<circle cx="347.4" cy="447.7" r="0.62" fill="#bcbcbc"/>
<circle cx="299.9" cy="475.1" r="0.62" fill="#bcbcbc"/>
<circle cx="282.6" cy="484.7" r="0.62" fill="#bcbcbc"/>
<circle cx="285.6" cy="482.8" r="0.62" fill="#bcbcbc"/>
<circle cx="271.3" cy="486.9" r="0.62" fill="#bcbcbc"/>
<circle cx="312.4" cy="468.7" r="0.62" fill="#bcbcbc"/>
<circle cx="296.5" cy="477.7" r="0.62" fill="#bcbcbc"/>
<circle cx="293.5" cy="478.5" r="0.62" fill="#bcbcbc"/>
<circle cx="293.0" cy="490.5" r="0.65" fill="#c6c6c6"/>
<circle cx="266.9" cy="503.5" r="0.65" fill="#c6c6c6"/>
<circle cx="247.0" cy="518.3" r="0.65" fill="#c6c6c6"/>
<circle cx="268.2" cy="506.8" r="0.65" fill="#c6c6c6"/>
<circle cx="276.0" cy="499.2" r="0.65" fill="#c6c6c6"/>
<circle cx="302.5" cy="477.5" r="0.65" fill="#c6c6c6"/>
<circle cx="271.7" cy="498.1" r="0.65" fill="#c6c6c6"/>
<circle cx="262.2" cy="507.2" r="0.65" fill="#c6c6c6"/>
<circle cx="301.4" cy="475.6" r="0.65" fill="#c6c6c6"/>
<circle cx="249.1" cy="512.3" r="0.65" fill="#c6c6c6"/>
<circle cx="268.8" cy="502.7" r="0.65" fill="#c6c6c6"/>
<circle cx="280.4" cy="489.0" r="0.65" fill="#c6c6c6"/>
<circle cx="298.3" cy="476.3" r="0.65" fill="#c6c6c6"/>
<circle cx="248.1" cy="512.9" r="0.65" fill="#c6c6c6"/>
<circle cx="247.4" cy="518.5" r="0.65" fill="#c6c6c6"/>
<circle cx="296.7" cy="476.9" r="0.65" fill="#c6c6c6"/>
<circle cx="293.9" cy="486.4" r="0.65" fill="#c6c6c6"/>
<circle cx="303.9" cy="473.6" r="0.65" fill="#c6c6c6"/>
<circle cx="289.9" cy="487.9" r="0.65" fill="#c6c6c6"/>
<circle cx="291.3" cy="483.6" r="0.65" fill="#c6c6c6"/>
<circle cx="270.5" cy="513.3" r="0.65" fill="#c6c6c6"/>
<circle cx="258.6" cy="507.3" r="0.65" fill="#c6c6c6"/>
<circle cx="270.4" cy="500.1" r="0.65" fill="#c6c6c6"/>
<circle cx="262.6" cy="511.0" r="0.65" fill="#c6c6c6"/>
<circle cx="284.7" cy="491.7" r="0.65" fill="#c6c6c6"/>
<circle cx="272.5" cy="500.8" r="0.65" fill="#c6c6c6"/>
<circle cx="250.3" cy="509.5" r="0.65" fill="#c6c6c6"/>
<circle cx="297.3" cy="486.3" r="0.65" fill="#c6c6c6"/>
<circle cx="257.4" cy="517.9" r="0.65" fill="#c6c6c6"/>
<circle cx="301.7" cy="478.1" r="0.65" fill="#c6c6c6"/>
<circle cx="280.7" cy="494.9" r="0.65" fill="#c6c6c6"/>
<circle cx="299.4" cy="481.2" r="0.65" fill="#c6c6c6"/>
<circle cx="300.4" cy="480.7" r="0.65" fill="#c6c6c6"/>
<circle cx="270.9" cy="500.8" r="0.65" fill="#c6c6c6"/>
<circle cx="261.5" cy="507.5" r="0.65" fill="#c6c6c6"/>
<circle cx="291.0" cy="481.4" r="0.65" fill="#c6c6c6"/>
<circle cx="254.8" cy="501.6" r="0.65" fill="#c6c6c6"/>
<circle cx="286.7" cy="487.2" r="0.65" fill="#c6c6c6"/>
<circle cx="251.2" cy="519.5" r="0.65" fill="#c6c6c6"/>
<circle cx="267.7" cy="506.4" r="0.65" fill="#c6c6c6"/>
<circle cx="267.4" cy="497.7" r="0.65" fill="#c6c6c6"/>
<circle cx="302.0" cy="477.7" r="0.65" fill="#c6c6c6"/>
<circle cx="260.0" cy="505.7" r="0.65" fill="#c6c6c6"/>
<circle cx="277.6" cy="494.0" r="0.65" fill="#c6c6c6"/>
<circle cx="288.4" cy="490.2" r="0.65" fill="#c6c6c6"/>
<circle cx="286.9" cy="491.7" r="0.65" fill="#c6c6c6"/>
<circle cx="246.5" cy="519.2" r="0.65" fill="#c6c6c6"/>
<circle cx="275.2" cy="492.9" r="0.65" fill="#c6c6c6"/>
<circle cx="281.4" cy="492.8" r="0.65" fill="#c6c6c6"/>
<circle cx="275.0" cy="495.9" r="0.65" fill="#c6c6c6"/>
<circle cx="248.2" cy="514.6" r="0.65" fill="#c6c6c6"/>
<circle cx="247.2" cy="520.5" r="0.65" fill="#c6c6c6"/>
<circle cx="263.3" cy="500.5" r="0.65" fill="#c6c6c6"/>
<circle cx="299.6" cy="480.6" r="0.65" fill="#c6c6c6"/>
<circle cx="267.5" cy="496.7" r="0.65" fill="#c6c6c6"/>
<circle cx="300.4" cy="477.0" r="0.65" fill="#c6c6c6"/>
<circle cx="301.1" cy="481.1" r="0.65" fill="#c6c6c6"/>
<circle cx="255.7" cy="511.5" r="0.65" fill="#c6c6c6"/>
<circle cx="300.0" cy="482.3" r="0.65" fill="#c6c6c6"/>
<circle cx="288.7" cy="489.0" r="0.65" fill="#c6c6c6"/>
<circle cx="276.7" cy="489.0" r="0.65" fill="#c6c6c6"/>
<circle cx="263.4" cy="511.8" r="0.65" fill="#c6c6c6"/>
<circle cx="278.0" cy="496.0" r="0.65" fill="#c6c6c6"/>
<circle cx="266.4" cy="501.8" r="0.65" fill="#c6c6c6"/>
<circle cx="274.7" cy="495.0" r="0.65" fill="#c6c6c6"/>
<circle cx="272.3" cy="498.2" r="0.65" fill="#c6c6c6"/>
<circle cx="249.5" cy="519.5" r="0.65" fill="#c6c6c6"/>
<circle cx="254.3" cy="514.7" r="0.65" fill="#c6c6c6"/>
<circle cx="302.1" cy="476.6" r="0.65" fill="#c6c6c6"/>
<circle cx="291.5" cy="488.1" r="0.65" fill="#c6c6c6"/>
<circle cx="289.0" cy="486.2" r="0.65" fill="#c6c6c6"/>
<circle cx="282.3" cy="499.3" r="0.65" fill="#c6c6c6"/>
<circle cx="268.5" cy="500.0" r="0.65" fill="#c6c6c6"/>
<circle cx="261.3" cy="505.4" r="0.65" fill="#c6c6c6"/>
<circle cx="296.8" cy="473.0" r="0.65" fill="#c6c6c6"/>
<circle cx="256.3" cy="514.5" r="0.65" fill="#c6c6c6"/>
<circle cx="254.0" cy="519.2" r="0.65" fill="#c6c6c6"/>
<circle cx="278.6" cy="496.7" r="0.65" fill="#c6c6c6"/>
<circle cx="246.6" cy="525.8" r="0.65" fill="#c6c6c6"/>
<circle cx="274.7" cy="499.5" r="0.65" fill="#c6c6c6"/>
<circle cx="296.5" cy="486.3" r="0.65" fill="#c6c6c6"/>
<circle cx="252.8" cy="515.2" r="0.65" fill="#c6c6c6"/>
<circle cx="287.8" cy="483.4" r="0.65" fill="#c6c6c6"/>
<circle cx="258.8" cy="505.8" r="0.65" fill="#c6c6c6"/>
<circle cx="301.0" cy="478.8" r="0.65" fill="#c6c6c6"/>
<circle cx="285.7" cy="490.2" r="0.65" fill="#c6c6c6"/>
<circle cx="251.4" cy="519.0" r="0.65" fill="#c6c6c6"/>
<circle cx="283.6" cy="492.6" r="0.65" fill="#c6c6c6"/>
<circle cx="297.7" cy="479.9" r="0.65" fill="#c6c6c6"/>
<circle cx="283.3" cy="489.5" r="0.65" fill="#c6c6c6"/>
<circle cx="294.9" cy="487.2" r="0.65" fill="#c6c6c6"/>
<circle cx="261.0" cy="512.4" r="0.65" fill="#c6c6c6"/>
<circle cx="263.3" cy="512.7" r="0.65" fill="#c6c6c6"/>
<circle cx="275.9" cy="496.6" r="0.65" fill="#c6c6c6"/>
<circle cx="298.3" cy="477.5" r="0.65" fill="#c6c6c6"/>
<circle cx="258.6" cy="510.1" r="0.65" fill="#c6c6c6"/>
<circle cx="261.3" cy="510.1" r="0.65" fill="#c6c6c6"/>
<circle cx="251.1" cy="514.3" r="0.65" fill="#c6c6c6"/>
<circle cx="266.5" cy="507.4" r="0.65" fill="#c6c6c6"/>
<circle cx="282.1" cy="494.0" r="0.65" fill="#c6c6c6"/>
<circle cx="283.7" cy="491.7" r="0.65" fill="#c6c6c6"/>
<circle cx="274.5" cy="499.6" r="0.65" fill="#c6c6c6"/>
<circle cx="285.9" cy="484.2" r="0.65" fill="#c6c6c6"/>
<circle cx="298.9" cy="481.0" r="0.65" fill="#c6c6c6"/>
<circle cx="254.4" cy="512.2" r="0.65" fill="#c6c6c6"/>
<circle cx="277.1" cy="500.3" r="0.65" fill="#c6c6c6"/>
<circle cx="298.2" cy="474.3" r="0.65" fill="#c6c6c6"/>
<circle cx="270.3" cy="498.7" r="0.65" fill="#c6c6c6"/>
<circle cx="291.5" cy="486.6" r="0.65" fill="#c6c6c6"/>
<circle cx="252.3" cy="511.4" r="0.65" fill="#c6c6c6"/>
<circle cx="261.0" cy="502.5" r="0.65" fill="#c6c6c6"/>
<circle cx="261.3" cy="514.0" r="0.65" fill="#c6c6c6"/>
<circle cx="282.5" cy="485.3" r="0.65" fill="#c6c6c6"/>
<circle cx="252.8" cy="506.2" r="0.65" fill="#c6c6c6"/>
<circle cx="290.7" cy="484.5" r="0.65" fill="#c6c6c6"/>
<circle cx="282.7" cy="493.1" r="0.65" fill="#c6c6c6"/>
<circle cx="295.0" cy="481.2" r="0.65" fill="#c6c6c6"/>
<circle cx="302.4" cy="476.1" r="0.65" fill="#c6c6c6"/>
<circle cx="268.3" cy="498.1" r="0.65" fill="#c6c6c6"/>
<circle cx="261.1" cy="502.8" r="0.65" fill="#c6c6c6"/>
<circle cx="269.7" cy="500.4" r="0.65" fill="#c6c6c6"/>
<circle cx="249.7" cy="517.8" r="0.65" fill="#c6c6c6"/>
<circle cx="287.6" cy="481.0" r="0.65" fill="#c6c6c6"/>
<circle cx="249.6" cy="520.6" r="0.65" fill="#c6c6c6"/>
<circle cx="263.5" cy="510.0" r="0.65" fill="#c6c6c6"/>
<circle cx="291.9" cy="493.3" r="0.65" fill="#c6c6c6"/>
<circle cx="298.0" cy="478.1" r="0.65" fill="#c6c6c6"/>
<circle cx="270.1" cy="500.8" r="0.65" fill="#c6c6c6"/>
<circle cx="259.1" cy="514.2" r="0.65" fill="#c6c6c6"/>
<circle cx="262.8" cy="507.3" r="0.65" fill="#c6c6c6"/>
<circle cx="252.3" cy="505.0" r="0.65" fill="#c6c6c6"/>
<circle cx="300.9" cy="477.2" r="0.65" fill="#c6c6c6"/>
<circle cx="273.0" cy="504.2" r="0.65" fill="#c6c6c6"/>
<circle cx="252.7" cy="518.1" r="0.65" fill="#c6c6c6"/>
<circle cx="277.2" cy="505.8" r="0.65" fill="#c6c6c6"/>
<circle cx="277.5" cy="501.3" r="0.65" fill="#c6c6c6"/>
<circle cx="271.4" cy="499.3" r="0.65" fill="#c6c6c6"/>
<circle cx="302.4" cy="481.7" r="0.65" fill="#c6c6c6"/>
<circle cx="270.8" cy="501.6" r="0.65" fill="#c6c6c6"/>
<circle cx="299.3" cy="483.7" r="0.65" fill="#c6c6c6"/>
<circle cx="268.1" cy="496.4" r="0.65" fill="#c6c6c6"/>
<circle cx="264.9" cy="498.2" r="0.65" fill="#c6c6c6"/>
<circle cx="293.0" cy="481.6" r="0.65" fill="#c6c6c6"/>
<circle cx="249.1" cy="516.3" r="0.65" fill="#c6c6c6"/>
<circle cx="300.5" cy="473.9" r="0.65" fill="#c6c6c6"/>
<circle cx="299.2" cy="480.0" r="0.65" fill="#c6c6c6"/>
<circle cx="279.3" cy="490.8" r="0.65" fill="#c6c6c6"/>
<circle cx="289.2" cy="486.6" r="0.65" fill="#c6c6c6"/>
<circle cx="260.9" cy="501.2" r="0.65" fill="#c6c6c6"/>
<circle cx="281.1" cy="493.9" r="0.65" fill="#c6c6c6"/>
<circle cx="253.8" cy="515.0" r="0.65" fill="#c6c6c6"/>
<circle cx="288.3" cy="493.2" r="0.65" fill="#c6c6c6"/>
<circle cx="252.0" cy="516.7" r="0.65" fill="#c6c6c6"/>
<circle cx="255.7" cy="511.7" r="0.65" fill="#c6c6c6"/>
<circle cx="251.2" cy="509.8" r="0.65" fill="#c6c6c6"/>
<circle cx="295.7" cy="483.5" r="0.65" fill="#c6c6c6"/>
<circle cx="255.5" cy="511.3" r="0.65" fill="#c6c6c6"/>
<circle cx="279.7" cy="492.0" r="0.65" fill="#c6c6c6"/>
<circle cx="260.6" cy="507.2" r="0.65" fill="#c6c6c6"/>
<circle cx="287.8" cy="488.7" r="0.65" fill="#c6c6c6"/>
<circle cx="368.3" cy="436.2" r="0.75" fill="#c2c2c2"/>
<circle cx="373.0" cy="431.5" r="0.75" fill="#c2c2c2"/>
<circle cx="377.0" cy="432.5" r="0.75" fill="#c2c2c2"/>
<circle cx="383.5" cy="423.9" r="0.75" fill="#c2c2c2"/>
<circle cx="391.1" cy="421.8" r="0.75" fill="#c2c2c2"/>
<circle cx="435.5" cy="389.3" r="0.75" fill="#c2c2c2"/>
<circle cx="366.0" cy="438.5" r="0.75" fill="#c2c2c2"/>
<line x1="238.00" y1="449.50" x2="256.00" y2="485.40" stroke="#111" stroke-width="0.7"/>
<line x1="253.50" y1="459.50" x2="258.50" y2="490.70" stroke="#111" stroke-width="0.7"/>
<line x1="260.80" y1="469.50" x2="263.40" y2="488.10" stroke="#111" stroke-width="0.7"/>
<line x1="295.70" y1="466.50" x2="288.80" y2="473.10" stroke="#111" stroke-width="0.7"/>
<line x1="268.00" y1="480.00" x2="270.80" y2="487.10" stroke="#111" stroke-width="0.7"/>
<line x1="282.40" y1="483.50" x2="276.00" y2="484.30" stroke="#111" stroke-width="0.7"/>
<line x1="274.00" y1="490.50" x2="264.80" y2="490.70" stroke="#111" stroke-width="0.7"/>
<line x1="238.50" y1="493.80" x2="244.80" y2="496.00" stroke="#111" stroke-width="0.7"/>
<line x1="276.00" y1="498.00" x2="259.50" y2="492.50" stroke="#111" stroke-width="0.7"/>
<line x1="281.00" y1="504.50" x2="259.00" y2="491.50" stroke="#111" stroke-width="0.7"/>
<line x1="248.00" y1="506.50" x2="253.20" y2="497.70" stroke="#111" stroke-width="0.7"/>
<line x1="277.00" y1="511.00" x2="260.20" y2="494.30" stroke="#111" stroke-width="0.7"/>
<line x1="327.30" y1="437.20" x2="329.20" y2="442.30" stroke="#111" stroke-width="0.7"/>
<line x1="345.80" y1="428.50" x2="350.90" y2="425.70" stroke="#111" stroke-width="0.7"/>
<line x1="314.60" y1="447.40" x2="319.20" y2="445.30" stroke="#111" stroke-width="0.7"/>
<line x1="330.50" y1="448.50" x2="328.90" y2="446.30" stroke="#111" stroke-width="0.7"/>
<circle cx="256.0" cy="485.4" r="0.95" fill="#c0102a"/>
<text x="235.00" y="447.60" font-size="7.4" text-anchor="start" fill="#1a1a1a" stroke="#1a1a1a" stroke-width="0.15" font-style="italic">CMTM6</text>
<circle cx="258.5" cy="490.7" r="0.95" fill="#c0102a"/>
<text x="246.30" y="457.10" font-size="7.4" text-anchor="start" fill="#1a1a1a" stroke="#1a1a1a" stroke-width="0.15" font-style="italic">IL2RA</text>
<circle cx="263.4" cy="488.1" r="0.95" fill="#c0102a"/>
<text x="257.00" y="467.20" font-size="7.4" text-anchor="start" fill="#1a1a1a" stroke="#1a1a1a" stroke-width="0.15" font-style="italic">CDK6</text>
<circle cx="288.8" cy="473.1" r="0.95" fill="#c0102a"/>
<text x="291.00" y="466.00" font-size="7.4" text-anchor="start" fill="#1a1a1a" stroke="#1a1a1a" stroke-width="0.15" font-style="italic">PRF1</text>
<circle cx="270.8" cy="487.1" r="0.95" fill="#c0102a"/>
<text x="262.30" y="478.60" font-size="7.4" text-anchor="start" fill="#1a1a1a" stroke="#1a1a1a" stroke-width="0.15" font-style="italic">SAMSN1</text>
<circle cx="276.0" cy="484.3" r="0.95" fill="#c0102a"/>
<text x="282.40" y="485.90" font-size="7.4" text-anchor="start" fill="#1a1a1a" stroke="#1a1a1a" stroke-width="0.15" font-style="italic">HAVCR2</text>
<circle cx="264.8" cy="490.7" r="0.95" fill="#c0102a"/>
<text x="274.00" y="492.90" font-size="7.4" text-anchor="start" fill="#1a1a1a" stroke="#1a1a1a" stroke-width="0.15" font-style="italic">IVNS1ABP</text>
<circle cx="244.8" cy="496.0" r="0.95" fill="#c0102a"/>
<text x="228.80" y="492.90" font-size="7.4" text-anchor="start" fill="#1a1a1a" stroke="#1a1a1a" stroke-width="0.15" font-style="italic">SOCS2</text>
<circle cx="259.5" cy="492.5" r="0.95" fill="#c0102a"/>
<text x="275.40" y="500.60" font-size="7.4" text-anchor="start" fill="#1a1a1a" stroke="#1a1a1a" stroke-width="0.15" font-style="italic">XBP1</text>
<circle cx="259.0" cy="491.5" r="0.95" fill="#c0102a"/>
<text x="280.30" y="507.60" font-size="7.4" text-anchor="start" fill="#1a1a1a" stroke="#1a1a1a" stroke-width="0.15" font-style="italic">CCND2</text>
<circle cx="253.2" cy="497.7" r="0.95" fill="#c0102a"/>
<text x="235.10" y="514.30" font-size="7.4" text-anchor="start" fill="#1a1a1a" stroke="#1a1a1a" stroke-width="0.15" font-style="italic">RAB11FIP1</text>
<circle cx="260.2" cy="494.3" r="0.95" fill="#c0102a"/>
<text x="275.40" y="518.00" font-size="7.4" text-anchor="start" fill="#1a1a1a" stroke="#1a1a1a" stroke-width="0.15" font-style="italic">SNX10</text>
<circle cx="329.2" cy="442.3" r="0.95" fill="#c0102a"/>
<text x="314.80" y="435.70" font-size="7.4" text-anchor="start" fill="#1a1a1a" stroke="#1a1a1a" stroke-width="0.15" font-style="italic">GZMB</text>
<circle cx="350.9" cy="425.7" r="0.95" fill="#c0102a"/>
<text x="340.50" y="435.70" font-size="7.4" text-anchor="start" fill="#1a1a1a" stroke="#1a1a1a" stroke-width="0.15" font-style="italic">CCL4</text>
<circle cx="319.2" cy="445.3" r="0.95" fill="#c0102a"/>
<text x="305.40" y="455.30" font-size="7.4" text-anchor="start" fill="#1a1a1a" stroke="#1a1a1a" stroke-width="0.15" font-style="italic">CCL3</text>
<circle cx="328.9" cy="446.3" r="0.95" fill="#c0102a"/>
<text x="328.90" y="453.70" font-size="7.4" text-anchor="start" fill="#1a1a1a" stroke="#1a1a1a" stroke-width="0.15" font-style="italic">CCL4L2</text>
<rect x="251.30" y="611.95" width="103.49" height="5.10" fill="#2b4788"/>
<line x1="247.60" y1="614.50" x2="251.30" y2="614.50" stroke="#000" stroke-width="1.0"/>
<text x="243.80" y="616.95" font-size="7.12" text-anchor="end" fill="#111" stroke="#111" stroke-width="0.15">regulation of cell activation</text>
<rect x="251.30" y="618.83" width="66.44" height="5.10" fill="#2b4788"/>
<line x1="247.60" y1="621.38" x2="251.30" y2="621.38" stroke="#000" stroke-width="1.0"/>
<text x="243.80" y="623.83" font-size="7.12" text-anchor="end" fill="#111" stroke="#111" stroke-width="0.15">cell communication</text>
<rect x="251.30" y="625.71" width="64.68" height="5.10" fill="#2b4788"/>
<line x1="247.60" y1="628.26" x2="251.30" y2="628.26" stroke="#000" stroke-width="1.0"/>
<text x="243.80" y="630.71" font-size="7.12" text-anchor="end" fill="#111" stroke="#111" stroke-width="0.15">signal transduction</text>
<rect x="251.30" y="632.59" width="64.39" height="5.10" fill="#2b4788"/>
<line x1="247.60" y1="635.14" x2="251.30" y2="635.14" stroke="#000" stroke-width="1.0"/>
<text x="243.80" y="637.59" font-size="7.12" text-anchor="end" fill="#111" stroke="#111" stroke-width="0.15">regulation of lymphocyte proliferation</text>
<rect x="251.30" y="639.47" width="62.33" height="5.10" fill="#2b4788"/>
<line x1="247.60" y1="642.02" x2="251.30" y2="642.02" stroke="#000" stroke-width="1.0"/>
<text x="243.80" y="644.47" font-size="7.12" text-anchor="end" fill="#111" stroke="#111" stroke-width="0.15">positive regulation of interferon-gamma production</text>
<rect x="251.30" y="646.35" width="57.92" height="5.10" fill="#2b4788"/>
<line x1="247.60" y1="648.90" x2="251.30" y2="648.90" stroke="#000" stroke-width="1.0"/>
<text x="243.80" y="651.35" font-size="7.12" text-anchor="end" fill="#111" stroke="#111" stroke-width="0.15">positive regulation of cell-cell adhesion</text>
<rect x="251.30" y="653.23" width="57.92" height="5.10" fill="#2b4788"/>
<line x1="247.60" y1="655.78" x2="251.30" y2="655.78" stroke="#000" stroke-width="1.0"/>
<text x="243.80" y="658.23" font-size="7.12" text-anchor="end" fill="#111" stroke="#111" stroke-width="0.15">positive regulation of granzyme B production</text>
<rect x="251.30" y="660.11" width="54.98" height="5.10" fill="#2b4788"/>
<line x1="247.60" y1="662.66" x2="251.30" y2="662.66" stroke="#000" stroke-width="1.0"/>
<text x="243.80" y="665.11" font-size="7.12" text-anchor="end" fill="#111" stroke="#111" stroke-width="0.15">regulation of calcium ion import across plasma membrane</text>
<rect x="251.30" y="666.99" width="54.68" height="5.10" fill="#2b4788"/>
<line x1="247.60" y1="669.54" x2="251.30" y2="669.54" stroke="#000" stroke-width="1.0"/>
<text x="243.80" y="671.99" font-size="7.12" text-anchor="end" fill="#111" stroke="#111" stroke-width="0.15">positive regulation of CD8-positive, alpha-beta T cell proliferation</text>
<rect x="251.30" y="673.87" width="48.80" height="5.10" fill="#2b4788"/>
<line x1="247.60" y1="676.42" x2="251.30" y2="676.42" stroke="#000" stroke-width="1.0"/>
<text x="243.80" y="678.87" font-size="7.12" text-anchor="end" fill="#111" stroke="#111" stroke-width="0.15">positive regulation of natural killer cell chemotaxis</text>
<rect x="251.30" y="680.75" width="48.80" height="5.10" fill="#2b4788"/>
<line x1="247.60" y1="683.30" x2="251.30" y2="683.30" stroke="#000" stroke-width="1.0"/>
<text x="243.80" y="685.75" font-size="7.12" text-anchor="end" fill="#111" stroke="#111" stroke-width="0.15">negative regulation of CD4-positive, alpha-beta T cell proliferation</text>
<rect x="251.30" y="687.63" width="46.75" height="5.10" fill="#2b4788"/>
<line x1="247.60" y1="690.18" x2="251.30" y2="690.18" stroke="#000" stroke-width="1.0"/>
<text x="243.80" y="692.63" font-size="7.12" text-anchor="end" fill="#111" stroke="#111" stroke-width="0.15">positive regulation of natural killer cell cytokine production</text>
<rect x="251.30" y="694.51" width="44.39" height="5.10" fill="#2b4788"/>
<line x1="247.60" y1="697.06" x2="251.30" y2="697.06" stroke="#000" stroke-width="1.0"/>
<text x="243.80" y="699.51" font-size="7.12" text-anchor="end" fill="#111" stroke="#111" stroke-width="0.15">lymphocyte chemotaxis</text>
<rect x="251.30" y="701.39" width="43.81" height="5.10" fill="#2b4788"/>
<line x1="247.60" y1="703.94" x2="251.30" y2="703.94" stroke="#000" stroke-width="1.0"/>
<text x="243.80" y="706.39" font-size="7.12" text-anchor="end" fill="#111" stroke="#111" stroke-width="0.15">regulation of natural killer cell mediated cytotoxicity</text>
<rect x="251.30" y="708.27" width="43.81" height="5.10" fill="#2b4788"/>
<line x1="247.60" y1="710.82" x2="251.30" y2="710.82" stroke="#000" stroke-width="1.0"/>
<text x="243.80" y="713.27" font-size="7.12" text-anchor="end" fill="#111" stroke="#111" stroke-width="0.15">regulation of interleukin-10 production</text>
<rect x="251.30" y="715.15" width="41.45" height="5.10" fill="#2b4788"/>
<line x1="247.60" y1="717.70" x2="251.30" y2="717.70" stroke="#000" stroke-width="1.0"/>
<text x="243.80" y="720.15" font-size="7.12" text-anchor="end" fill="#111" stroke="#111" stroke-width="0.15">regulation of interleukin-12 production</text>
<rect x="251.30" y="722.03" width="39.98" height="5.10" fill="#2b4788"/>
<line x1="247.60" y1="724.58" x2="251.30" y2="724.58" stroke="#000" stroke-width="1.0"/>
<text x="243.80" y="727.03" font-size="7.12" text-anchor="end" fill="#111" stroke="#111" stroke-width="0.15">regulation of tumor necrosis factor production</text>
<rect x="251.30" y="728.91" width="38.81" height="5.10" fill="#2b4788"/>
<line x1="247.60" y1="731.46" x2="251.30" y2="731.46" stroke="#000" stroke-width="1.0"/>
<text x="243.80" y="733.91" font-size="7.12" text-anchor="end" fill="#111" stroke="#111" stroke-width="0.15">leukocyte chemotaxis</text>
<line x1="251.30" y1="608.80" x2="251.30" y2="736.20" stroke="#000" stroke-width="1.1"/>
<line x1="250.80" y1="735.70" x2="372.40" y2="735.70" stroke="#000" stroke-width="1.1"/>
<line x1="251.30" y1="735.70" x2="251.30" y2="739.20" stroke="#000" stroke-width="1.0"/>
<text x="251.30" y="749.70" font-size="7.0" text-anchor="middle" fill="#222" stroke="#222" stroke-width="0.15">0</text>
<line x1="280.70" y1="735.70" x2="280.70" y2="739.20" stroke="#000" stroke-width="1.0"/>
<text x="280.70" y="749.70" font-size="7.0" text-anchor="middle" fill="#222" stroke="#222" stroke-width="0.15">1</text>
<line x1="310.10" y1="735.70" x2="310.10" y2="739.20" stroke="#000" stroke-width="1.0"/>
<text x="310.10" y="749.70" font-size="7.0" text-anchor="middle" fill="#222" stroke="#222" stroke-width="0.15">2</text>
<line x1="339.50" y1="735.70" x2="339.50" y2="739.20" stroke="#000" stroke-width="1.0"/>
<text x="339.50" y="749.70" font-size="7.0" text-anchor="middle" fill="#222" stroke="#222" stroke-width="0.15">3</text>
<line x1="368.90" y1="735.70" x2="368.90" y2="739.20" stroke="#000" stroke-width="1.0"/>
<text x="368.90" y="749.70" font-size="7.0" text-anchor="middle" fill="#222" stroke="#222" stroke-width="0.15">4</text>
<text x="0" y="0" font-size="9.4" text-anchor="middle" fill="#111" stroke="#111" stroke-width="0.15" transform="translate(311.70 763.20) scale(0.7213 1)">-log10(p-value)</text>
<rect x="372.80" y="670.40" width="8.40" height="3.80" fill="#2b4788"/>
<text x="385.00" y="675.00" font-size="8.8" text-anchor="start" fill="#111" stroke="#111" stroke-width="0.15">up-regulated</text>
<rect x="0" y="0" width="1.4" height="774" fill="#000"/>
<rect x="0" y="0" width="520" height="1.1" fill="#000"/>
<rect x="518.9" y="0" width="1.1" height="774" fill="#000"/>
<rect x="0" y="772.7" width="520" height="1.3" fill="#000"/>
</svg>
</body></html>
